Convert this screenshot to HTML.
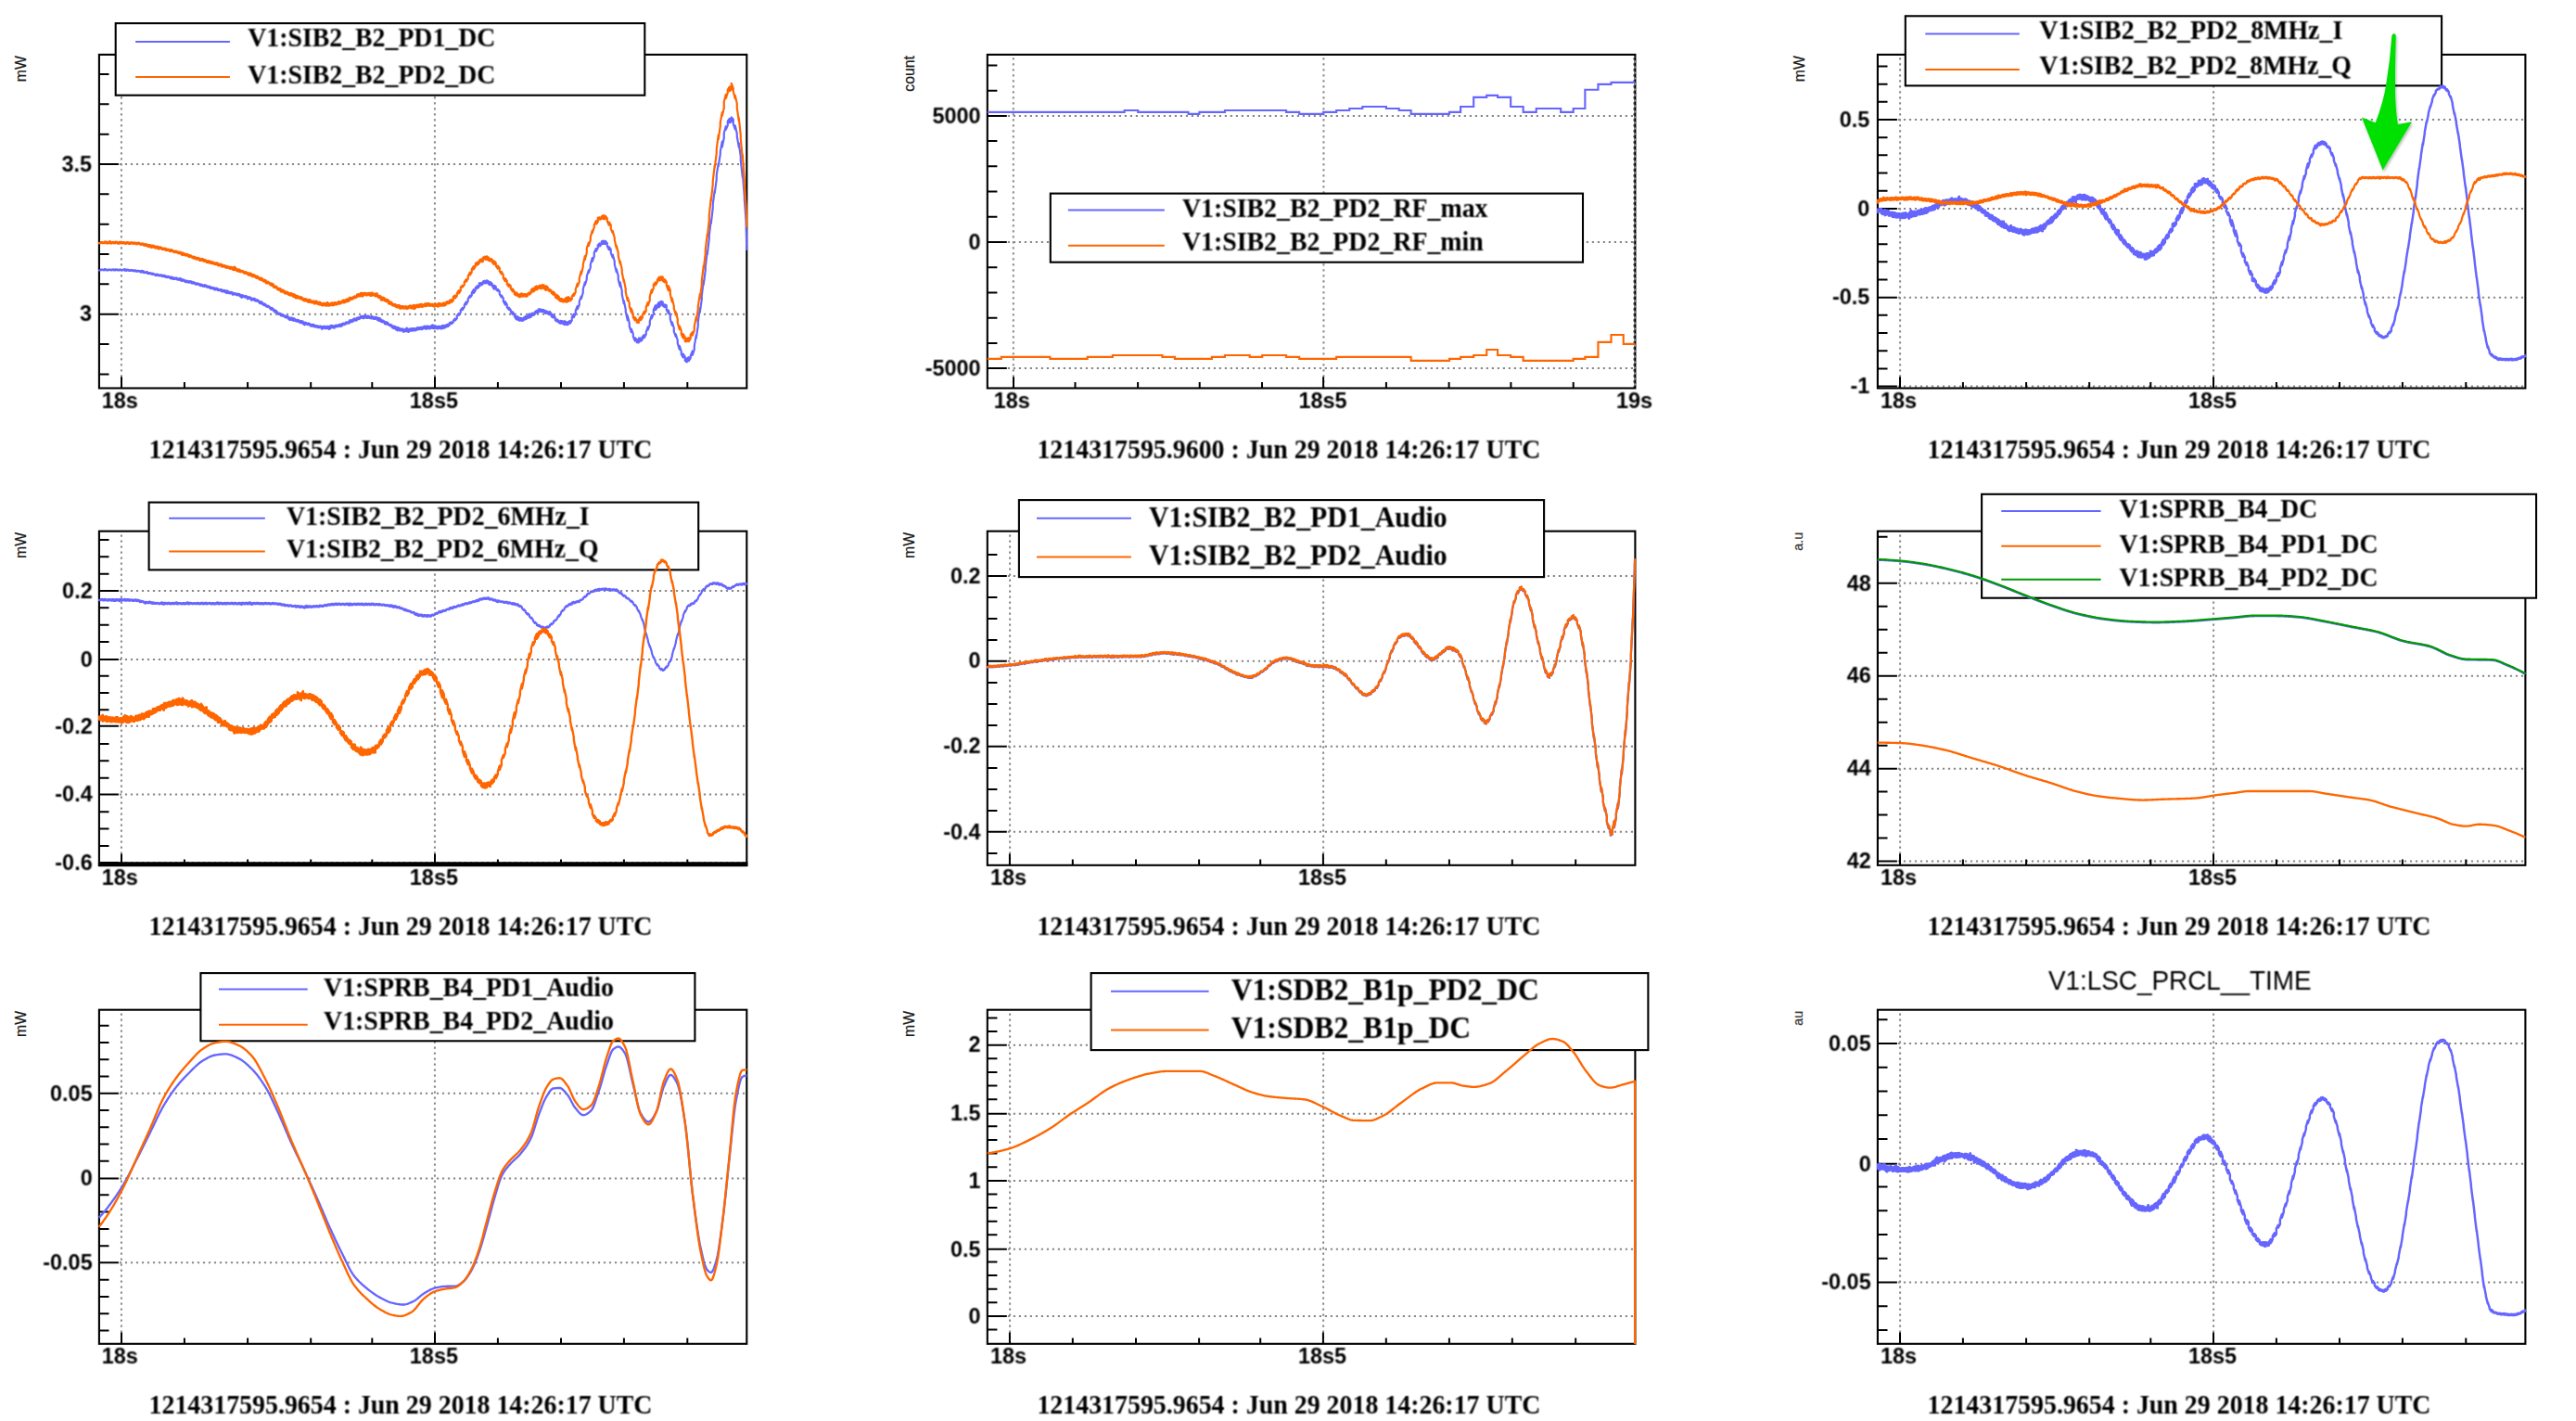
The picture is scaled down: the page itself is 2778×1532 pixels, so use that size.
<!DOCTYPE html>
<html lang="en"><head><meta charset="utf-8"><title>V1 lock acquisition signals</title>
<style>
html,body{margin:0;padding:0;background:#fff;}
body{width:2778px;height:1532px;overflow:hidden;}
svg{display:block;}
</style></head><body>
<svg width="2778" height="1532" viewBox="0 0 2778 1532">
<defs>
<clipPath id="c0"><rect x="105.9" y="57.9" width="700.6" height="361.6"/></clipPath>
<clipPath id="c1"><rect x="1063.8" y="57.9" width="700.8" height="361.6"/></clipPath>
<clipPath id="c2"><rect x="2023.9" y="57.9" width="700.7" height="361.6"/></clipPath>
<clipPath id="c3"><rect x="105.9" y="571.7" width="700.6" height="362.1"/></clipPath>
<clipPath id="c4"><rect x="1063.8" y="571.7" width="700.8" height="362.1"/></clipPath>
<clipPath id="c5"><rect x="2023.9" y="571.7" width="700.7" height="362.1"/></clipPath>
<clipPath id="c6"><rect x="105.9" y="1087.7" width="700.6" height="362.1"/></clipPath>
<clipPath id="c7"><rect x="1063.8" y="1087.7" width="700.8" height="362.1"/></clipPath>
<clipPath id="c8"><rect x="2023.9" y="1087.7" width="700.7" height="362.1"/></clipPath>
<filter id="sh" x="-30%" y="-10%" width="160%" height="130%"><feGaussianBlur in="SourceAlpha" stdDeviation="1.5"/><feOffset dx="1.2" dy="1.6"/><feComponentTransfer><feFuncA type="linear" slope="0.3"/></feComponentTransfer><feMerge><feMergeNode/><feMergeNode in="SourceGraphic"/></feMerge></filter>
<filter id="tb" x="-2%" y="-20%" width="104%" height="140%" color-interpolation-filters="sRGB"><feConvolveMatrix order="3" kernelMatrix="1 2 1 2 4 2 1 2 1" divisor="16" edgeMode="none" preserveAlpha="false"/></filter>
</defs>
<rect width="2778" height="1532" fill="#ffffff"/>
<g>
<path d="M130.9 418.5 V58.9 M468.9 418.5 V58.9 M128.9 177 H805.3 M128.9 338.7 H805.3" stroke="#888888" stroke-width="2" stroke-dasharray="2.2 3.8" fill="none"/>
<path d="M131 418.5 v-12.3 M198.9 418.5 v-6.4 M267.1 418.5 v-6.4 M335.2 418.5 v-6.4 M401.3 418.5 v-6.4 M469 418.5 v-12.3 M536.9 418.5 v-6.4 M605 418.5 v-6.4 M672.9 418.5 v-6.4 M741.3 418.5 v-6.4 M106.9 177 h21 M106.9 338.7 h21 M106.9 79.98 h10.6 M106.9 112.32 h10.6 M106.9 144.66 h10.6 M106.9 209.34 h10.6 M106.9 241.68 h10.6 M106.9 274.02 h10.6 M106.9 306.36 h10.6 M106.9 371.04 h10.6 M106.9 403.38 h10.6" stroke="#000" stroke-width="2" fill="none"/>
<rect x="106.9" y="58.9" width="698.4" height="359.6" fill="none" stroke="#000" stroke-width="2.1"/>
</g>
<g filter="url(#tb)" font-family="'Liberation Sans', Arial, Helvetica, sans-serif" font-weight="bold" font-size="24.8" fill="#000">
<text x="66.52" y="184.7" textLength="32.58" lengthAdjust="spacingAndGlyphs">3.5</text>
<text x="86.07" y="346.4" textLength="13.03" lengthAdjust="spacingAndGlyphs">3</text>
<text x="109.75" y="439.9" textLength="39.1" lengthAdjust="spacingAndGlyphs">18s</text>
<text x="441.83" y="439.9" textLength="52.14" lengthAdjust="spacingAndGlyphs">18s5</text>
</g>
<text transform="translate(28.4 60.1) rotate(-90)" text-anchor="end" font-family="'Liberation Sans', Arial, Helvetica, sans-serif" font-size="15.8" fill="#1a1a1a" stroke="#1a1a1a" stroke-width="0.25">mW</text>
<text filter="url(#tb)" x="160.5" y="493.9" font-family="'Liberation Serif', 'Times New Roman', Times, serif" font-weight="bold" font-size="29.26" textLength="543" lengthAdjust="spacingAndGlyphs" fill="#000">1214317595.9654 : Jun 29 2018 14:26:17 UTC</text>
<rect x="124.7" y="25.1" width="570.6" height="77.6" fill="#fff" stroke="#000" stroke-width="2.1"/>
<path d="M146.1 44.9 H247.9" stroke="#6666ff" stroke-width="2"/>
<text filter="url(#tb)" x="267.2" y="49.9" font-family="'Liberation Serif', 'Times New Roman', Times, serif" font-weight="bold" font-size="29.19" textLength="267.2" lengthAdjust="spacingAndGlyphs" fill="#000">V1:SIB2_B2_PD1_DC</text>
<path d="M146.1 82.9 H247.9" stroke="#ff6600" stroke-width="2"/>
<text filter="url(#tb)" x="267.2" y="89.5" font-family="'Liberation Serif', 'Times New Roman', Times, serif" font-weight="bold" font-size="29.19" textLength="267.2" lengthAdjust="spacingAndGlyphs" fill="#000">V1:SIB2_B2_PD2_DC</text>
<g clip-path="url(#c0)" fill="none" stroke-linejoin="round" stroke-linecap="butt">
<path d="M106.76 290.55 L106.76 291.48 L108.76 291.47 L108.76 290.63 L110.76 290.61 L110.76 291.27 L112.76 291.28 L112.76 290.15 L114.76 290.61 L114.76 291.39 L116.76 291.42 L116.76 290.64 L118.76 290.67 L118.76 291.27 L120.76 291.44 L120.76 290.56 L122.76 290.42 L122.76 291.36 L124.76 291.35 L124.76 290.42 L126.76 290.58 L126.76 291.49 L128.76 291.51 L128.76 290.66 L130.76 290.52 L130.76 291.27 L132.76 291.41 L132.76 290.69 L134.76 290.05 L134.76 291.65 L136.76 291.78 L136.76 290.68 L138.76 290.88 L138.76 291.87 L140.76 291.92 L140.76 291.02 L142.76 291.18 L142.76 292.02 L144.76 292.43 L144.76 291.31 L146.76 291.68 L146.76 292.59 L148.76 292.7 L148.76 291.76 L150.76 292.06 L150.76 293.06 L152.76 293.69 L152.76 291.82 L154.76 292.21 L154.76 293.91 L156.76 294.1 L156.76 293.24 L158.76 293 L158.76 294.59 L160.76 295.21 L160.76 294.12 L162.76 294.29 L162.76 295.35 L164.76 295.95 L164.76 294.7 L166.76 295.42 L166.76 296.44 L168.76 297.17 L168.76 295.69 L170.76 296.17 L170.76 297.27 L172.76 297.35 L172.76 296.28 L174.76 296.5 L174.76 297.92 L176.76 298.24 L176.76 296.89 L178.76 297.63 L178.76 298.88 L180.76 299.11 L180.76 297.85 L182.76 298.28 L182.76 299.53 L184.76 300.52 L184.76 298.56 L186.76 299.26 L186.76 300.93 L188.76 300.91 L188.76 299.68 L190.76 299.66 L190.76 301.31 L192.76 301.77 L192.76 300.36 L194.76 300.15 L194.76 302.4 L196.76 302.83 L196.76 301.2 L198.76 301.72 L198.76 303.33 L200.76 304.25 L200.76 302.49 L202.76 302.96 L202.76 304.3 L204.76 304.65 L204.76 303.19 L206.76 303.57 L206.76 305.52 L208.76 305.6 L208.76 304.2 L210.76 304.95 L210.76 306.53 L212.76 306.64 L212.76 305.34 L214.76 306.05 L214.76 307.16 L216.76 308.21 L216.76 306.4 L218.76 307.22 L218.76 308.73 L220.76 308.91 L220.76 307.2 L222.76 307.91 L222.76 309.43 L224.76 310.03 L224.76 308.67 L226.76 309.11 L226.76 310.91 L228.76 311.11 L228.76 309.8 L230.76 310.29 L230.76 312.12 L232.76 312.42 L232.76 310.71 L234.76 310.97 L234.76 312.94 L236.76 313.14 L236.76 311.98 L238.76 312.06 L238.76 314.1 L240.76 314.49 L240.76 312.87 L242.76 313.18 L242.76 315.07 L244.76 316.08 L244.76 313.46 L246.76 314.4 L246.76 316.17 L248.76 316.33 L248.76 314.75 L250.76 315.2 L250.76 317.67 L252.76 317.51 L252.76 316.02 L254.76 316.46 L254.76 317.9 L256.76 318.47 L256.76 316.69 L258.76 317.36 L258.76 319.42 L260.76 320.77 L260.76 318.11 L262.76 318.79 L262.76 320.03 L264.76 320.71 L264.76 318.94 L266.76 319.77 L266.76 322.26 L268.76 321.82 L268.76 320.2 L270.76 321.06 L270.76 323.55 L272.76 323.45 L272.76 321.79 L274.76 321.74 L274.76 324.25 L276.76 324.71 L276.76 323.06 L278.76 323.94 L278.76 325.5 L280.76 327.31 L280.76 325 L282.76 325.8 L282.76 327.78 L284.76 329.05 L284.76 327.31 L286.76 328.36 L286.76 330.28 L288.76 330.96 L288.76 329.56 L290.76 330.64 L290.76 332.21 L292.76 333.81 L292.76 331.77 L294.76 333.16 L294.76 334.74 L296.76 336.71 L296.76 334.47 L298.76 335.81 L298.76 337.8 L300.76 338.96 L300.76 337.49 L302.76 338.37 L302.76 340.18 L304.76 340.81 L304.76 338.99 L306.76 340.34 L306.76 341.62 L308.76 342.46 L308.76 340.47 L310.76 341.34 L310.76 343.59 L312.76 344.98 L312.76 342.56 L314.76 342.7 L314.76 344.94 L316.76 345.74 L316.76 343.13 L318.76 344.44 L318.76 346.12 L320.76 346.71 L320.76 344.9 L322.76 345.59 L322.76 347.52 L324.76 348.13 L324.76 346.15 L326.76 346.64 L326.76 349.06 L328.76 350.26 L328.76 347.57 L330.76 348.31 L330.76 349.76 L332.76 350.24 L332.76 348.39 L334.76 349.44 L334.76 351.4 L336.76 351.79 L336.76 349.81 L338.76 350.05 L338.76 352.16 L340.76 352.6 L340.76 351.17 L342.76 351.39 L342.76 353.23 L344.76 353.07 L344.76 351.55 L346.76 351.75 L346.76 354.64 L348.76 354.07 L348.76 351.87 L350.76 351.74 L350.76 354.05 L352.76 354.18 L352.76 351.94 L354.76 351.88 L354.76 355.03 L356.76 353.85 L356.76 350.82 L358.76 351.18 L358.76 353.21 L360.76 353.61 L360.76 351.36 L362.76 350.47 L362.76 352.5 L364.76 352 L364.76 350.49 L366.76 349.62 L366.76 352.02 L368.76 351.51 L368.76 349.12 L370.76 348.56 L370.76 350.22 L372.76 349.57 L372.76 347.69 L374.76 347.25 L374.76 348.74 L376.76 348.49 L376.76 345.67 L378.76 345.16 L378.76 347.2 L380.76 346.43 L380.76 344.26 L382.76 343.37 L382.76 345.59 L384.76 345.36 L384.76 342.79 L386.76 342.19 L386.76 344.26 L388.76 343.14 L388.76 341.04 L390.76 340.74 L390.76 343.01 L392.76 343.06 L392.76 340.34 L394.76 340.29 L394.76 342.58 L396.76 343 L396.76 340.56 L398.76 341.19 L398.76 342.82 L400.76 343.35 L400.76 340.96 L402.76 341.77 L402.76 343.85 L404.76 343.85 L404.76 341.75 L406.76 342.24 L406.76 344.68 L408.76 345.86 L408.76 342.77 L410.76 344.15 L410.76 346.65 L412.76 347.39 L412.76 345.39 L414.76 346.7 L414.76 349.02 L416.76 349.65 L416.76 347.13 L418.76 348.47 L418.76 350.17 L420.76 351.44 L420.76 349.82 L422.76 350.73 L422.76 352.95 L424.76 354.15 L424.76 351.5 L426.76 352.18 L426.76 355 L428.76 356.23 L428.76 352.94 L430.76 353.77 L430.76 356.47 L432.76 356.4 L432.76 354.47 L434.76 354.69 L434.76 357.64 L436.76 357.33 L436.76 355.25 L438.76 353.55 L438.76 357.25 L440.76 357.91 L440.76 354.71 L442.76 354.24 L442.76 356.66 L444.76 356.7 L444.76 354.05 L446.76 354 L446.76 356.38 L448.76 356.23 L448.76 354.01 L450.76 352.96 L450.76 355.32 L452.76 354.89 L452.76 353.15 L454.76 352.73 L454.76 355.27 L456.76 354.15 L456.76 352.14 L458.76 351.56 L458.76 354.63 L460.76 354.49 L460.76 351.59 L462.76 351.93 L462.76 354.5 L464.76 353.91 L464.76 351.48 L466.76 350.31 L466.76 353.96 L468.76 354.17 L468.76 351.25 L470.76 351.8 L470.76 354.19 L472.76 354.29 L472.76 351.88 L474.76 351.83 L474.76 354.18 L476.76 354.32 L476.76 351.12 L478.76 350.8 L478.76 353.84 L480.76 352.76 L480.76 350.47 L482.76 349.73 L482.76 352.16 L484.76 350.43 L484.76 347.95 L486.76 347.27 L486.76 349.13 L488.76 347.58 L488.76 345.64 L490.76 343.57 L490.76 345.56 L492.76 343.2 L492.76 340.37 L494.76 337.93 L494.76 339.97 L496.76 336.74 L496.76 334.2 L498.76 331.91 L498.76 334.11 L500.76 330.96 L500.76 328.59 L502.76 325.47 L502.76 328.33 L504.76 324.55 L504.76 322 L506.76 318.71 L506.76 320.85 L508.76 318.43 L508.76 315.46 L510.76 312.26 L510.76 316.03 L512.76 313.18 L512.76 310.28 L514.76 308.22 L514.76 310.86 L516.76 308.96 L516.76 305.35 L518.76 305.18 L518.76 307.59 L520.76 306.15 L520.76 303.57 L522.76 302.86 L522.76 305.28 L524.76 305.12 L524.76 302.32 L526.76 303.28 L526.76 306.33 L528.76 307.27 L528.76 304.15 L530.76 306.08 L530.76 308.07 L532.76 311.64 L532.76 307.77 L534.76 309.02 L534.76 311.68 L536.76 313.75 L536.76 311.74 L538.76 314.3 L538.76 317.24 L540.76 320.36 L540.76 318.3 L542.76 321.57 L542.76 324.82 L544.76 328.59 L544.76 325.18 L546.76 328.39 L546.76 331.38 L548.76 333.82 L548.76 331.59 L550.76 334.19 L550.76 336.14 L552.76 338.93 L552.76 336.02 L554.76 339.02 L554.76 340.85 L556.76 344.28 L556.76 341.01 L558.76 341.56 L558.76 345.03 L560.76 345.79 L560.76 342.7 L562.76 343.16 L562.76 345.85 L564.76 345.13 L564.76 342.6 L566.76 341.01 L566.76 344.36 L568.76 343.17 L568.76 340.99 L570.76 338.31 L570.76 342.56 L572.76 341.43 L572.76 338.19 L574.76 337.53 L574.76 340.15 L576.76 339.1 L576.76 336.46 L578.76 335 L578.76 337.36 L580.76 336.77 L580.76 333.47 L582.76 333.28 L582.76 335.83 L584.76 336.13 L584.76 333.84 L586.76 334.27 L586.76 336.81 L588.76 337.97 L588.76 335.09 L590.76 336.22 L590.76 338.31 L592.76 339.22 L592.76 335.82 L594.76 338.42 L594.76 341.38 L596.76 342.45 L596.76 339.47 L598.76 342.42 L598.76 345.08 L600.76 346.57 L600.76 344.42 L602.76 346.11 L602.76 348.04 L604.76 348.8 L604.76 345.77 L606.76 346.34 L606.76 348.87 L608.76 350 L608.76 346.13 L610.76 347.26 L610.76 350.12 L612.76 349.81 L612.76 347.26 L614.76 345.82 L614.76 348.73 L616.76 345.41 L616.76 342.16 L618.76 338.77 L618.76 342.19 L620.76 337.81 L620.76 334.7 L622.76 330.01 L622.76 333.45 L624.76 328.66 L624.76 324.8 L626.76 319.52 L626.76 322.08 L628.76 315.45 L628.76 311.78 L630.76 304.42 L630.76 307.35 L632.76 301.28 L632.76 298.03 L634.76 291.5 L634.76 294.25 L636.76 288.49 L636.76 285.2 L638.76 278.13 L638.76 281.84 L640.76 276.32 L640.76 272.56 L642.76 268.03 L642.76 270.98 L644.76 267.36 L644.76 264.33 L646.76 262.41 L646.76 265.41 L648.76 263.3 L648.76 260.27 L650.76 259.65 L650.76 262.95 L652.76 262.88 L652.76 259.81 L654.76 262.12 L654.76 265.21 L656.76 269.33 L656.76 266.18 L658.76 268.99 L658.76 272.6 L660.76 277.73 L660.76 274.66 L662.76 281.68 L662.76 285.06 L664.76 293.23 L664.76 289.98 L666.76 297.49 L666.76 301.43 L668.76 308.89 L668.76 304.27 L670.76 313.94 L670.76 317.59 L672.76 327.21 L672.76 324.05 L674.76 333.7 L674.76 336.13 L676.76 345.3 L676.76 340.3 L678.76 348.5 L678.76 351.88 L680.76 358.09 L680.76 354.66 L682.76 359.72 L682.76 362.87 L684.76 367.59 L684.76 364.17 L686.76 366.2 L686.76 369.26 L688.76 369.48 L688.76 364.63 L690.76 364.54 L690.76 368.02 L692.76 366.29 L692.76 363.09 L694.76 361.1 L694.76 364.16 L696.76 360.57 L696.76 357.88 L698.76 352.5 L698.76 355.63 L700.76 350.2 L700.76 346.45 L702.76 340 L702.76 343.28 L704.76 338.04 L704.76 334.16 L706.76 329.34 L706.76 334.23 L708.76 331.88 L708.76 328.61 L710.76 325.81 L710.76 331.19 L712.76 328.49 L712.76 324.91 L714.76 325.53 L714.76 329.64 L716.76 331.16 L716.76 328.28 L718.76 329.23 L718.76 334.06 L720.76 337.76 L720.76 334.36 L722.76 340.51 L722.76 343.84 L724.76 350.61 L724.76 347.32 L726.76 353.5 L726.76 357.29 L728.76 362.79 L728.76 360.29 L730.76 367.02 L730.76 370.14 L732.76 376.62 L732.76 372.75 L734.76 379.07 L734.76 381.88 L736.76 385.34 L736.76 381.6 L738.76 384.84 L738.76 388.84 L740.76 390.4 L740.76 386.42 L742.76 385.21 L742.76 389.11 L744.76 385.9 L744.76 383.32 L746.76 378.45 L746.76 382.99 L748.76 376.88 L748.76 373.38 L750.76 361.35 L750.76 364.69 L752.76 351.24 L752.76 347.66 L754.76 332.05 L754.76 336.96 L756.76 322.85 L756.76 319.21 L758.76 302.64 L758.76 306.79 L760.76 291.25 L760.76 287.85 L762.76 270.69 L762.76 274.35 L764.76 257.55 L764.76 254.11 L766.76 237.32 L766.76 241.06 L768.76 224.33 L768.76 220.15 L770.76 205.09 L770.76 208.1 L772.76 193.15 L772.76 188.42 L774.76 176.32 L774.76 178.96 L776.76 166.3 L776.76 163.64 L778.76 152.6 L778.76 158.42 L780.76 148.8 L780.76 143.55 L782.76 136.22 L782.76 139.75 L784.76 135.33 L784.76 130.6 L786.76 127.95 L786.76 132.36 L788.76 131.15 L788.76 126.46 L790.76 128.72 L790.76 133.72 L792.76 139.42 L792.76 135.31 L794.76 143.97 L794.76 146.78 L796.76 158.61 L796.76 154.16 L798.76 168.51 L798.76 172.61 L800.76 190.87 L800.76 185.98 L802.76 211.59 L802.76 214.27 L804.48 237.22 L805.3 270" stroke="#6666ff" stroke-width="2.2"/>
<path d="M106.76 260.94 L106.76 262.34 L108.76 262.27 L108.76 261.04 L110.76 260.98 L110.76 262.21 L112.76 262.23 L112.76 260.66 L114.76 260.66 L114.76 262.38 L116.76 262.3 L116.76 260.97 L118.76 260.1 L118.76 262.43 L120.76 262.32 L120.76 261.02 L122.76 260.82 L122.76 262.29 L124.76 262.07 L124.76 260.7 L126.76 261.02 L126.76 262.61 L128.76 262.63 L128.76 260.91 L130.76 260.74 L130.76 262.37 L132.76 262.39 L132.76 261.07 L134.76 261.27 L134.76 262.78 L136.76 262.59 L136.76 260.98 L138.76 261.29 L138.76 262.9 L140.76 262.86 L140.76 261.23 L142.76 261.25 L142.76 262.73 L144.76 262.94 L144.76 261.47 L146.76 261.74 L146.76 263.28 L148.76 263.08 L148.76 261.56 L150.76 262.04 L150.76 263.33 L152.76 263.92 L152.76 262.59 L154.76 262.63 L154.76 264.4 L156.76 264.83 L156.76 263.19 L158.76 263.53 L158.76 265.37 L160.76 266.18 L160.76 264.14 L162.76 264.32 L162.76 266.87 L164.76 266.66 L164.76 264.57 L166.76 265.35 L166.76 267.11 L168.76 267.6 L168.76 265.65 L170.76 265.97 L170.76 268.39 L172.76 268.11 L172.76 266.28 L174.76 267.18 L174.76 269.02 L176.76 269.23 L176.76 267.64 L178.76 267.84 L178.76 269.94 L180.76 269.88 L180.76 268.69 L182.76 269.09 L182.76 270.91 L184.76 270.88 L184.76 269.07 L186.76 270.13 L186.76 271.49 L188.76 272.14 L188.76 270.52 L190.76 270.81 L190.76 272.38 L192.76 273.35 L192.76 271.52 L194.76 271.8 L194.76 273.66 L196.76 275.18 L196.76 272.46 L198.76 273.36 L198.76 275.05 L200.76 275.7 L200.76 273.84 L202.76 274.33 L202.76 276.18 L204.76 277.14 L204.76 275.05 L206.76 275.98 L206.76 277.52 L208.76 278.66 L208.76 276.59 L210.76 277.19 L210.76 279.21 L212.76 279.57 L212.76 277.83 L214.76 278.28 L214.76 280.57 L216.76 280.89 L216.76 279.07 L218.76 279.18 L218.76 281.1 L220.76 281.85 L220.76 279.93 L222.76 280.89 L222.76 282.92 L224.76 283.29 L224.76 281.22 L226.76 281.64 L226.76 283.69 L228.76 284.2 L228.76 282.27 L230.76 283.13 L230.76 284.66 L232.76 285.19 L232.76 283.43 L234.76 283.63 L234.76 286.12 L236.76 286.33 L236.76 284.71 L238.76 284.91 L238.76 287.48 L240.76 287.61 L240.76 285.75 L242.76 286.33 L242.76 288.29 L244.76 288.96 L244.76 286.95 L246.76 287.45 L246.76 289.29 L248.76 289.82 L248.76 287.81 L250.76 288.29 L250.76 290.73 L252.76 291.17 L252.76 287.65 L254.76 289.5 L254.76 291.46 L256.76 292.61 L256.76 290.39 L258.76 290.9 L258.76 293.22 L260.76 293.24 L260.76 291.75 L262.76 292.47 L262.76 294.44 L264.76 294.99 L264.76 293.12 L266.76 293.92 L266.76 295.76 L268.76 296.86 L268.76 294.33 L270.76 294.73 L270.76 297.26 L272.76 298.29 L272.76 295.93 L274.76 296.61 L274.76 298.5 L276.76 299.89 L276.76 297.48 L278.76 298.75 L278.76 300.62 L280.76 301.87 L280.76 299.48 L282.76 300.11 L282.76 302.3 L284.76 303.55 L284.76 301.6 L286.76 302.27 L286.76 305.33 L288.76 305.4 L288.76 303.55 L290.76 304.99 L290.76 306.57 L292.76 307.95 L292.76 305.46 L294.76 306.57 L294.76 309.49 L296.76 310.14 L296.76 308.31 L298.76 309.42 L298.76 311.81 L300.76 312.77 L300.76 310.73 L302.76 311.28 L302.76 314.39 L304.76 314.78 L304.76 312.49 L306.76 313.74 L306.76 316.25 L308.76 316.58 L308.76 314.61 L310.76 315.23 L310.76 317.62 L312.76 318.6 L312.76 316.1 L314.76 316.43 L314.76 318.68 L316.76 320.18 L316.76 317.08 L318.76 318.3 L318.76 321.49 L320.76 321.44 L320.76 318.89 L322.76 319.91 L322.76 321.78 L324.76 322.58 L324.76 320.09 L326.76 321.57 L326.76 323.7 L328.76 324.5 L328.76 322.17 L330.76 322.59 L330.76 324.79 L332.76 325.89 L332.76 323 L334.76 323.37 L334.76 326.03 L336.76 326.44 L336.76 324.53 L338.76 324.49 L338.76 327.47 L340.76 327.31 L340.76 324.52 L342.76 325.71 L342.76 327.98 L344.76 328.52 L344.76 325.66 L346.76 326.83 L346.76 329.17 L348.76 329.39 L348.76 326.95 L350.76 327.07 L350.76 329.39 L352.76 329.61 L352.76 325.93 L354.76 327.33 L354.76 329.75 L356.76 329.13 L356.76 326.88 L358.76 326.34 L358.76 329.33 L360.76 328.69 L360.76 326.16 L362.76 326.32 L362.76 328.61 L364.76 327.7 L364.76 325.14 L366.76 325.33 L366.76 327.63 L368.76 326.32 L368.76 324.46 L370.76 323.37 L370.76 326.53 L372.76 325.65 L372.76 323.27 L374.76 322.31 L374.76 325.17 L376.76 324.24 L376.76 320.88 L378.76 320.96 L378.76 322.9 L380.76 322.28 L380.76 320.23 L382.76 319.38 L382.76 321.31 L384.76 320.46 L384.76 317.83 L386.76 317.15 L386.76 319.53 L388.76 319.29 L388.76 316.15 L390.76 315.77 L390.76 319.69 L392.76 317.93 L392.76 315.91 L394.76 316.12 L394.76 318.38 L396.76 318.09 L396.76 316.04 L398.76 315.89 L398.76 318.68 L400.76 318.93 L400.76 315.61 L402.76 316.54 L402.76 318.25 L404.76 319.41 L404.76 316.68 L406.76 316.41 L406.76 319.65 L408.76 321.05 L408.76 318.64 L410.76 319.48 L410.76 323.43 L412.76 323.66 L412.76 320.48 L414.76 321.51 L414.76 324.3 L416.76 325.11 L416.76 322.65 L418.76 323.56 L418.76 327.01 L420.76 327.91 L420.76 325.22 L422.76 326.35 L422.76 328.96 L424.76 329.77 L424.76 327.75 L426.76 328.25 L426.76 330.67 L428.76 331.43 L428.76 329.13 L430.76 329.11 L430.76 332.39 L432.76 332.62 L432.76 330.09 L434.76 330.13 L434.76 332.35 L436.76 332.66 L436.76 330.29 L438.76 330.44 L438.76 333.06 L440.76 332.16 L440.76 330 L442.76 329.31 L442.76 332.01 L444.76 332.58 L444.76 329.49 L446.76 328.89 L446.76 333.18 L448.76 331.36 L448.76 329.15 L450.76 328.63 L450.76 331.27 L452.76 330.86 L452.76 328.13 L454.76 327.89 L454.76 330.94 L456.76 330.37 L456.76 328.39 L458.76 327.27 L458.76 330.16 L460.76 329.76 L460.76 327.22 L462.76 327.2 L462.76 329.75 L464.76 329.79 L464.76 327.95 L466.76 327.86 L466.76 329.89 L468.76 330.59 L468.76 327.54 L470.76 327.85 L470.76 330.05 L472.76 330.57 L472.76 327.16 L474.76 327.1 L474.76 329.76 L476.76 329.63 L476.76 327.53 L478.76 326.47 L478.76 329.74 L480.76 328.79 L480.76 325.92 L482.76 325.05 L482.76 327.46 L484.76 326.97 L484.76 324.06 L486.76 323.08 L486.76 325.84 L488.76 324.12 L488.76 319.84 L490.76 318.54 L490.76 321.56 L492.76 319.29 L492.76 316.41 L494.76 313.05 L494.76 316.47 L496.76 313.47 L496.76 309.66 L498.76 307.79 L498.76 309.72 L500.76 306.77 L500.76 304.14 L502.76 301.17 L502.76 303.68 L504.76 300.55 L504.76 297.55 L506.76 293.73 L506.76 296.61 L508.76 293.44 L508.76 290.34 L510.76 287.05 L510.76 290.4 L512.76 287 L512.76 284.08 L514.76 282.58 L514.76 285.64 L516.76 283.82 L516.76 280.95 L518.76 279.37 L518.76 282.06 L520.76 282.22 L520.76 277.94 L522.76 276.66 L522.76 279.42 L524.76 280.04 L524.76 276.32 L526.76 277.47 L526.76 280.65 L528.76 281.4 L528.76 278.84 L530.76 279.75 L530.76 282.79 L532.76 284.89 L532.76 281.35 L534.76 283.24 L534.76 286.56 L536.76 289.51 L536.76 286.55 L538.76 288.94 L538.76 292.35 L540.76 295.41 L540.76 292.74 L542.76 296.5 L542.76 299.99 L544.76 303.14 L544.76 299.98 L546.76 302.89 L546.76 306.43 L548.76 308.94 L548.76 306.42 L550.76 308.25 L550.76 311.22 L552.76 314.22 L552.76 311.38 L554.76 314.3 L554.76 317.18 L556.76 318.45 L556.76 315.4 L558.76 317.31 L558.76 319.5 L560.76 320.28 L560.76 317.26 L562.76 316.31 L562.76 319.64 L564.76 319.39 L564.76 317.05 L566.76 317.1 L566.76 319.63 L568.76 319.4 L568.76 316.84 L570.76 315.43 L570.76 317.54 L572.76 315.83 L572.76 312.62 L574.76 310.97 L574.76 314.61 L576.76 313.06 L576.76 309.77 L578.76 308.49 L578.76 312.41 L580.76 310.72 L580.76 308.42 L582.76 307.57 L582.76 311.13 L584.76 310.8 L584.76 307.13 L586.76 307.67 L586.76 310.87 L588.76 312.98 L588.76 308.23 L590.76 309.59 L590.76 312.36 L592.76 314.09 L592.76 311.96 L594.76 313.56 L594.76 315.96 L596.76 317.74 L596.76 314.48 L598.76 316.99 L598.76 320.03 L600.76 322.01 L600.76 318.11 L602.76 320.02 L602.76 323.54 L604.76 324.9 L604.76 321.88 L606.76 322.64 L606.76 325.32 L608.76 325.32 L608.76 322.92 L610.76 320.81 L610.76 325.7 L612.76 324.88 L612.76 320.03 L614.76 321.84 L614.76 324.34 L616.76 322.55 L616.76 319.44 L618.76 316.52 L618.76 319.03 L620.76 314.74 L620.76 311.78 L622.76 305.66 L622.76 308.84 L624.76 303.9 L624.76 299.87 L626.76 292.28 L626.76 295.71 L628.76 287.62 L628.76 285.32 L630.76 276.15 L630.76 280.18 L632.76 272.56 L632.76 267.75 L634.76 261.62 L634.76 265.17 L636.76 258.96 L636.76 255.67 L638.76 248.54 L638.76 251.15 L640.76 245.16 L640.76 242.4 L642.76 238.11 L642.76 241.72 L644.76 239.31 L644.76 234.86 L646.76 234.27 L646.76 236.66 L648.76 235.99 L648.76 233.43 L650.76 232.1 L650.76 236.09 L652.76 235.79 L652.76 232.7 L654.76 235.43 L654.76 238.2 L656.76 242.69 L656.76 239.37 L658.76 242.54 L658.76 246.56 L660.76 251.37 L660.76 248.94 L662.76 256.41 L662.76 258.85 L664.76 267.27 L664.76 264.82 L666.76 272.61 L666.76 275.9 L668.76 284.38 L668.76 281.49 L670.76 290.81 L670.76 293.68 L672.76 303.73 L672.76 301.34 L674.76 311.49 L674.76 314.84 L676.76 324.14 L676.76 320.69 L678.76 327.01 L678.76 330.44 L680.76 336.65 L680.76 332.69 L682.76 338.43 L682.76 342.23 L684.76 345.43 L684.76 342.13 L686.76 345.03 L686.76 347.56 L688.76 347.95 L688.76 344.69 L690.76 341.45 L690.76 345.45 L692.76 342.68 L692.76 339.61 L694.76 335.77 L694.76 338.38 L696.76 335.12 L696.76 331.01 L698.76 325.9 L698.76 329.43 L700.76 324.15 L700.76 319.73 L702.76 312.35 L702.76 315.96 L704.76 310.71 L704.76 307 L706.76 304.3 L706.76 307.54 L708.76 304.51 L708.76 301.87 L710.76 298.77 L710.76 302.54 L712.76 301.84 L712.76 298.42 L714.76 298.56 L714.76 302.89 L716.76 304.25 L716.76 301.03 L718.76 303.95 L718.76 307.91 L720.76 313.13 L720.76 308.15 L722.76 312.78 L722.76 317.17 L724.76 325.47 L724.76 321.61 L726.76 329.77 L726.76 332.53 L728.76 339.58 L728.76 336.39 L730.76 343.97 L730.76 347.97 L732.76 355.24 L732.76 351.53 L734.76 356.54 L734.76 360.5 L736.76 364.54 L736.76 360.15 L738.76 363.63 L738.76 368.03 L740.76 368.21 L740.76 364.74 L742.76 364.23 L742.76 368.05 L744.76 364.88 L744.76 360.73 L746.76 358.03 L746.76 361.71 L748.76 356.08 L748.76 352.02 L750.76 341.69 L750.76 345.93 L752.76 334.04 L752.76 330.42 L754.76 317.2 L754.76 322.15 L756.76 307.29 L756.76 303.09 L758.76 286.49 L758.76 290.22 L760.76 273.27 L760.76 269.03 L762.76 252.57 L762.76 255.92 L764.76 237.59 L764.76 232.53 L766.76 213.47 L766.76 216.87 L768.76 198.67 L768.76 195.13 L770.76 178.18 L770.76 180.76 L772.76 165.11 L772.76 160.74 L774.76 145.29 L774.76 149.99 L776.76 136.12 L776.76 132.29 L778.76 121.1 L778.76 124.8 L780.76 116.69 L780.76 110 L782.76 101.8 L782.76 106.08 L784.76 100.11 L784.76 96.92 L786.76 93.47 L786.76 98.15 L788.76 96.51 L788.76 89.97 L790.76 95.16 L790.76 98.41 L792.76 106.22 L792.76 102.88 L794.76 111.57 L794.76 115.94 L796.76 130.24 L796.76 126.99 L798.76 145.64 L798.76 149.41 L800.76 170.6 L800.76 166.7 L802.76 194.05 L802.76 198.81 L804.48 221.17 L805.3 245" stroke="#ff6600" stroke-width="2.2"/>
</g>
<g>
<path d="M1092.8 418.5 V58.9 M1427.45 418.5 V58.9 M1762.1 418.5 V58.9 M1086.8 124.9 H1763.4 M1086.8 261 H1763.4 M1086.8 397 H1763.4" stroke="#888888" stroke-width="2" stroke-dasharray="2.2 3.8" fill="none"/>
<path d="M1093 418.5 v-12.3 M1159.5 418.5 v-6.4 M1227.1 418.5 v-6.4 M1293.7 418.5 v-6.4 M1361 418.5 v-6.4 M1427.1 418.5 v-12.3 M1494.9 418.5 v-6.4 M1562.6 418.5 v-6.4 M1629.4 418.5 v-6.4 M1696.7 418.5 v-6.4 M1064.8 124.9 h21 M1064.8 261 h21 M1064.8 397 h21 M1064.8 70.46 h10.6 M1064.8 97.68 h10.6 M1064.8 152.12 h10.6 M1064.8 179.34 h10.6 M1064.8 206.56 h10.6 M1064.8 233.78 h10.6 M1064.8 288.22 h10.6 M1064.8 315.44 h10.6 M1064.8 342.66 h10.6 M1064.8 369.88 h10.6" stroke="#000" stroke-width="2" fill="none"/>
<rect x="1064.8" y="58.9" width="698.6" height="359.6" fill="none" stroke="#000" stroke-width="2.1"/>
<path d="M1763.4 415.5 V60.9" stroke="#9a9a9a" stroke-width="2.1" stroke-dasharray="2 4" fill="none"/>
</g>
<g filter="url(#tb)" font-family="'Liberation Sans', Arial, Helvetica, sans-serif" font-weight="bold" font-size="24.8" fill="#000">
<text x="1005.46" y="132.6" textLength="52.14" lengthAdjust="spacingAndGlyphs">5000</text>
<text x="1044.57" y="268.7" textLength="13.03" lengthAdjust="spacingAndGlyphs">0</text>
<text x="997.66" y="404.7" textLength="59.94" lengthAdjust="spacingAndGlyphs">-5000</text>
<text x="1071.65" y="439.9" textLength="39.1" lengthAdjust="spacingAndGlyphs">18s</text>
<text x="1400.38" y="439.9" textLength="52.14" lengthAdjust="spacingAndGlyphs">18s5</text>
<text x="1742.95" y="439.9" textLength="39.1" lengthAdjust="spacingAndGlyphs">19s</text>
</g>
<text transform="translate(986.3 60.1) rotate(-90)" text-anchor="end" font-family="'Liberation Sans', Arial, Helvetica, sans-serif" font-size="15.8" fill="#1a1a1a" stroke="#1a1a1a" stroke-width="0.25">count</text>
<text filter="url(#tb)" x="1118.4" y="493.9" font-family="'Liberation Serif', 'Times New Roman', Times, serif" font-weight="bold" font-size="29.26" textLength="543" lengthAdjust="spacingAndGlyphs" fill="#000">1214317595.9600 : Jun 29 2018 14:26:17 UTC</text>
<rect x="1132.8" y="208.6" width="574.2" height="74.1" fill="#fff" stroke="#000" stroke-width="2.1"/>
<path d="M1151.9 226.6 H1255.8" stroke="#6666ff" stroke-width="2"/>
<text filter="url(#tb)" x="1274.9" y="234.1" font-family="'Liberation Serif', 'Times New Roman', Times, serif" font-weight="bold" font-size="29.24" textLength="329.6" lengthAdjust="spacingAndGlyphs" fill="#000">V1:SIB2_B2_PD2_RF_max</text>
<path d="M1151.9 264.8 H1255.8" stroke="#ff6600" stroke-width="2"/>
<text filter="url(#tb)" x="1274.9" y="270" font-family="'Liberation Serif', 'Times New Roman', Times, serif" font-weight="bold" font-size="29.24" textLength="324.9" lengthAdjust="spacingAndGlyphs" fill="#000">V1:SIB2_B2_PD2_RF_min</text>
<g clip-path="url(#c1)" fill="none" stroke-linejoin="round" stroke-linecap="butt">
<path d="M1064.85 120.92 H1212.61 V118.95 H1227.24 V120.92 H1281.56 V122.89 H1293.38 V120.92 H1320.96 V118.95 H1387.1 V120.92 H1401.18 V122.89 H1427.07 V120.92 H1441.14 V118.95 H1455.21 V116.98 H1469.29 V115.01 H1494.9 V116.98 H1508.69 V118.95 H1521.63 V122.89 H1563.01 V120.92 H1575.11 V115.01 H1589.18 V104.88 H1603.25 V102.91 H1615.07 V104.88 H1629.15 V115.01 H1642.66 V120.92 H1656.73 V116.98 H1683.18 V120.92 H1696.69 V116.98 H1709.36 V96.72 H1723.43 V90.81 H1737.5 V88.84 H1763.39" stroke="#6666ff" stroke-width="2.15" stroke-linejoin="miter"/>
<path d="M1064.85 386.89 H1079.77 V384.92 H1132.4 V386.89 H1172.64 V384.92 H1199.94 V382.95 H1253.42 V384.92 H1266.93 V386.89 H1306.89 V384.92 H1320.96 V382.95 H1347.7 V384.92 H1361.21 V382.95 H1387.1 V384.92 H1401.18 V386.89 H1441.14 V384.92 H1521.63 V388.86 H1563.01 V386.89 H1575.11 V384.92 H1589.18 V382.95 H1603.25 V377.04 H1615.07 V382.95 H1629.15 V384.92 H1642.66 V388.86 H1696.69 V386.89 H1709.36 V384.92 H1723.43 V368.88 H1737.5 V361 H1750.73 V370.85 H1763.39" stroke="#ff6600" stroke-width="2.15" stroke-linejoin="miter"/>
</g>
<g>
<path d="M2049.1 418.5 V58.9 M2387.1 418.5 V58.9 M2046.9 129 H2723.4 M2046.9 225 H2723.4 M2046.9 320.7 H2723.4 M2046.9 416.6 H2723.4" stroke="#888888" stroke-width="2" stroke-dasharray="2.2 3.8" fill="none"/>
<path d="M2049 418.5 v-12.3 M2116.9 418.5 v-6.4 M2185.1 418.5 v-6.4 M2253.2 418.5 v-6.4 M2319.3 418.5 v-6.4 M2387 418.5 v-12.3 M2454.9 418.5 v-6.4 M2523 418.5 v-6.4 M2590.9 418.5 v-6.4 M2659.3 418.5 v-6.4 M2024.9 129 h21 M2024.9 225 h21 M2024.9 320.7 h21 M2024.9 416.6 h21 M2024.9 71.49 h10.6 M2024.9 90.66 h10.6 M2024.9 109.83 h10.6 M2024.9 148.17 h10.6 M2024.9 167.34 h10.6 M2024.9 186.51 h10.6 M2024.9 205.68 h10.6 M2024.9 244.02 h10.6 M2024.9 263.19 h10.6 M2024.9 282.36 h10.6 M2024.9 301.53 h10.6 M2024.9 339.87 h10.6 M2024.9 359.04 h10.6 M2024.9 378.21 h10.6 M2024.9 397.38 h10.6" stroke="#000" stroke-width="2" fill="none"/>
<rect x="2024.9" y="58.9" width="698.5" height="359.6" fill="none" stroke="#000" stroke-width="2.1"/>
</g>
<g filter="url(#tb)" font-family="'Liberation Sans', Arial, Helvetica, sans-serif" font-weight="bold" font-size="24.8" fill="#000">
<text x="1983.82" y="136.7" textLength="32.58" lengthAdjust="spacingAndGlyphs">0.5</text>
<text x="2003.37" y="232.7" textLength="13.03" lengthAdjust="spacingAndGlyphs">0</text>
<text x="1976.02" y="328.4" textLength="40.38" lengthAdjust="spacingAndGlyphs">-0.5</text>
<text x="1995.56" y="424.3" textLength="20.84" lengthAdjust="spacingAndGlyphs">-1</text>
<text x="2027.95" y="439.9" textLength="39.1" lengthAdjust="spacingAndGlyphs">18s</text>
<text x="2360.03" y="439.9" textLength="52.14" lengthAdjust="spacingAndGlyphs">18s5</text>
</g>
<text transform="translate(1946.4 60.1) rotate(-90)" text-anchor="end" font-family="'Liberation Sans', Arial, Helvetica, sans-serif" font-size="15.8" fill="#1a1a1a" stroke="#1a1a1a" stroke-width="0.25">mW</text>
<text filter="url(#tb)" x="2078.5" y="493.9" font-family="'Liberation Serif', 'Times New Roman', Times, serif" font-weight="bold" font-size="29.26" textLength="543" lengthAdjust="spacingAndGlyphs" fill="#000">1214317595.9654 : Jun 29 2018 14:26:17 UTC</text>
<rect x="2054.8" y="17.3" width="578.3" height="75.1" fill="#fff" stroke="#000" stroke-width="2.1"/>
<path d="M2076.3 36.6 H2177.8" stroke="#6666ff" stroke-width="2"/>
<text filter="url(#tb)" x="2199.3" y="42.2" font-family="'Liberation Serif', 'Times New Roman', Times, serif" font-weight="bold" font-size="29.29" textLength="327" lengthAdjust="spacingAndGlyphs" fill="#000">V1:SIB2_B2_PD2_8MHz_I</text>
<path d="M2076.3 74.9 H2177.8" stroke="#ff6600" stroke-width="2"/>
<text filter="url(#tb)" x="2199.3" y="80" font-family="'Liberation Serif', 'Times New Roman', Times, serif" font-weight="bold" font-size="29.29" textLength="336.7" lengthAdjust="spacingAndGlyphs" fill="#000">V1:SIB2_B2_PD2_8MHz_Q</text>
<g clip-path="url(#c2)" fill="none" stroke-linejoin="round" stroke-linecap="butt">
<path d="M2024.85 224.5 L2024.85 228.63 L2026.85 228.18 L2026.85 225.35 L2028.85 225.1 L2028.85 230.19 L2030.85 230.99 L2030.85 226.69 L2032.85 226.17 L2032.85 232.25 L2034.85 231.16 L2034.85 226.86 L2036.85 227.16 L2036.85 232.59 L2038.85 232.42 L2038.85 228.93 L2040.85 228.72 L2040.85 233.77 L2042.85 233.9 L2042.85 229.24 L2044.85 230 L2044.85 234.43 L2046.85 234.23 L2046.85 230.24 L2048.85 230.29 L2048.85 234.71 L2050.85 235 L2050.85 230.3 L2052.85 229.83 L2052.85 234.98 L2054.85 234.86 L2054.85 229.35 L2056.85 230.48 L2056.85 233.44 L2058.85 235.8 L2058.85 229.93 L2060.85 226.84 L2060.85 234.03 L2062.85 233.15 L2062.85 228.04 L2064.85 227.99 L2064.85 232.97 L2066.85 232.54 L2066.85 228.12 L2068.85 226.75 L2068.85 231.27 L2070.85 231.29 L2070.85 226.29 L2072.85 226 L2072.85 230.77 L2074.85 230.21 L2074.85 225.08 L2076.85 224.02 L2076.85 229.87 L2078.85 228.83 L2078.85 224.33 L2080.85 223.52 L2080.85 227.19 L2082.85 226.65 L2082.85 222.72 L2084.85 221.52 L2084.85 226.39 L2086.85 225.46 L2086.85 221.04 L2088.85 219.64 L2088.85 223.75 L2090.85 223.4 L2090.85 218.41 L2092.85 217.24 L2092.85 221.25 L2094.85 220.36 L2094.85 216.31 L2096.85 215.99 L2096.85 221.46 L2098.85 220.43 L2098.85 215.52 L2100.85 215.45 L2100.85 219.4 L2102.85 218.54 L2102.85 214.74 L2104.85 213.68 L2104.85 219.25 L2106.85 218.17 L2106.85 214.45 L2108.85 214.43 L2108.85 218.88 L2110.85 217.88 L2110.85 214.59 L2112.85 211.72 L2112.85 217.66 L2114.85 218.51 L2114.85 213.91 L2116.85 214.84 L2116.85 218.77 L2118.85 218.66 L2118.85 214.53 L2120.85 214.92 L2120.85 219.94 L2122.85 220.78 L2122.85 216.43 L2124.85 217.03 L2124.85 221.23 L2126.85 222.92 L2126.85 217.41 L2128.85 219.24 L2128.85 222.79 L2130.85 224.78 L2130.85 219.47 L2132.85 221.19 L2132.85 226.48 L2134.85 226.66 L2134.85 222.14 L2136.85 224.75 L2136.85 228.68 L2138.85 229.63 L2138.85 226.43 L2140.85 226.93 L2140.85 232.52 L2142.85 232.76 L2142.85 228.98 L2144.85 230.76 L2144.85 234.92 L2146.85 236.14 L2146.85 231.65 L2148.85 232.33 L2148.85 237.32 L2150.85 238.48 L2150.85 234.3 L2152.85 235.36 L2152.85 239.26 L2154.85 241.92 L2154.85 236.46 L2156.85 238.37 L2156.85 242.85 L2158.85 244.5 L2158.85 238.77 L2160.85 238.74 L2160.85 245.44 L2162.85 245.8 L2162.85 241.19 L2164.85 243.74 L2164.85 247.24 L2166.85 249.06 L2166.85 244.6 L2168.85 242.97 L2168.85 248.61 L2170.85 249.76 L2170.85 244.93 L2172.85 245.75 L2172.85 249.95 L2174.85 250.82 L2174.85 246.38 L2176.85 247.55 L2176.85 251.76 L2178.85 251.13 L2178.85 246.8 L2180.85 247.83 L2180.85 252.23 L2182.85 253.54 L2182.85 248.15 L2184.85 247.43 L2184.85 252.51 L2186.85 252.84 L2186.85 248.37 L2188.85 248.22 L2188.85 252.19 L2190.85 251.2 L2190.85 247.04 L2192.85 246.47 L2192.85 250.8 L2194.85 250.5 L2194.85 245.79 L2196.85 245.4 L2196.85 250.45 L2198.85 249.27 L2198.85 244.71 L2200.85 243.07 L2200.85 248.55 L2202.85 249.22 L2202.85 242.86 L2204.85 241.24 L2204.85 246.78 L2206.85 242.87 L2206.85 239.55 L2208.85 237.65 L2208.85 241.52 L2210.85 240.81 L2210.85 235.82 L2212.85 233.79 L2212.85 239.88 L2214.85 236.7 L2214.85 232.57 L2216.85 230.57 L2216.85 235.03 L2218.85 233.14 L2218.85 228.3 L2220.85 226.08 L2220.85 230.94 L2222.85 227.5 L2222.85 223.49 L2224.85 221.47 L2224.85 225.38 L2226.85 223.88 L2226.85 220.51 L2228.85 217.74 L2228.85 222.32 L2230.85 221.23 L2230.85 216.29 L2232.85 214.89 L2232.85 220.12 L2234.85 218.56 L2234.85 212.4 L2236.85 212.13 L2236.85 217.21 L2238.85 218.06 L2238.85 212.47 L2240.85 210.21 L2240.85 214.63 L2242.85 214.42 L2242.85 209.63 L2244.85 210.49 L2244.85 215.34 L2246.85 215.34 L2246.85 209.93 L2248.85 210.23 L2248.85 215.48 L2250.85 215.15 L2250.85 211.3 L2252.85 212.64 L2252.85 215.97 L2254.85 217.68 L2254.85 212.94 L2256.85 212.97 L2256.85 217.37 L2258.85 220 L2258.85 214.61 L2260.85 216.81 L2260.85 221.08 L2262.85 224.44 L2262.85 218.5 L2264.85 222.31 L2264.85 226.15 L2266.85 230.49 L2266.85 225.29 L2268.85 226.89 L2268.85 231.64 L2270.85 236.36 L2270.85 229.37 L2272.85 233.72 L2272.85 236.96 L2274.85 240.44 L2274.85 236.28 L2276.85 239.25 L2276.85 243.93 L2278.85 247.26 L2278.85 241.88 L2280.85 245.86 L2280.85 250.02 L2282.85 253.11 L2282.85 247.63 L2284.85 248.39 L2284.85 255.26 L2286.85 258.7 L2286.85 253.2 L2288.85 256.68 L2288.85 260.3 L2290.85 263.22 L2290.85 258.52 L2292.85 261.57 L2292.85 264.81 L2294.85 266.87 L2294.85 263.2 L2296.85 264.3 L2296.85 268.51 L2298.85 271.33 L2298.85 266.68 L2300.85 268.64 L2300.85 273.86 L2302.85 274.68 L2302.85 270.77 L2304.85 270.75 L2304.85 276.37 L2306.85 277.27 L2306.85 271.86 L2308.85 272.3 L2308.85 277.47 L2310.85 277.35 L2310.85 273.76 L2312.85 273.94 L2312.85 279.49 L2314.85 279.44 L2314.85 273.37 L2316.85 273.35 L2316.85 278.3 L2318.85 276.82 L2318.85 270.72 L2320.85 271.31 L2320.85 275.51 L2322.85 275.25 L2322.85 270.77 L2324.85 268.36 L2324.85 272.4 L2326.85 270.98 L2326.85 266.32 L2328.85 264.22 L2328.85 269.58 L2330.85 267.19 L2330.85 262.87 L2332.85 258.32 L2332.85 264.06 L2334.85 261.31 L2334.85 257.09 L2336.85 252.93 L2336.85 257.3 L2338.85 255.44 L2338.85 250.6 L2340.85 246.76 L2340.85 250.6 L2342.85 248.32 L2342.85 241.46 L2344.85 240.36 L2344.85 244.03 L2346.85 241.4 L2346.85 236.12 L2348.85 232.38 L2348.85 237.2 L2350.85 233.54 L2350.85 228.68 L2352.85 224.41 L2352.85 230.07 L2354.85 225.25 L2354.85 220.85 L2356.85 216.35 L2356.85 220.45 L2358.85 217.07 L2358.85 212.54 L2360.85 208.67 L2360.85 212.69 L2362.85 209.44 L2362.85 204.9 L2364.85 202 L2364.85 207.23 L2366.85 204.79 L2366.85 198.14 L2368.85 198.01 L2368.85 201.56 L2370.85 199.72 L2370.85 194.9 L2372.85 194.68 L2372.85 199.61 L2374.85 198.67 L2374.85 192.93 L2376.85 192.26 L2376.85 196.93 L2378.85 197.23 L2378.85 193.46 L2380.85 192.84 L2380.85 197.88 L2382.85 200.11 L2382.85 195.36 L2384.85 197.38 L2384.85 202.04 L2386.85 203.33 L2386.85 199.36 L2388.85 200.8 L2388.85 205.1 L2390.85 207.64 L2390.85 203.69 L2392.85 207.75 L2392.85 211.24 L2394.85 214.52 L2394.85 211.88 L2396.85 214.61 L2396.85 218.74 L2398.85 223.61 L2398.85 219.45 L2400.85 223 L2400.85 227.53 L2402.85 231.91 L2402.85 229.05 L2404.85 233.77 L2404.85 238.07 L2406.85 243.55 L2406.85 237.23 L2408.85 244.41 L2408.85 248.99 L2410.85 254.55 L2410.85 248.45 L2412.85 255.55 L2412.85 259.79 L2414.85 264.91 L2414.85 261.98 L2416.85 265.1 L2416.85 271.16 L2418.85 276.72 L2418.85 273.04 L2420.85 277.43 L2420.85 281.89 L2422.85 285.87 L2422.85 282.75 L2424.85 287.89 L2424.85 291.03 L2426.85 296.07 L2426.85 291.9 L2428.85 296.26 L2428.85 302.61 L2430.85 303.4 L2430.85 300.33 L2432.85 303.12 L2432.85 307.04 L2434.85 310.34 L2434.85 306.8 L2436.85 309.51 L2436.85 313.15 L2438.85 314.15 L2438.85 310.52 L2440.85 311.16 L2440.85 314.49 L2442.85 315.57 L2442.85 311.73 L2444.85 311.16 L2444.85 315.49 L2446.85 314.12 L2446.85 311.17 L2448.85 308.81 L2448.85 312.59 L2450.85 309.79 L2450.85 306.4 L2452.85 302.36 L2452.85 306.21 L2454.85 302.31 L2454.85 298.54 L2456.85 294.24 L2456.85 297.96 L2458.85 293.39 L2458.85 289.29 L2460.85 282.4 L2460.85 285.89 L2462.85 278.87 L2462.85 276.59 L2464.85 269.71 L2464.85 272.56 L2466.85 266.22 L2466.85 262.8 L2468.85 254.81 L2468.85 258.7 L2470.85 249.71 L2470.85 246.93 L2472.85 237.96 L2472.85 241.47 L2474.85 232.7 L2474.85 229.47 L2476.85 222.45 L2476.85 224.5 L2478.85 216.71 L2478.85 213.05 L2480.85 205.85 L2480.85 208.55 L2482.85 200.67 L2482.85 198.24 L2484.85 189.75 L2484.85 192.94 L2486.85 186.92 L2486.85 184.05 L2488.85 176.3 L2488.85 180.71 L2490.85 174.44 L2490.85 171.66 L2492.85 166.66 L2492.85 169.2 L2494.85 164.39 L2494.85 161.63 L2496.85 156.84 L2496.85 160.36 L2498.85 158.27 L2498.85 155.61 L2500.85 153.78 L2500.85 156.6 L2502.85 155.71 L2502.85 152.95 L2504.85 152.57 L2504.85 155.06 L2506.85 155.9 L2506.85 153.06 L2508.85 155.07 L2508.85 157.31 L2510.85 159.51 L2510.85 157.68 L2512.85 159.9 L2512.85 162.33 L2514.85 167.46 L2514.85 165.02 L2516.85 170.55 L2516.85 172.9 L2518.85 178.9 L2518.85 176.7 L2520.85 184.39 L2520.85 186.16 L2522.85 193.49 L2522.85 191.9 L2524.85 200.24 L2524.85 202.38 L2526.85 211.9 L2526.85 209.66 L2528.85 220.07 L2528.85 222.25 L2530.85 232.55 L2530.85 230.25 L2532.85 240.29 L2532.85 243.11 L2534.85 252.6 L2534.85 250.33 L2536.85 260.49 L2536.85 262.72 L2538.85 272.81 L2538.85 271.08 L2540.85 281.2 L2540.85 282.86 L2542.85 293.89 L2542.85 291.21 L2544.85 298.83 L2544.85 301.83 L2546.85 311.05 L2546.85 308.95 L2548.85 317.61 L2548.85 320.04 L2550.85 328.48 L2550.85 326.08 L2552.85 333.89 L2552.85 335.85 L2554.85 342.09 L2554.85 340.35 L2556.85 345.86 L2556.85 347.84 L2558.85 352.57 L2558.85 350.29 L2560.85 354.5 L2560.85 356.54 L2562.85 359.68 L2562.85 357.65 L2564.85 359.48 L2564.85 361.43 L2566.85 362.77 L2566.85 361.24 L2568.85 362.37 L2568.85 364.05 L2570.85 364.35 L2570.85 363.1 L2572.85 362.4 L2572.85 363.58 L2574.85 362.18 L2574.85 360.52 L2576.85 357.65 L2576.85 359.17 L2578.85 356.67 L2578.85 354.13 L2580.85 349.13 L2580.85 350.67 L2582.85 343.56 L2582.85 342.02 L2584.85 333.84 L2584.85 335.52 L2586.85 327.76 L2586.85 325.81 L2588.85 315.83 L2588.85 317.01 L2590.85 305.55 L2590.85 304.19 L2592.85 292.07 L2592.85 294.13 L2594.85 281.03 L2594.85 279.69 L2596.85 267.21 L2596.85 268.28 L2598.85 255.27 L2598.85 254 L2600.85 240.2 L2600.85 241.5 L2602.85 227.89 L2602.85 226.13 L2604.85 212.04 L2604.85 213.89 L2606.85 198.09 L2606.85 196.35 L2608.85 181.17 L2608.85 182.67 L2610.85 168.25 L2610.85 166.95 L2612.85 154.3 L2612.85 156.67 L2614.85 143.6 L2614.85 142.21 L2616.85 131.06 L2616.85 132.83 L2618.85 123.29 L2618.85 121.8 L2620.85 114.48 L2620.85 115.56 L2622.85 109.18 L2622.85 107.59 L2624.85 102.21 L2624.85 103.39 L2626.85 99.48 L2626.85 97.81 L2628.85 95.78 L2628.85 96.69 L2630.85 95.68 L2630.85 93.92 L2632.85 92.79 L2632.85 94.29 L2634.85 94.54 L2634.85 92.8 L2636.85 93.79 L2636.85 95.64 L2638.85 97.89 L2638.85 96.1 L2640.85 99.22 L2640.85 100.93 L2642.85 105.45 L2642.85 103.95 L2644.85 111.46 L2644.85 112.89 L2646.85 123.19 L2646.85 121.39 L2648.85 131.04 L2648.85 132.74 L2650.85 144.44 L2650.85 143.21 L2652.85 156.47 L2652.85 157.62 L2654.85 172.22 L2654.85 171.11 L2656.85 185.74 L2656.85 186.93 L2658.85 202.19 L2658.85 200.77 L2660.85 216.47 L2660.85 218.21 L2662.85 234.7 L2662.85 233.49 L2664.85 249.87 L2664.85 250.82 L2666.85 267.36 L2666.85 266.2 L2668.85 282.62 L2668.85 283.72 L2670.85 299.94 L2670.85 298.72 L2672.85 314.22 L2672.85 315.55 L2674.85 329.95 L2674.85 328.07 L2676.85 342.98 L2676.85 344.47 L2678.85 357.21 L2678.85 355.92 L2680.85 365.47 L2680.85 366.71 L2682.85 374.98 L2682.85 373.15 L2684.85 379.39 L2684.85 380.58 L2686.85 383.34 L2686.85 381.65 L2688.85 383.86 L2688.85 384.63 L2690.85 385.93 L2690.85 384.4 L2692.85 385.84 L2692.85 387.19 L2694.85 388.04 L2694.85 386.5 L2696.85 386.61 L2696.85 387.87 L2698.85 388.04 L2698.85 387 L2700.85 386.96 L2700.85 387.96 L2702.85 388.16 L2702.85 387.06 L2704.85 387.06 L2704.85 388.18 L2706.85 388.08 L2706.85 387.11 L2708.85 386.81 L2708.85 388.16 L2710.85 388.27 L2710.85 387.31 L2712.85 386.87 L2712.85 387.95 L2714.85 387.69 L2714.85 386.34 L2716.85 385.79 L2716.85 386.8 L2718.85 386.24 L2718.85 384.63 L2720.85 384.2 L2720.85 385.16 L2722.85 384.36 L2722.85 383.24 L2723.39 383.51" stroke="#6666ff" stroke-width="2.5"/>
<path d="M2024.85 214.73 L2024.85 218.76 L2026.85 216.85 L2026.85 214.46 L2028.85 214.02 L2028.85 216.74 L2030.85 216.2 L2030.85 212.86 L2032.85 213.5 L2032.85 216.25 L2034.85 215.78 L2034.85 213.09 L2036.85 213.55 L2036.85 215.45 L2038.85 215.82 L2038.85 213.09 L2040.85 213.17 L2040.85 215.67 L2042.85 215.3 L2042.85 213 L2044.85 212.46 L2044.85 215.67 L2046.85 215.71 L2046.85 213.19 L2048.85 213.28 L2048.85 215.22 L2050.85 214.97 L2050.85 212.55 L2052.85 212.93 L2052.85 215.34 L2054.85 215.63 L2054.85 212.88 L2056.85 212.54 L2056.85 215.55 L2058.85 214.9 L2058.85 212.46 L2060.85 212.44 L2060.85 214.88 L2062.85 215.16 L2062.85 213.05 L2064.85 212.64 L2064.85 215.61 L2066.85 215.09 L2066.85 212.67 L2068.85 212.72 L2068.85 215.11 L2070.85 215.82 L2070.85 213.62 L2072.85 213.47 L2072.85 216.13 L2074.85 216.52 L2074.85 214.17 L2076.85 214.02 L2076.85 216.76 L2078.85 216.75 L2078.85 214.35 L2080.85 214.3 L2080.85 217.11 L2082.85 217.46 L2082.85 214.49 L2084.85 215.24 L2084.85 217.3 L2086.85 218.14 L2086.85 215.3 L2088.85 216.05 L2088.85 218.35 L2090.85 218.74 L2090.85 216.22 L2092.85 217.21 L2092.85 220.09 L2094.85 219.87 L2094.85 217.71 L2096.85 217.71 L2096.85 219.49 L2098.85 219.64 L2098.85 217.61 L2100.85 218.1 L2100.85 219.62 L2102.85 220.16 L2102.85 217.51 L2104.85 217.83 L2104.85 219.6 L2106.85 219.76 L2106.85 217.67 L2108.85 217.9 L2108.85 219.93 L2110.85 220.28 L2110.85 218.08 L2112.85 218.01 L2112.85 220.14 L2114.85 220.18 L2114.85 217.28 L2116.85 217.66 L2116.85 220.36 L2118.85 219.71 L2118.85 217.66 L2120.85 217.28 L2120.85 219.8 L2122.85 220.31 L2122.85 218.05 L2124.85 217.66 L2124.85 220.09 L2126.85 220.12 L2126.85 217.57 L2128.85 217.35 L2128.85 219.65 L2130.85 219.41 L2130.85 217.53 L2132.85 217.11 L2132.85 219.08 L2134.85 219.13 L2134.85 216.26 L2136.85 216.05 L2136.85 218.41 L2138.85 217.89 L2138.85 215.43 L2140.85 214.97 L2140.85 217.01 L2142.85 216.75 L2142.85 214.73 L2144.85 214.15 L2144.85 216.56 L2146.85 215.89 L2146.85 213.2 L2148.85 212.6 L2148.85 215.14 L2150.85 214.62 L2150.85 212.66 L2152.85 211.51 L2152.85 214.51 L2154.85 213.79 L2154.85 210.63 L2156.85 210.8 L2156.85 213.27 L2158.85 212.44 L2158.85 210.39 L2160.85 209.58 L2160.85 212.23 L2162.85 211.66 L2162.85 209.43 L2164.85 209.15 L2164.85 211.29 L2166.85 211.06 L2166.85 208.91 L2168.85 207.91 L2168.85 211.18 L2170.85 210.55 L2170.85 208.11 L2172.85 207.64 L2172.85 209.89 L2174.85 210.23 L2174.85 207.28 L2176.85 207.21 L2176.85 209.67 L2178.85 209.61 L2178.85 207.09 L2180.85 207.04 L2180.85 209.58 L2182.85 209.64 L2182.85 206.95 L2184.85 206.66 L2184.85 210.47 L2186.85 209.31 L2186.85 207.1 L2188.85 207.49 L2188.85 209.93 L2190.85 210.15 L2190.85 207.61 L2192.85 207.51 L2192.85 210.18 L2194.85 210.33 L2194.85 207.82 L2196.85 208.26 L2196.85 210.62 L2198.85 211.46 L2198.85 208.58 L2200.85 209.03 L2200.85 211.8 L2202.85 212.05 L2202.85 210.13 L2204.85 210.62 L2204.85 212.15 L2206.85 212.84 L2206.85 211.43 L2208.85 211.75 L2208.85 214.02 L2210.85 214.71 L2210.85 212.75 L2212.85 213.35 L2212.85 215.44 L2214.85 215.85 L2214.85 213.64 L2216.85 214.47 L2216.85 216.8 L2218.85 217.76 L2218.85 215.05 L2220.85 216.42 L2220.85 218.02 L2222.85 218.76 L2222.85 216.45 L2224.85 217.41 L2224.85 220.01 L2226.85 220.31 L2226.85 217.97 L2228.85 219.23 L2228.85 221.43 L2230.85 222.11 L2230.85 219.17 L2232.85 219.62 L2232.85 222.36 L2234.85 221.88 L2234.85 219.83 L2236.85 219.67 L2236.85 222.11 L2238.85 222.85 L2238.85 220.12 L2240.85 220.1 L2240.85 222.58 L2242.85 222.83 L2242.85 220.87 L2244.85 220.53 L2244.85 222.76 L2246.85 223.1 L2246.85 220.99 L2248.85 220.94 L2248.85 223.12 L2250.85 222.35 L2250.85 220.44 L2252.85 219.89 L2252.85 222.62 L2254.85 222.79 L2254.85 219.63 L2256.85 219.33 L2256.85 221.49 L2258.85 221.27 L2258.85 218.78 L2260.85 217.84 L2260.85 220.8 L2262.85 219.59 L2262.85 216.76 L2264.85 216.09 L2264.85 219.44 L2266.85 218.53 L2266.85 215.75 L2268.85 215.77 L2268.85 217.71 L2270.85 216.54 L2270.85 214.52 L2272.85 213.9 L2272.85 216.12 L2274.85 215.26 L2274.85 212.71 L2276.85 212.05 L2276.85 214.31 L2278.85 213.15 L2278.85 211.18 L2280.85 210.04 L2280.85 212.26 L2282.85 211.28 L2282.85 209.24 L2284.85 208.44 L2284.85 209.8 L2286.85 208.71 L2286.85 207.1 L2288.85 205.54 L2288.85 207.53 L2290.85 206.72 L2290.85 203.97 L2292.85 203.95 L2292.85 206.24 L2294.85 205.26 L2294.85 202.85 L2296.85 202.46 L2296.85 204.35 L2298.85 203.49 L2298.85 201.5 L2300.85 200.69 L2300.85 202.98 L2302.85 202.65 L2302.85 200.56 L2304.85 199.8 L2304.85 201.86 L2306.85 201.01 L2306.85 198.53 L2308.85 198.35 L2308.85 201.29 L2310.85 200.97 L2310.85 199.13 L2312.85 198.84 L2312.85 200.92 L2314.85 201.22 L2314.85 198.86 L2316.85 198.81 L2316.85 201.35 L2318.85 201.43 L2318.85 199.37 L2320.85 199.1 L2320.85 201.42 L2322.85 201.46 L2322.85 199.55 L2324.85 199.33 L2324.85 202.39 L2326.85 202.02 L2326.85 199.2 L2328.85 200.91 L2328.85 202.77 L2330.85 203.32 L2330.85 202 L2332.85 202.14 L2332.85 204.63 L2334.85 205.87 L2334.85 204.01 L2336.85 205.8 L2336.85 207.33 L2338.85 208.42 L2338.85 206.31 L2340.85 207.86 L2340.85 210.22 L2342.85 211.44 L2342.85 209.96 L2344.85 211.37 L2344.85 213.18 L2346.85 215.28 L2346.85 213.5 L2348.85 214.68 L2348.85 216.68 L2350.85 218.54 L2350.85 216.66 L2352.85 217.89 L2352.85 219.9 L2354.85 221.46 L2354.85 219.75 L2356.85 220.76 L2356.85 222.49 L2358.85 223.99 L2358.85 222.12 L2360.85 223.49 L2360.85 225.22 L2362.85 227.59 L2362.85 224.86 L2364.85 225.53 L2364.85 227.46 L2366.85 228.33 L2366.85 226.71 L2368.85 226.64 L2368.85 228.58 L2370.85 228.8 L2370.85 227.56 L2372.85 227.68 L2372.85 229.29 L2374.85 229.58 L2374.85 227.77 L2376.85 227.95 L2376.85 229.95 L2378.85 229.72 L2378.85 228.33 L2380.85 227.55 L2380.85 229.34 L2382.85 228.94 L2382.85 227.24 L2384.85 226.95 L2384.85 228.29 L2386.85 227.79 L2386.85 226.16 L2388.85 225.21 L2388.85 226.72 L2390.85 225.88 L2390.85 224.35 L2392.85 223.07 L2392.85 224.87 L2394.85 223.3 L2394.85 221.63 L2396.85 220.11 L2396.85 221.69 L2398.85 219.68 L2398.85 217.85 L2400.85 216 L2400.85 217.84 L2402.85 215.69 L2402.85 214.12 L2404.85 212.7 L2404.85 214.51 L2406.85 212.2 L2406.85 210.69 L2408.85 208.41 L2408.85 209.81 L2410.85 207.68 L2410.85 206.25 L2412.85 203.79 L2412.85 205.64 L2414.85 203.73 L2414.85 201.74 L2416.85 200.45 L2416.85 201.94 L2418.85 200.46 L2418.85 198.55 L2420.85 197.43 L2420.85 198.49 L2422.85 197.36 L2422.85 195.55 L2424.85 194.37 L2424.85 196.06 L2426.85 194.88 L2426.85 193.72 L2428.85 192.94 L2428.85 194.36 L2430.85 193.92 L2430.85 192.38 L2432.85 191.9 L2432.85 193.43 L2434.85 192.83 L2434.85 191.41 L2436.85 191.54 L2436.85 193.35 L2438.85 192.38 L2438.85 190.95 L2440.85 190.93 L2440.85 192.53 L2442.85 192.1 L2442.85 190.9 L2444.85 190.83 L2444.85 192.51 L2446.85 192.74 L2446.85 191.18 L2448.85 191.51 L2448.85 192.78 L2450.85 193.09 L2450.85 191.79 L2452.85 192.69 L2452.85 194.59 L2454.85 194.44 L2454.85 192.64 L2456.85 194.1 L2456.85 195.52 L2458.85 198.05 L2458.85 195.74 L2460.85 198.14 L2460.85 199.15 L2462.85 201.46 L2462.85 200.15 L2464.85 201.86 L2464.85 203.46 L2466.85 205.96 L2466.85 204.28 L2468.85 207.05 L2468.85 208.12 L2470.85 210.79 L2470.85 209.65 L2472.85 212.25 L2472.85 213.85 L2474.85 216.75 L2474.85 215.03 L2476.85 218.02 L2476.85 218.99 L2478.85 221.5 L2478.85 220.5 L2480.85 222.63 L2480.85 223.93 L2482.85 226.69 L2482.85 225.28 L2484.85 227.83 L2484.85 229.1 L2486.85 231.42 L2486.85 230.08 L2488.85 232.31 L2488.85 233.95 L2490.85 235.76 L2490.85 234.72 L2492.85 235.38 L2492.85 237.52 L2494.85 238.76 L2494.85 237.54 L2496.85 238.73 L2496.85 240.02 L2498.85 241.02 L2498.85 239.78 L2500.85 240.65 L2500.85 241.83 L2502.85 243.41 L2502.85 241.46 L2504.85 241.39 L2504.85 242.77 L2506.85 242.68 L2506.85 241.34 L2508.85 241.14 L2508.85 242.23 L2510.85 241.46 L2510.85 240.39 L2512.85 239.29 L2512.85 240.66 L2514.85 239.88 L2514.85 238.52 L2516.85 237.54 L2516.85 238.68 L2518.85 237.66 L2518.85 235.45 L2520.85 233.54 L2520.85 234.6 L2522.85 231.65 L2522.85 230.5 L2524.85 227.07 L2524.85 229 L2526.85 225.48 L2526.85 224.65 L2528.85 221.3 L2528.85 222.51 L2530.85 218.41 L2530.85 217 L2532.85 212.58 L2532.85 213.71 L2534.85 209.19 L2534.85 208.23 L2536.85 203.92 L2536.85 205.37 L2538.85 201.86 L2538.85 200.56 L2540.85 197.56 L2540.85 198.97 L2542.85 195.78 L2542.85 194.4 L2544.85 191.83 L2544.85 193.29 L2546.85 192.18 L2546.85 191 L2548.85 190.74 L2548.85 192.09 L2550.85 192.26 L2550.85 191.14 L2552.85 191.17 L2552.85 192.11 L2554.85 192.34 L2554.85 190.98 L2556.85 191.04 L2556.85 192.35 L2558.85 192.23 L2558.85 190.82 L2560.85 190.99 L2560.85 192.35 L2562.85 192.08 L2562.85 191.08 L2564.85 190.73 L2564.85 192.28 L2566.85 192.71 L2566.85 190.93 L2568.85 190.9 L2568.85 192.02 L2570.85 191.99 L2570.85 190.89 L2572.85 190.79 L2572.85 192.15 L2574.85 192.12 L2574.85 190.62 L2576.85 191.07 L2576.85 192.13 L2578.85 191.97 L2578.85 191.07 L2580.85 191.05 L2580.85 192.22 L2582.85 192.03 L2582.85 191.16 L2584.85 191.14 L2584.85 192.02 L2586.85 192.71 L2586.85 191.07 L2588.85 191.42 L2588.85 192.81 L2590.85 194.47 L2590.85 192.64 L2592.85 193.86 L2592.85 195.08 L2594.85 197.1 L2594.85 195.84 L2596.85 199.02 L2596.85 200.21 L2598.85 204.84 L2598.85 203.47 L2600.85 209.06 L2600.85 210.53 L2602.85 215.95 L2602.85 213.93 L2604.85 219.6 L2604.85 220.67 L2606.85 226.31 L2606.85 224.86 L2608.85 230.35 L2608.85 231.69 L2610.85 236.67 L2610.85 235.73 L2612.85 240.26 L2612.85 241.74 L2614.85 245.47 L2614.85 243.54 L2616.85 247.82 L2616.85 249.27 L2618.85 252.66 L2618.85 251.11 L2620.85 254.52 L2620.85 255.93 L2622.85 258.24 L2622.85 257.06 L2624.85 258.46 L2624.85 260.01 L2626.85 260.91 L2626.85 259.3 L2628.85 260.32 L2628.85 261.35 L2630.85 261.9 L2630.85 260.84 L2632.85 260.75 L2632.85 262 L2634.85 262.03 L2634.85 261.13 L2636.85 259.92 L2636.85 261.95 L2638.85 261.1 L2638.85 259.84 L2640.85 258.75 L2640.85 260.08 L2642.85 258.99 L2642.85 257.57 L2644.85 255.68 L2644.85 256.79 L2646.85 253.77 L2646.85 252.72 L2648.85 248.92 L2648.85 249.96 L2650.85 246.08 L2650.85 244.69 L2652.85 240.4 L2652.85 241.36 L2654.85 236.89 L2654.85 235.56 L2656.85 229.65 L2656.85 231.14 L2658.85 224.5 L2658.85 223.31 L2660.85 216.73 L2660.85 217.99 L2662.85 212.59 L2662.85 210.85 L2664.85 205.48 L2664.85 206.92 L2666.85 201.59 L2666.85 200.45 L2668.85 195.92 L2668.85 197.78 L2670.85 195.47 L2670.85 194.22 L2672.85 192.02 L2672.85 194.08 L2674.85 193.43 L2674.85 191.52 L2676.85 190.96 L2676.85 191.92 L2678.85 191.43 L2678.85 190.33 L2680.85 190.02 L2680.85 191.38 L2682.85 190.83 L2682.85 189.58 L2684.85 189.39 L2684.85 190.54 L2686.85 190.47 L2686.85 189.16 L2688.85 188.83 L2688.85 190.26 L2690.85 189.92 L2690.85 188.52 L2692.85 188.12 L2692.85 189.61 L2694.85 189.03 L2694.85 187.77 L2696.85 187.75 L2696.85 188.7 L2698.85 188.6 L2698.85 187.29 L2700.85 186.53 L2700.85 188.14 L2702.85 187.94 L2702.85 186.61 L2704.85 186.97 L2704.85 187.95 L2706.85 187.93 L2706.85 186.67 L2708.85 186.77 L2708.85 188.09 L2710.85 188.44 L2710.85 187.25 L2712.85 186.8 L2712.85 188.49 L2714.85 189.13 L2714.85 187.78 L2716.85 187.94 L2716.85 189.16 L2718.85 189.85 L2718.85 188.64 L2720.85 189.29 L2720.85 190.42 L2722.85 190.88 L2722.85 190.08 L2723.39 190.72" stroke="#ff6600" stroke-width="2.2"/>
</g>
<g>
<path d="M130.9 932.8 V572.7 M468.9 932.8 V572.7 M128.9 637 H805.3 M128.9 711 H805.3 M128.9 782.8 H805.3 M128.9 856.5 H805.3 M128.9 930 H805.3" stroke="#888888" stroke-width="2" stroke-dasharray="2.2 3.8" fill="none"/>
<path d="M131 932.8 v-12.3 M198.9 932.8 v-6.4 M267.1 932.8 v-6.4 M335.2 932.8 v-6.4 M401.3 932.8 v-6.4 M469 932.8 v-12.3 M536.9 932.8 v-6.4 M605 932.8 v-6.4 M672.9 932.8 v-6.4 M741.3 932.8 v-6.4 M106.9 637 h21 M106.9 711 h21 M106.9 782.8 h21 M106.9 856.5 h21 M106.9 930 h21 M106.9 582.01 h10.6 M106.9 600.34 h10.6 M106.9 618.67 h10.6 M106.9 655.33 h10.6 M106.9 673.66 h10.6 M106.9 691.99 h10.6 M106.9 728.65 h10.6 M106.9 746.98 h10.6 M106.9 765.31 h10.6 M106.9 801.97 h10.6 M106.9 820.3 h10.6 M106.9 838.63 h10.6 M106.9 875.29 h10.6 M106.9 893.62 h10.6 M106.9 911.95 h10.6" stroke="#000" stroke-width="2" fill="none"/>
<rect x="106.9" y="572.7" width="698.4" height="360.1" fill="none" stroke="#000" stroke-width="2.1"/>
<path d="M105.9 931.8 H806.3" stroke="#000" stroke-width="5" fill="none"/>
</g>
<g filter="url(#tb)" font-family="'Liberation Sans', Arial, Helvetica, sans-serif" font-weight="bold" font-size="24.8" fill="#000">
<text x="67.12" y="644.7" textLength="32.58" lengthAdjust="spacingAndGlyphs">0.2</text>
<text x="86.67" y="718.7" textLength="13.03" lengthAdjust="spacingAndGlyphs">0</text>
<text x="59.32" y="790.5" textLength="40.38" lengthAdjust="spacingAndGlyphs">-0.2</text>
<text x="59.32" y="864.2" textLength="40.38" lengthAdjust="spacingAndGlyphs">-0.4</text>
<text x="59.32" y="937.7" textLength="40.38" lengthAdjust="spacingAndGlyphs">-0.6</text>
<text x="109.75" y="954.2" textLength="39.1" lengthAdjust="spacingAndGlyphs">18s</text>
<text x="441.83" y="954.2" textLength="52.14" lengthAdjust="spacingAndGlyphs">18s5</text>
</g>
<text transform="translate(28.4 573.9) rotate(-90)" text-anchor="end" font-family="'Liberation Sans', Arial, Helvetica, sans-serif" font-size="15.8" fill="#1a1a1a" stroke="#1a1a1a" stroke-width="0.25">mW</text>
<text filter="url(#tb)" x="160.5" y="1008.2" font-family="'Liberation Serif', 'Times New Roman', Times, serif" font-weight="bold" font-size="29.26" textLength="543" lengthAdjust="spacingAndGlyphs" fill="#000">1214317595.9654 : Jun 29 2018 14:26:17 UTC</text>
<rect x="160.6" y="541.6" width="592.6" height="72.8" fill="#fff" stroke="#000" stroke-width="2.1"/>
<path d="M182.2 558.8 H285.8" stroke="#6666ff" stroke-width="2"/>
<text filter="url(#tb)" x="308.9" y="565.5" font-family="'Liberation Serif', 'Times New Roman', Times, serif" font-weight="bold" font-size="29.27" textLength="326.8" lengthAdjust="spacingAndGlyphs" fill="#000">V1:SIB2_B2_PD2_6MHz_I</text>
<path d="M182.2 594.5 H285.8" stroke="#ff6600" stroke-width="2"/>
<text filter="url(#tb)" x="308.9" y="601" font-family="'Liberation Serif', 'Times New Roman', Times, serif" font-weight="bold" font-size="29.27" textLength="336.7" lengthAdjust="spacingAndGlyphs" fill="#000">V1:SIB2_B2_PD2_6MHz_Q</text>
<g clip-path="url(#c3)" fill="none" stroke-linejoin="round" stroke-linecap="butt">
<path d="M106.85 645.81 L106.85 647.19 L108.85 647.21 L108.85 646.07 L110.85 645.87 L110.85 647.34 L112.85 647.52 L112.85 645.87 L114.85 646.27 L114.85 647.43 L116.85 647.6 L116.85 646.01 L118.85 646.15 L118.85 647.35 L120.85 647.7 L120.85 646.02 L122.85 646.04 L122.85 648 L124.85 647.96 L124.85 646.02 L126.85 646.03 L126.85 647.25 L128.85 648.18 L128.85 646.02 L130.85 645.97 L130.85 647.55 L132.85 647.5 L132.85 646.26 L134.85 645.83 L134.85 647.56 L136.85 647.75 L136.85 646.19 L138.85 646.14 L138.85 647.68 L140.85 647.74 L140.85 646.36 L142.85 646.64 L142.85 647.81 L144.85 647.82 L144.85 646.71 L146.85 646.46 L146.85 647.97 L148.85 648.05 L148.85 646.69 L150.85 647.32 L150.85 649.17 L152.85 649 L152.85 647.74 L154.85 648.55 L154.85 649.65 L156.85 650.7 L156.85 648.88 L158.85 649.08 L158.85 650.14 L160.85 650.18 L160.85 648.58 L162.85 649.07 L162.85 650.54 L164.85 650.98 L164.85 649.42 L166.85 649.74 L166.85 650.99 L168.85 650.87 L168.85 649.9 L170.85 650.02 L170.85 651.06 L172.85 651.24 L172.85 650.11 L174.85 649.33 L174.85 651.24 L176.85 651.81 L176.85 649.96 L178.85 649.85 L178.85 651.24 L180.85 651.13 L180.85 649.89 L182.85 649.88 L182.85 651.25 L184.85 651.48 L184.85 650.17 L186.85 649.87 L186.85 651.27 L188.85 651.26 L188.85 649.88 L190.85 649.31 L190.85 651.36 L192.85 651.06 L192.85 650.14 L194.85 650.1 L194.85 651.24 L196.85 651.46 L196.85 650.07 L198.85 650.15 L198.85 651.48 L200.85 651.07 L200.85 649.85 L202.85 649.38 L202.85 651.3 L204.85 651.13 L204.85 649.79 L206.85 650.14 L206.85 651.09 L208.85 651.26 L208.85 650.13 L210.85 650.15 L210.85 651.22 L212.85 651.2 L212.85 649.87 L214.85 650.03 L214.85 651.34 L216.85 651.27 L216.85 649.96 L218.85 649.96 L218.85 651.35 L220.85 651.25 L220.85 649.94 L222.85 649.91 L222.85 651.49 L224.85 651.04 L224.85 650 L226.85 649.9 L226.85 651.08 L228.85 651.5 L228.85 650.07 L230.85 650.15 L230.85 651.49 L232.85 651.49 L232.85 650.04 L234.85 649.41 L234.85 651.2 L236.85 651.35 L236.85 649.95 L238.85 649.94 L238.85 651.08 L240.85 651.47 L240.85 650.02 L242.85 649.94 L242.85 651.32 L244.85 651.31 L244.85 649.87 L246.85 650.15 L246.85 651.23 L248.85 651.14 L248.85 649.86 L250.85 649.92 L250.85 651.25 L252.85 651.31 L252.85 649.9 L254.85 650.18 L254.85 651.34 L256.85 651.39 L256.85 649.98 L258.85 649.97 L258.85 651.37 L260.85 651.96 L260.85 649.76 L262.85 649.87 L262.85 651.14 L264.85 651.31 L264.85 649.82 L266.85 649.76 L266.85 651.43 L268.85 651.08 L268.85 649.28 L270.85 649.87 L270.85 652 L272.85 651.49 L272.85 650.15 L274.85 649.88 L274.85 651.13 L276.85 651.25 L276.85 649.87 L278.85 649.93 L278.85 651.22 L280.85 651.41 L280.85 650.11 L282.85 650.08 L282.85 651.45 L284.85 651.41 L284.85 650.07 L286.85 649.78 L286.85 651.09 L288.85 651.19 L288.85 650.04 L290.85 650.12 L290.85 651.39 L292.85 651.44 L292.85 650.22 L294.85 649.96 L294.85 651.18 L296.85 651.3 L296.85 650.34 L298.85 650.38 L298.85 651.6 L300.85 651.81 L300.85 650.6 L302.85 650.89 L302.85 652.22 L304.85 652.6 L304.85 651.36 L306.85 651.56 L306.85 653.18 L308.85 653.16 L308.85 652.06 L310.85 652.4 L310.85 653.66 L312.85 653.48 L312.85 652.33 L314.85 652.87 L314.85 653.92 L316.85 654.02 L316.85 653.08 L318.85 652.85 L318.85 654.58 L320.85 654.35 L320.85 653.14 L322.85 653.42 L322.85 654.96 L324.85 654.85 L324.85 653.37 L326.85 653.83 L326.85 655.09 L328.85 655.52 L328.85 653.51 L330.85 652.86 L330.85 654.93 L332.85 654.82 L332.85 653.39 L334.85 653.35 L334.85 654.71 L336.85 654.81 L336.85 653.47 L338.85 653.08 L338.85 654.28 L340.85 654.31 L340.85 653.22 L342.85 653.05 L342.85 654.38 L344.85 654.08 L344.85 652.71 L346.85 652.75 L346.85 653.88 L348.85 653.78 L348.85 652.53 L350.85 651.97 L350.85 653.17 L352.85 653.17 L352.85 651.83 L354.85 651.35 L354.85 652.53 L356.85 652.42 L356.85 651.06 L358.85 650.93 L358.85 652.28 L360.85 652.2 L360.85 650.94 L362.85 650.59 L362.85 652.09 L364.85 651.95 L364.85 650.63 L366.85 650.8 L366.85 652.11 L368.85 651.9 L368.85 650.77 L370.85 650.8 L370.85 652.11 L372.85 652.11 L372.85 650.86 L374.85 650.66 L374.85 651.87 L376.85 652.68 L376.85 650.64 L378.85 650.8 L378.85 652.38 L380.85 652.24 L380.85 651.01 L382.85 650.66 L382.85 651.92 L384.85 652.26 L384.85 650.82 L386.85 650.63 L386.85 651.98 L388.85 652.11 L388.85 650.9 L390.85 650.63 L390.85 652.1 L392.85 652.29 L392.85 651.02 L394.85 650.67 L394.85 652.05 L396.85 652.22 L396.85 650.82 L398.85 650.89 L398.85 652.28 L400.85 652.08 L400.85 650.71 L402.85 650.95 L402.85 652.24 L404.85 652.4 L404.85 651.02 L406.85 651.15 L406.85 652.1 L408.85 652.45 L408.85 650.96 L410.85 651.46 L410.85 652.51 L412.85 652.69 L412.85 651.65 L414.85 651.82 L414.85 652.97 L416.85 653.2 L416.85 652.1 L418.85 652.41 L418.85 653.42 L420.85 653.88 L420.85 652.44 L422.85 652.49 L422.85 654.2 L424.85 654.83 L424.85 653.08 L426.85 653.34 L426.85 654.77 L428.85 655.41 L428.85 654.08 L430.85 654.42 L430.85 655.81 L432.85 656.39 L432.85 655.43 L434.85 655.97 L434.85 657.36 L436.85 658.28 L436.85 656.69 L438.85 657.53 L438.85 658.67 L440.85 659.19 L440.85 658.16 L442.85 658.99 L442.85 660.11 L444.85 660.7 L444.85 659.87 L446.85 660.42 L446.85 661.97 L448.85 663.18 L448.85 661.42 L450.85 661.95 L450.85 663.97 L452.85 664.02 L452.85 662.59 L454.85 662.66 L454.85 664.37 L456.85 664.64 L456.85 663 L458.85 663.13 L458.85 664.47 L460.85 664.84 L460.85 663.06 L462.85 663.36 L462.85 664.53 L464.85 664.6 L464.85 663.17 L466.85 662.58 L466.85 663.75 L468.85 663 L468.85 661.85 L470.85 660.6 L470.85 661.96 L472.85 660.85 L472.85 659.65 L474.85 658.9 L474.85 660.44 L476.85 659.76 L476.85 658.37 L478.85 657.82 L478.85 658.97 L480.85 658.39 L480.85 657.18 L482.85 656.49 L482.85 657.31 L484.85 656.99 L484.85 655.4 L486.85 654.93 L486.85 656.21 L488.85 655.6 L488.85 654.16 L490.85 653.76 L490.85 654.91 L492.85 654.14 L492.85 653.31 L494.85 652.36 L494.85 653.61 L496.85 653.27 L496.85 652.14 L498.85 651.24 L498.85 652.76 L500.85 651.84 L500.85 650.83 L502.85 650.14 L502.85 651.36 L504.85 650.96 L504.85 649.91 L506.85 649.13 L506.85 650.6 L508.85 649.7 L508.85 648.8 L510.85 648.09 L510.85 649.07 L512.85 648.67 L512.85 647.48 L514.85 646.69 L514.85 648.35 L516.85 647.42 L516.85 645.91 L518.85 645.37 L518.85 646.56 L520.85 646.19 L520.85 644.84 L522.85 644.65 L522.85 645.86 L524.85 645.98 L524.85 644.68 L526.85 644.2 L526.85 645.86 L528.85 646.66 L528.85 645.44 L530.85 645.63 L530.85 646.78 L532.85 647.64 L532.85 646.27 L534.85 646.9 L534.85 648.15 L536.85 649.19 L536.85 647.34 L538.85 647.81 L538.85 648.79 L540.85 649.16 L540.85 648.23 L542.85 648.56 L542.85 649.74 L544.85 649.94 L544.85 648.84 L546.85 648.77 L546.85 650.23 L548.85 650.71 L548.85 649.29 L550.85 649.85 L550.85 650.75 L552.85 651.7 L552.85 650.09 L554.85 650.36 L554.85 651.66 L556.85 652.45 L556.85 651.15 L558.85 651.6 L558.85 653.17 L560.85 654.11 L560.85 652.9 L562.85 654.45 L562.85 655.86 L564.85 658.08 L564.85 656.79 L566.85 659.05 L566.85 660.25 L568.85 662.48 L568.85 661.01 L570.85 663.08 L570.85 664.55 L572.85 666.87 L572.85 665.52 L574.85 668.16 L574.85 669.33 L576.85 671.96 L576.85 670.48 L578.85 672.53 L578.85 674 L580.85 675.16 L580.85 673.75 L582.85 674.97 L582.85 676.05 L584.85 677.05 L584.85 675.55 L586.85 676.31 L586.85 677.2 L588.85 677.35 L588.85 676.04 L590.85 675.32 L590.85 676.69 L592.85 675.27 L592.85 673.82 L594.85 672.11 L594.85 673.44 L596.85 671.52 L596.85 670.17 L598.85 668.35 L598.85 669.39 L600.85 667.14 L600.85 666.19 L602.85 663.22 L602.85 664.7 L604.85 661.58 L604.85 660.35 L606.85 657.6 L606.85 658.91 L608.85 656.52 L608.85 655.35 L610.85 653.06 L610.85 654.31 L612.85 653.08 L612.85 651.84 L614.85 650.68 L614.85 652.09 L616.85 651.4 L616.85 649.44 L618.85 648.76 L618.85 650.44 L620.85 649.95 L620.85 648.75 L622.85 647.97 L622.85 649.08 L624.85 648.98 L624.85 647.5 L626.85 646.42 L626.85 647.21 L628.85 645.74 L628.85 644.73 L630.85 642.73 L630.85 643.96 L632.85 642.27 L632.85 640.87 L634.85 639.29 L634.85 640.53 L636.85 638.86 L636.85 637.92 L638.85 637.27 L638.85 638.25 L640.85 637.62 L640.85 636.37 L642.85 635.59 L642.85 637.1 L644.85 636.44 L644.85 635.1 L646.85 634.93 L646.85 636.21 L648.85 635.87 L648.85 634.87 L650.85 634.69 L650.85 635.82 L652.85 636.1 L652.85 634.39 L654.85 634.98 L654.85 635.96 L656.85 636.42 L656.85 634.9 L658.85 635.34 L658.85 636.12 L660.85 636.56 L660.85 635.27 L662.85 635.31 L662.85 636.51 L664.85 637.16 L664.85 635.36 L666.85 637.03 L666.85 638.32 L668.85 639.74 L668.85 638.48 L670.85 639.92 L670.85 641.07 L672.85 642.82 L672.85 641.58 L674.85 642.97 L674.85 644.33 L676.85 645.52 L676.85 644.67 L678.85 646.07 L678.85 647.02 L680.85 648.88 L680.85 647.59 L682.85 649.68 L682.85 650.82 L684.85 653.18 L684.85 652.02 L686.85 654.59 L686.85 655.77 L688.85 659.39 L688.85 658.36 L690.85 663.02 L690.85 663.96 L692.85 669.13 L692.85 667.93 L694.85 674.86 L694.85 676.34 L696.85 684.25 L696.85 683.06 L698.85 690.48 L698.85 691.33 L700.85 697.69 L700.85 696.33 L702.85 702.56 L702.85 703.96 L704.85 709.43 L704.85 708.13 L706.85 712.76 L706.85 714.05 L708.85 717.32 L708.85 716.02 L710.85 718.61 L710.85 719.87 L712.85 722.21 L712.85 720.8 L714.85 721.69 L714.85 723.11 L716.85 721.89 L716.85 720.91 L718.85 718.49 L718.85 719.96 L720.85 716.98 L720.85 715.87 L722.85 712.03 L722.85 713.26 L724.85 707.33 L724.85 706.15 L726.85 698.69 L726.85 700.04 L728.85 692.72 L728.85 691.5 L730.85 683.82 L730.85 685.31 L732.85 677.88 L732.85 676.44 L734.85 669.35 L734.85 670.74 L736.85 664.7 L736.85 663.28 L738.85 658.44 L738.85 659.81 L740.85 655.73 L740.85 654.42 L742.85 652.35 L742.85 653.44 L744.85 652.46 L744.85 651.07 L746.85 650.13 L746.85 651.29 L748.85 650.17 L748.85 648.86 L750.85 647.17 L750.85 648.19 L752.85 645.04 L752.85 644.27 L754.85 640.69 L754.85 641.69 L756.85 638.19 L756.85 637.06 L758.85 634.9 L758.85 636.42 L760.85 634.3 L760.85 633.13 L762.85 631.2 L762.85 632.46 L764.85 631.06 L764.85 629.96 L766.85 629.03 L766.85 630 L768.85 629.8 L768.85 628.36 L770.85 628.27 L770.85 629.46 L772.85 629.85 L772.85 628.42 L774.85 628.64 L774.85 630.37 L776.85 630.54 L776.85 629.41 L778.85 629.81 L778.85 631.36 L780.85 632.38 L780.85 631.12 L782.85 632.33 L782.85 633.58 L784.85 634.83 L784.85 633.5 L786.85 633.83 L786.85 634.98 L788.85 634.25 L788.85 633.48 L790.85 631.99 L790.85 633.03 L792.85 631.62 L792.85 630.83 L794.85 629.59 L794.85 630.97 L796.85 630.57 L796.85 629.73 L798.85 629.25 L798.85 630.54 L800.85 630.44 L800.85 629.21 L802.85 628.93 L802.85 630.29 L804.85 630.04 L804.85 629.05 L805.39 629.52" stroke="#6666ff" stroke-width="2.2"/>
<path d="M106.85 771.57 L106.85 775.39 L108.85 776.42 L108.85 772.4 L110.85 770.85 L110.85 777.67 L112.85 776.7 L112.85 772.64 L114.85 772.3 L114.85 778 L116.85 777.58 L116.85 773.18 L118.85 773.4 L118.85 777.97 L120.85 778.24 L120.85 773.37 L122.85 774.1 L122.85 777.82 L124.85 778.33 L124.85 773.15 L126.85 773.17 L126.85 778.2 L128.85 778.52 L128.85 774.54 L130.85 774.3 L130.85 779.36 L132.85 778.56 L132.85 773.16 L134.85 771.05 L134.85 777.71 L136.85 779.04 L136.85 772.03 L138.85 773.27 L138.85 779.03 L140.85 777.69 L140.85 771.85 L142.85 773.06 L142.85 777.6 L144.85 778.05 L144.85 773.83 L146.85 771.59 L146.85 776.74 L148.85 776.7 L148.85 771.47 L150.85 770.64 L150.85 776.33 L152.85 775.05 L152.85 769.56 L154.85 769.61 L154.85 775.37 L156.85 773.49 L156.85 768.67 L158.85 767.29 L158.85 772.87 L160.85 772.78 L160.85 766.39 L162.85 766.59 L162.85 770.36 L164.85 769.47 L164.85 764.26 L166.85 763.88 L166.85 768.5 L168.85 767.07 L168.85 762.84 L170.85 761.99 L170.85 765.83 L172.85 765.75 L172.85 761.16 L174.85 760.12 L174.85 763.92 L176.85 765.8 L176.85 757.97 L178.85 757.99 L178.85 763.38 L180.85 761.69 L180.85 757.57 L182.85 756.55 L182.85 761.63 L184.85 761.02 L184.85 756.71 L186.85 754.74 L186.85 760.72 L188.85 758.93 L188.85 755.03 L190.85 753.79 L190.85 760.09 L192.85 759.51 L192.85 752.93 L194.85 753.97 L194.85 759.52 L196.85 760.17 L196.85 752.45 L198.85 755.42 L198.85 759.05 L200.85 759.82 L200.85 754.9 L202.85 756.27 L202.85 761.58 L204.85 760.56 L204.85 756.41 L206.85 754.94 L206.85 762.36 L208.85 761.85 L208.85 756.44 L210.85 756.86 L210.85 762.29 L212.85 763.28 L212.85 758.41 L214.85 759.85 L214.85 764.53 L216.85 765.89 L216.85 758.82 L218.85 761.44 L218.85 766.6 L220.85 769.1 L220.85 763 L222.85 762.54 L222.85 769.01 L224.85 771.62 L224.85 766.08 L226.85 768.36 L226.85 773.07 L228.85 773.69 L228.85 768.5 L230.85 769.56 L230.85 775.05 L232.85 776.4 L232.85 770.8 L234.85 772.62 L234.85 778.77 L236.85 778.72 L236.85 773.81 L238.85 776.4 L238.85 781.31 L240.85 782.48 L240.85 777.8 L242.85 777 L242.85 782.47 L244.85 783.42 L244.85 779.32 L246.85 780.9 L246.85 786.24 L248.85 787.32 L248.85 782.18 L250.85 783.12 L250.85 787.04 L252.85 790.8 L252.85 783.64 L254.85 784.08 L254.85 789.82 L256.85 789.96 L256.85 784.54 L258.85 784.51 L258.85 789.81 L260.85 789.93 L260.85 785.12 L262.85 784.98 L262.85 789.77 L264.85 789.97 L264.85 785.85 L266.85 785.94 L266.85 790.21 L268.85 791.17 L268.85 786.26 L270.85 785.27 L270.85 791.69 L272.85 791.36 L272.85 784.65 L274.85 784.72 L274.85 790.59 L276.85 788.76 L276.85 784.89 L278.85 783.03 L278.85 789.07 L280.85 786.48 L280.85 781.58 L282.85 782.13 L282.85 785.47 L284.85 785.43 L284.85 780.53 L286.85 777.68 L286.85 784.01 L288.85 780.7 L288.85 775.45 L290.85 772.62 L290.85 778.99 L292.85 777.15 L292.85 770.41 L294.85 769.21 L294.85 773.73 L296.85 772.92 L296.85 767.01 L298.85 764.49 L298.85 770.82 L300.85 768.5 L300.85 763.01 L302.85 760.3 L302.85 766.22 L304.85 763.57 L304.85 758.61 L306.85 756.2 L306.85 761.7 L308.85 761.13 L308.85 755.21 L310.85 753.4 L310.85 758.89 L312.85 757.02 L312.85 752.4 L314.85 750.23 L314.85 755.74 L316.85 754.04 L316.85 749.31 L318.85 749.38 L318.85 753.79 L320.85 753.5 L320.85 746.14 L322.85 747.63 L322.85 753.19 L324.85 755.27 L324.85 747.85 L326.85 745.1 L326.85 752.47 L328.85 753.19 L328.85 747.88 L330.85 748.84 L330.85 752.27 L332.85 753.08 L332.85 748.5 L334.85 748.15 L334.85 753.2 L336.85 754.96 L336.85 749.1 L338.85 750 L338.85 754.95 L340.85 756.93 L340.85 751.17 L342.85 753.09 L342.85 757.65 L344.85 760.27 L344.85 753.97 L346.85 756.29 L346.85 761.04 L348.85 764.35 L348.85 759.42 L350.85 761.73 L350.85 765.61 L352.85 769.21 L352.85 763.99 L354.85 767.04 L354.85 771.24 L356.85 775.12 L356.85 768.67 L358.85 772.04 L358.85 778.42 L360.85 781.1 L360.85 775.96 L362.85 779.57 L362.85 784.24 L364.85 786.64 L364.85 781.61 L366.85 784.46 L366.85 790.03 L368.85 793.01 L368.85 788.1 L370.85 789.77 L370.85 794.78 L372.85 798.48 L372.85 792.92 L374.85 796.26 L374.85 799.82 L376.85 802.16 L376.85 797.69 L378.85 799.69 L378.85 805.51 L380.85 807.91 L380.85 802.38 L382.85 802.74 L382.85 808.68 L384.85 810.21 L384.85 805.58 L386.85 807.29 L386.85 811.3 L388.85 813.65 L388.85 805.51 L390.85 807.46 L390.85 814.37 L392.85 813.38 L392.85 808.23 L394.85 808.42 L394.85 813.48 L396.85 813.46 L396.85 807.75 L398.85 807.85 L398.85 813.2 L400.85 811.31 L400.85 806.51 L402.85 805.79 L402.85 811.51 L404.85 811.4 L404.85 803.87 L406.85 803.47 L406.85 806.8 L408.85 804.6 L408.85 800.42 L410.85 797.31 L410.85 802.63 L412.85 799.06 L412.85 794.06 L414.85 791.46 L414.85 795.52 L416.85 793.07 L416.85 787.47 L418.85 784.23 L418.85 790.09 L420.85 787.03 L420.85 780.73 L422.85 777.61 L422.85 781.82 L424.85 777.99 L424.85 773.96 L426.85 769.97 L426.85 775.9 L428.85 771.24 L428.85 766.38 L430.85 761.77 L430.85 769.11 L432.85 763.63 L432.85 758.29 L434.85 754.31 L434.85 758.6 L436.85 754.35 L436.85 750.33 L438.85 744.88 L438.85 750.33 L440.85 747.2 L440.85 741.98 L442.85 737.12 L442.85 743 L444.85 740.64 L444.85 735.74 L446.85 732.09 L446.85 736.83 L448.85 733.74 L448.85 729.2 L450.85 727.33 L450.85 732.21 L452.85 729.41 L452.85 723.7 L454.85 723.6 L454.85 727.6 L456.85 727.38 L456.85 723.05 L458.85 721.7 L458.85 727.1 L460.85 725.64 L460.85 720.95 L462.85 722.14 L462.85 727.52 L464.85 727.82 L464.85 723.73 L466.85 725.93 L466.85 730.22 L468.85 733.73 L468.85 728.02 L470.85 730.65 L470.85 735.47 L472.85 740.72 L472.85 735.35 L474.85 739.63 L474.85 745.34 L476.85 752.24 L476.85 744.11 L478.85 748.79 L478.85 754.38 L480.85 758.86 L480.85 753.7 L482.85 759.79 L482.85 764.95 L484.85 769.95 L484.85 764.5 L486.85 770.99 L486.85 776.11 L488.85 781.42 L488.85 776.75 L490.85 782.97 L490.85 786.83 L492.85 792.11 L492.85 788.38 L494.85 794.26 L494.85 798.1 L496.85 803.3 L496.85 799.43 L498.85 804.9 L498.85 809.7 L500.85 815.76 L500.85 809.99 L502.85 815.28 L502.85 820.12 L504.85 824.45 L504.85 819.3 L506.85 825.1 L506.85 828.41 L508.85 833.61 L508.85 828.52 L510.85 832.62 L510.85 836.1 L512.85 839.74 L512.85 835.44 L514.85 837.99 L514.85 842.21 L516.85 844.31 L516.85 840.48 L518.85 842.11 L518.85 847.35 L520.85 849.02 L520.85 844.55 L522.85 844.54 L522.85 849.52 L524.85 849.13 L524.85 844.14 L526.85 843.41 L526.85 847.46 L528.85 848.04 L528.85 843.18 L530.85 840.47 L530.85 844.77 L532.85 842.33 L532.85 838.18 L534.85 835.16 L534.85 839.14 L536.85 834.86 L536.85 831.84 L538.85 825.48 L538.85 829.96 L540.85 824.72 L540.85 819.51 L542.85 813.87 L542.85 817.11 L544.85 811.7 L544.85 807.13 L546.85 801.39 L546.85 805.28 L548.85 797.6 L548.85 793.78 L550.85 785.36 L550.85 789.86 L552.85 781.39 L552.85 777.13 L554.85 768.07 L554.85 774.18 L556.85 766.3 L556.85 762.39 L558.85 754.28 L558.85 757.92 L560.85 748.94 L560.85 745.82 L562.85 737.27 L562.85 742.41 L564.85 733.08 L564.85 730.25 L566.85 721.95 L566.85 726.07 L568.85 717.38 L568.85 714.89 L570.85 704.78 L570.85 709.81 L572.85 702.42 L572.85 699.03 L574.85 692.27 L574.85 695.8 L576.85 691.7 L576.85 688.03 L578.85 683.2 L578.85 688.76 L580.85 685.84 L580.85 681.48 L582.85 680.27 L582.85 683.22 L584.85 681.25 L584.85 678.29 L586.85 677.85 L586.85 681.22 L588.85 682.59 L588.85 678.56 L590.85 680.8 L590.85 683.95 L592.85 687.47 L592.85 683.46 L594.85 686.81 L594.85 690.93 L596.85 695.24 L596.85 691.92 L598.85 698.3 L598.85 701.56 L600.85 710.55 L600.85 706.93 L602.85 716.1 L602.85 718.29 L604.85 727.68 L604.85 724.25 L606.85 733.2 L606.85 736.15 L608.85 746.45 L608.85 743.65 L610.85 753.7 L610.85 758.44 L612.85 767.26 L612.85 763.99 L614.85 773.64 L614.85 776.52 L616.85 787.2 L616.85 784.8 L618.85 794.94 L618.85 797.76 L620.85 808.83 L620.85 805.34 L622.85 815.68 L622.85 817.97 L624.85 827.12 L624.85 824.54 L626.85 833.6 L626.85 836.26 L628.85 843.78 L628.85 841.24 L630.85 848.84 L630.85 852.77 L632.85 858.67 L632.85 856.47 L634.85 862.27 L634.85 865.2 L636.85 870.99 L636.85 867.26 L638.85 874.09 L638.85 877.66 L640.85 882.1 L640.85 879.07 L642.85 882.32 L642.85 885.18 L644.85 886.79 L644.85 883.91 L646.85 885.23 L646.85 888.41 L648.85 889.41 L648.85 887.09 L650.85 887.18 L650.85 890.13 L652.85 889.48 L652.85 886.13 L654.85 886.4 L654.85 889.02 L656.85 887.89 L656.85 885.62 L658.85 883.56 L658.85 885.64 L660.85 883.78 L660.85 880.98 L662.85 876.82 L662.85 879.72 L664.85 873.76 L664.85 871.46 L666.85 865.45 L666.85 867.61 L668.85 860.04 L668.85 858.37 L670.85 850.1 L670.85 852.89 L672.85 843.81 L672.85 841.06 L674.85 830.88 L674.85 833.3 L676.85 822.28 L676.85 820.01 L678.85 808.26 L678.85 810.73 L680.85 797.77 L680.85 795.15 L682.85 781.84 L682.85 783.85 L684.85 769.12 L684.85 766.81 L686.85 751.44 L686.85 753.83 L688.85 736.77 L688.85 734.75 L690.85 716.79 L690.85 719.46 L692.85 702.4 L692.85 699.76 L694.85 684.59 L694.85 687.98 L696.85 671.07 L696.85 669.52 L698.85 654.35 L698.85 657.56 L700.85 644.02 L700.85 641.68 L702.85 631.47 L702.85 633.26 L704.85 623.56 L704.85 620.77 L706.85 613.96 L706.85 615.92 L708.85 610.33 L708.85 608.86 L710.85 606.27 L710.85 607.71 L712.85 605.98 L712.85 603.68 L714.85 603.6 L714.85 605.05 L716.85 606.22 L716.85 604.63 L718.85 607.25 L718.85 608.98 L720.85 612.26 L720.85 610.77 L722.85 617.04 L722.85 618.97 L724.85 628.51 L724.85 626.79 L726.85 636.51 L726.85 638.91 L728.85 651.08 L728.85 649.48 L730.85 663.93 L730.85 665.74 L732.85 682.21 L732.85 680.09 L734.85 697.24 L734.85 698.8 L736.85 715.12 L736.85 713.89 L738.85 730.74 L738.85 732.86 L740.85 750.69 L740.85 748.76 L742.85 766.69 L742.85 767.97 L744.85 784.54 L744.85 783.22 L746.85 799.36 L746.85 800.83 L748.85 816.84 L748.85 814.79 L750.85 830.33 L750.85 831.46 L752.85 845.53 L752.85 843.78 L754.85 857.79 L754.85 859.59 L756.85 872.52 L756.85 870.78 L758.85 882.13 L758.85 883.14 L760.85 890.86 L760.85 889.61 L762.85 895.9 L762.85 897.45 L764.85 900.91 L764.85 899.18 L766.85 899.71 L766.85 900.86 L768.85 899.83 L768.85 898.12 L770.85 896.59 L770.85 898.01 L772.85 896.9 L772.85 895.46 L774.85 894.47 L774.85 895.83 L776.85 894.5 L776.85 893.24 L778.85 891.92 L778.85 893.82 L780.85 892.67 L780.85 891.15 L782.85 891.01 L782.85 892.03 L784.85 892.29 L784.85 890.83 L786.85 890.53 L786.85 892.4 L788.85 892.47 L788.85 891.34 L790.85 891.48 L790.85 892.81 L792.85 893.1 L792.85 891.56 L794.85 891.91 L794.85 893.15 L796.85 894.18 L796.85 892.43 L798.85 894.13 L798.85 895.12 L800.85 897.41 L800.85 895.97 L802.85 898.18 L802.85 899.38 L804.85 902.08 L804.85 900.34 L805.39 901.95" stroke="#ff6600" stroke-width="2.4"/>
</g>
<g>
<path d="M1089.1 932.8 V572.7 M1427.1 932.8 V572.7 M1086.8 620.9 H1763.4 M1086.8 712.7 H1763.4 M1086.8 804.7 H1763.4 M1086.8 896.8 H1763.4" stroke="#888888" stroke-width="2" stroke-dasharray="2.2 3.8" fill="none"/>
<path d="M1088.9 932.8 v-12.3 M1156.8 932.8 v-6.4 M1225 932.8 v-6.4 M1293.1 932.8 v-6.4 M1359.2 932.8 v-6.4 M1426.9 932.8 v-12.3 M1494.8 932.8 v-6.4 M1562.9 932.8 v-6.4 M1630.8 932.8 v-6.4 M1699.2 932.8 v-6.4 M1064.8 620.9 h21 M1064.8 712.7 h21 M1064.8 804.7 h21 M1064.8 896.8 h21 M1064.8 597.9 h10.6 M1064.8 643.9 h10.6 M1064.8 666.9 h10.6 M1064.8 689.9 h10.6 M1064.8 735.9 h10.6 M1064.8 758.9 h10.6 M1064.8 781.9 h10.6 M1064.8 827.9 h10.6 M1064.8 850.9 h10.6 M1064.8 873.9 h10.6 M1064.8 919.9 h10.6" stroke="#000" stroke-width="2" fill="none"/>
<rect x="1064.8" y="572.7" width="698.6" height="360.1" fill="none" stroke="#000" stroke-width="2.1"/>
</g>
<g filter="url(#tb)" font-family="'Liberation Sans', Arial, Helvetica, sans-serif" font-weight="bold" font-size="24.8" fill="#000">
<text x="1025.02" y="628.6" textLength="32.58" lengthAdjust="spacingAndGlyphs">0.2</text>
<text x="1044.57" y="720.4" textLength="13.03" lengthAdjust="spacingAndGlyphs">0</text>
<text x="1017.22" y="812.4" textLength="40.38" lengthAdjust="spacingAndGlyphs">-0.2</text>
<text x="1017.22" y="904.5" textLength="40.38" lengthAdjust="spacingAndGlyphs">-0.4</text>
<text x="1067.95" y="954.2" textLength="39.1" lengthAdjust="spacingAndGlyphs">18s</text>
<text x="1400.03" y="954.2" textLength="52.14" lengthAdjust="spacingAndGlyphs">18s5</text>
</g>
<text transform="translate(986.3 573.9) rotate(-90)" text-anchor="end" font-family="'Liberation Sans', Arial, Helvetica, sans-serif" font-size="15.8" fill="#1a1a1a" stroke="#1a1a1a" stroke-width="0.25">mW</text>
<text filter="url(#tb)" x="1118.4" y="1008.2" font-family="'Liberation Serif', 'Times New Roman', Times, serif" font-weight="bold" font-size="29.26" textLength="543" lengthAdjust="spacingAndGlyphs" fill="#000">1214317595.9654 : Jun 29 2018 14:26:17 UTC</text>
<rect x="1098.9" y="539.1" width="566.2" height="83" fill="#fff" stroke="#000" stroke-width="2.1"/>
<path d="M1118 558.8 H1219.9" stroke="#6666ff" stroke-width="2"/>
<text filter="url(#tb)" x="1239" y="567.5" font-family="'Liberation Serif', 'Times New Roman', Times, serif" font-weight="bold" font-size="31.33" textLength="321.7" lengthAdjust="spacingAndGlyphs" fill="#000">V1:SIB2_B2_PD1_Audio</text>
<path d="M1118 600.5 H1219.9" stroke="#ff6600" stroke-width="2"/>
<text filter="url(#tb)" x="1239" y="609.2" font-family="'Liberation Serif', 'Times New Roman', Times, serif" font-weight="bold" font-size="31.33" textLength="321.7" lengthAdjust="spacingAndGlyphs" fill="#000">V1:SIB2_B2_PD2_Audio</text>
<g clip-path="url(#c4)" fill="none" stroke-linejoin="round" stroke-linecap="butt">
<path d="M1064.85 718.56 L1064.85 719.64 L1066.85 719.46 L1066.85 718.09 L1068.85 718.4 L1068.85 719.23 L1070.85 719.39 L1070.85 718.3 L1072.85 718.19 L1072.85 719.14 L1074.85 718.95 L1074.85 717.99 L1076.85 717.74 L1076.85 718.78 L1078.85 718.59 L1078.85 717.66 L1080.85 717.35 L1080.85 718.57 L1082.85 718.29 L1082.85 717.15 L1084.85 717.15 L1084.85 718.11 L1086.85 717.95 L1086.85 717.12 L1088.85 716.8 L1088.85 717.59 L1090.85 717.59 L1090.85 716.72 L1092.85 716.46 L1092.85 717.19 L1094.85 717.46 L1094.85 716.13 L1096.85 715.74 L1096.85 716.79 L1098.85 716.56 L1098.85 715.37 L1100.85 714.89 L1100.85 716.16 L1102.85 715.58 L1102.85 714.9 L1104.85 714.43 L1104.85 716.01 L1106.85 714.93 L1106.85 713.9 L1108.85 713.61 L1108.85 714.9 L1110.85 714.35 L1110.85 713.57 L1112.85 713.04 L1112.85 714.35 L1114.85 713.77 L1114.85 712.7 L1116.85 712 L1116.85 713.56 L1118.85 713.78 L1118.85 712.26 L1120.85 712.17 L1120.85 712.96 L1122.85 712.95 L1122.85 711.87 L1124.85 711.54 L1124.85 712.33 L1126.85 712.15 L1126.85 710.57 L1128.85 710.82 L1128.85 712.53 L1130.85 712.26 L1130.85 710.57 L1132.85 710.36 L1132.85 711.58 L1134.85 711.3 L1134.85 710.25 L1136.85 709.93 L1136.85 710.95 L1138.85 710.9 L1138.85 709.56 L1140.85 709.6 L1140.85 710.46 L1142.85 710.31 L1142.85 709.55 L1144.85 709.25 L1144.85 710.22 L1146.85 710.17 L1146.85 708.94 L1148.85 708.88 L1148.85 709.98 L1150.85 709.76 L1150.85 708.81 L1152.85 708.42 L1152.85 709.68 L1154.85 709.41 L1154.85 708.36 L1156.85 708.38 L1156.85 709.1 L1158.85 709.14 L1158.85 707.58 L1160.85 708.05 L1160.85 709.14 L1162.85 708.94 L1162.85 707.34 L1164.85 707.16 L1164.85 708.69 L1166.85 708.73 L1166.85 707.74 L1168.85 707.83 L1168.85 708.89 L1170.85 708.84 L1170.85 707.84 L1172.85 707.56 L1172.85 708.81 L1174.85 708.64 L1174.85 707.06 L1176.85 707.72 L1176.85 708.78 L1178.85 708.56 L1178.85 707.65 L1180.85 707.41 L1180.85 708.48 L1182.85 708.49 L1182.85 707.65 L1184.85 707.47 L1184.85 708.69 L1186.85 708.42 L1186.85 707.19 L1188.85 707.47 L1188.85 708.69 L1190.85 708.48 L1190.85 707.12 L1192.85 707.27 L1192.85 708.51 L1194.85 708.61 L1194.85 706.84 L1196.85 707.6 L1196.85 708.4 L1198.85 709.05 L1198.85 707.39 L1200.85 707.01 L1200.85 708.77 L1202.85 708.36 L1202.85 707.57 L1204.85 707.39 L1204.85 708.75 L1206.85 708.63 L1206.85 707.51 L1208.85 707.36 L1208.85 708.37 L1210.85 708.62 L1210.85 707.18 L1212.85 707.12 L1212.85 708.29 L1214.85 708.46 L1214.85 707.16 L1216.85 707.46 L1216.85 708.31 L1218.85 708.61 L1218.85 707.1 L1220.85 707.15 L1220.85 708.28 L1222.85 708.4 L1222.85 707.36 L1224.85 707.03 L1224.85 708.44 L1226.85 708.39 L1226.85 707.1 L1228.85 707.19 L1228.85 708.42 L1230.85 708.42 L1230.85 706.62 L1232.85 707.03 L1232.85 708.07 L1234.85 707.93 L1234.85 706.44 L1236.85 706.31 L1236.85 707.47 L1238.85 706.84 L1238.85 705.87 L1240.85 705.02 L1240.85 706.55 L1242.85 706.08 L1242.85 704.7 L1244.85 704.38 L1244.85 705.55 L1246.85 705.5 L1246.85 703.73 L1248.85 704.08 L1248.85 705.33 L1250.85 705.2 L1250.85 703.84 L1252.85 703.5 L1252.85 704.63 L1254.85 704.48 L1254.85 703.43 L1256.85 703.55 L1256.85 704.69 L1258.85 704.84 L1258.85 703.63 L1260.85 703.72 L1260.85 704.72 L1262.85 705.46 L1262.85 703.91 L1264.85 703.94 L1264.85 705.78 L1266.85 705.57 L1266.85 704.09 L1268.85 704.73 L1268.85 705.86 L1270.85 706.14 L1270.85 704.69 L1272.85 704.95 L1272.85 706.46 L1274.85 706.45 L1274.85 705.27 L1276.85 705.71 L1276.85 706.73 L1278.85 707.27 L1278.85 705.96 L1280.85 706.48 L1280.85 707.62 L1282.85 707.95 L1282.85 706.51 L1284.85 707.28 L1284.85 708.13 L1286.85 708.5 L1286.85 707.32 L1288.85 707.87 L1288.85 708.99 L1290.85 709.47 L1290.85 708.45 L1292.85 708.89 L1292.85 710.09 L1294.85 710.91 L1294.85 709.32 L1296.85 709.8 L1296.85 711.04 L1298.85 711.32 L1298.85 710.08 L1300.85 710.66 L1300.85 711.95 L1302.85 712.82 L1302.85 711.55 L1304.85 712.2 L1304.85 713.53 L1306.85 714.08 L1306.85 712.9 L1308.85 713.64 L1308.85 714.97 L1310.85 715.72 L1310.85 714.19 L1312.85 715.31 L1312.85 716.13 L1314.85 717.33 L1314.85 715.74 L1316.85 716.92 L1316.85 718.33 L1318.85 719.19 L1318.85 718.18 L1320.85 718.99 L1320.85 720.58 L1322.85 721.69 L1322.85 720.52 L1324.85 721.59 L1324.85 722.99 L1326.85 724 L1326.85 722.61 L1328.85 723.49 L1328.85 725.09 L1330.85 725.63 L1330.85 724.4 L1332.85 725.39 L1332.85 727.11 L1334.85 727.57 L1334.85 725.97 L1336.85 726.96 L1336.85 728.04 L1338.85 728.97 L1338.85 727.87 L1340.85 728.33 L1340.85 729.52 L1342.85 730.17 L1342.85 729.04 L1344.85 729.26 L1344.85 730.39 L1346.85 730.96 L1346.85 729.57 L1348.85 729.47 L1348.85 730.99 L1350.85 730.69 L1350.85 728.93 L1352.85 728.42 L1352.85 729.44 L1354.85 728.8 L1354.85 727.45 L1356.85 726.25 L1356.85 727.55 L1358.85 725.99 L1358.85 724.71 L1360.85 723.88 L1360.85 724.77 L1362.85 723.57 L1362.85 722.5 L1364.85 720.7 L1364.85 722.05 L1366.85 720.13 L1366.85 718.85 L1368.85 717.05 L1368.85 718.28 L1370.85 716.4 L1370.85 715.33 L1372.85 713.32 L1372.85 715.02 L1374.85 713.68 L1374.85 712.26 L1376.85 711.6 L1376.85 713.29 L1378.85 712.06 L1378.85 710.84 L1380.85 710.16 L1380.85 711.45 L1382.85 710.94 L1382.85 709.61 L1384.85 709.22 L1384.85 710.51 L1386.85 710.45 L1386.85 709 L1388.85 709.29 L1388.85 710.45 L1390.85 710.84 L1390.85 709.73 L1392.85 710.12 L1392.85 711.33 L1394.85 712.4 L1394.85 710.71 L1396.85 711.47 L1396.85 713.14 L1398.85 713.97 L1398.85 712.2 L1400.85 713.01 L1400.85 714.53 L1402.85 714.98 L1402.85 713.67 L1404.85 714.37 L1404.85 715.65 L1406.85 716.33 L1406.85 714.64 L1408.85 716.11 L1408.85 717.81 L1410.85 718.12 L1410.85 716.36 L1412.85 717.24 L1412.85 718.22 L1414.85 718.69 L1414.85 717.43 L1416.85 717.48 L1416.85 719.06 L1418.85 719.02 L1418.85 717.5 L1420.85 717.69 L1420.85 719.07 L1422.85 719.25 L1422.85 717.58 L1424.85 717.78 L1424.85 719.19 L1426.85 719.24 L1426.85 718.07 L1428.85 717.32 L1428.85 719.09 L1430.85 719.46 L1430.85 717.37 L1432.85 718.19 L1432.85 719.8 L1434.85 719.73 L1434.85 718.43 L1436.85 718.49 L1436.85 720.01 L1438.85 720.89 L1438.85 719.47 L1440.85 720.05 L1440.85 721.84 L1442.85 722.65 L1442.85 721.55 L1444.85 722.59 L1444.85 724.5 L1446.85 725.89 L1446.85 724.06 L1448.85 725.93 L1448.85 727.38 L1450.85 728.9 L1450.85 726.7 L1452.85 729.2 L1452.85 730.78 L1454.85 733.3 L1454.85 731.57 L1456.85 734.13 L1456.85 735.51 L1458.85 738.38 L1458.85 736.82 L1460.85 739.11 L1460.85 740.33 L1462.85 742.64 L1462.85 741.08 L1464.85 742.67 L1464.85 744.3 L1466.85 746.71 L1466.85 745.06 L1468.85 746.87 L1468.85 748.64 L1470.85 749.65 L1470.85 748.11 L1472.85 748.81 L1472.85 750.44 L1474.85 749.96 L1474.85 748.54 L1476.85 747.62 L1476.85 749.1 L1478.85 748.01 L1478.85 746.05 L1480.85 744.28 L1480.85 745.88 L1482.85 744.31 L1482.85 742.53 L1484.85 740.12 L1484.85 742.03 L1486.85 738.19 L1486.85 735.94 L1488.85 732.99 L1488.85 734.61 L1490.85 729.91 L1490.85 728.06 L1492.85 724.02 L1492.85 725.77 L1494.85 720.22 L1494.85 719.01 L1496.85 712.76 L1496.85 714.64 L1498.85 708.69 L1498.85 706.57 L1500.85 701.5 L1500.85 703.2 L1502.85 698.7 L1502.85 696.85 L1504.85 692.98 L1504.85 694.5 L1506.85 691.31 L1506.85 689.5 L1508.85 686.19 L1508.85 687.92 L1510.85 686.71 L1510.85 684.94 L1512.85 683.98 L1512.85 685.85 L1514.85 685.56 L1514.85 683.85 L1516.85 683.44 L1516.85 685.14 L1518.85 685.65 L1518.85 683.43 L1520.85 684.99 L1520.85 686.89 L1522.85 688.89 L1522.85 686.93 L1524.85 689.67 L1524.85 691.79 L1526.85 694.24 L1526.85 691.75 L1528.85 694.38 L1528.85 696.49 L1530.85 699.11 L1530.85 696.98 L1532.85 700.4 L1532.85 702.16 L1534.85 704.96 L1534.85 702.63 L1536.85 705.27 L1536.85 707.19 L1538.85 708.74 L1538.85 706.58 L1540.85 708.83 L1540.85 710.03 L1542.85 711.8 L1542.85 709.64 L1544.85 709.83 L1544.85 711.81 L1546.85 711.3 L1546.85 709.68 L1548.85 707.82 L1548.85 709.98 L1550.85 708.83 L1550.85 706.44 L1552.85 704.72 L1552.85 706.18 L1554.85 704.69 L1554.85 702.89 L1556.85 701.24 L1556.85 703.3 L1558.85 701.31 L1558.85 699.33 L1560.85 697.97 L1560.85 699.68 L1562.85 699.73 L1562.85 697.48 L1564.85 698.06 L1564.85 699.82 L1566.85 701.5 L1566.85 698.38 L1568.85 699.63 L1568.85 701.89 L1570.85 702.84 L1570.85 700.94 L1572.85 702.86 L1572.85 704.99 L1574.85 708.47 L1574.85 705.93 L1576.85 711.38 L1576.85 713.74 L1578.85 719.55 L1578.85 718.15 L1580.85 724.5 L1580.85 725.92 L1582.85 732.8 L1582.85 729.87 L1584.85 737.16 L1584.85 739.28 L1586.85 746.19 L1586.85 744.74 L1588.85 750.95 L1588.85 752.76 L1590.85 759.24 L1590.85 757.05 L1592.85 762.74 L1592.85 765.11 L1594.85 770.42 L1594.85 768.25 L1596.85 773.13 L1596.85 775.05 L1598.85 777.23 L1598.85 774.8 L1600.85 776.99 L1600.85 779.67 L1602.85 780.57 L1602.85 777.64 L1604.85 776.11 L1604.85 778.4 L1606.85 774.73 L1606.85 772.85 L1608.85 769.07 L1608.85 770.8 L1610.85 766.25 L1610.85 763.85 L1612.85 756.39 L1612.85 759.33 L1614.85 750.89 L1614.85 748.21 L1616.85 738.96 L1616.85 741.3 L1618.85 730.88 L1618.85 728.89 L1620.85 717.46 L1620.85 719.13 L1622.85 706.48 L1622.85 704.74 L1624.85 691.83 L1624.85 694.44 L1626.85 682.41 L1626.85 680.11 L1628.85 668.02 L1628.85 670.72 L1630.85 659.06 L1630.85 657.44 L1632.85 648.35 L1632.85 650.49 L1634.85 644.68 L1634.85 641.67 L1636.85 637.52 L1636.85 639.89 L1638.85 635.95 L1638.85 633.83 L1640.85 633 L1640.85 635.64 L1642.85 637.23 L1642.85 635.25 L1644.85 638.33 L1644.85 640.79 L1646.85 644.44 L1646.85 642.2 L1648.85 648.18 L1648.85 650.5 L1650.85 658.3 L1650.85 655.41 L1652.85 664.51 L1652.85 667.46 L1654.85 676.83 L1654.85 673.86 L1656.85 682.16 L1656.85 684.71 L1658.85 694.13 L1658.85 692.06 L1660.85 700.35 L1660.85 702.66 L1662.85 710.89 L1662.85 707.92 L1664.85 715.98 L1664.85 718.14 L1666.85 725.47 L1666.85 722.49 L1668.85 727.05 L1668.85 729.54 L1670.85 730.78 L1670.85 727.43 L1672.85 725.71 L1672.85 728.45 L1674.85 725.03 L1674.85 722.81 L1676.85 716.73 L1676.85 719.02 L1678.85 711.51 L1678.85 709.59 L1680.85 700.67 L1680.85 703.11 L1682.85 696.4 L1682.85 693.44 L1684.85 686.23 L1684.85 689.12 L1686.85 682.39 L1686.85 679.03 L1688.85 673.4 L1688.85 676.31 L1690.85 671.96 L1690.85 669.02 L1692.85 667.01 L1692.85 668.97 L1694.85 667.32 L1694.85 664.87 L1696.85 663.59 L1696.85 666.38 L1698.85 668.21 L1698.85 665.75 L1700.85 669.63 L1700.85 672.42 L1702.85 677.68 L1702.85 674.71 L1704.85 681.78 L1704.85 684.82 L1706.85 696.6 L1706.85 693.15 L1708.85 706.36 L1708.85 710.23 L1710.85 726 L1710.85 722.95 L1712.85 739.44 L1712.85 743.07 L1714.85 761.16 L1714.85 758.34 L1716.85 776.17 L1716.85 779.89 L1718.85 795.83 L1718.85 792.73 L1720.85 807.75 L1720.85 811.42 L1722.85 827.01 L1722.85 822.35 L1724.85 837.2 L1724.85 840.24 L1726.85 853.64 L1726.85 848.79 L1728.85 860.36 L1728.85 865.16 L1730.85 874.53 L1730.85 870.76 L1732.85 880.6 L1732.85 886.51 L1734.85 893.38 L1734.85 889.83 L1736.85 896.12 L1736.85 900.78 L1738.85 899.39 L1738.85 894.72 L1740.85 884.85 L1740.85 892.19 L1742.85 881.69 L1742.85 877.17 L1744.85 866.25 L1744.85 871.71 L1746.85 854.46 L1746.85 849.17 L1748.85 829.82 L1748.85 834.86 L1750.85 814.26 L1750.85 810.44 L1752.85 787.15 L1752.85 792.39 L1754.85 766.69 L1754.85 761.98 L1756.85 735.4 L1756.85 739.52 L1758.85 712.2 L1758.85 705.82 L1760.85 666.8 L1760.85 669.82 L1762.85 612.47 L1762.85 608.92 L1763.11 602.72" stroke="#6666ff" stroke-width="2.3"/>
<path d="M1064.85 718.06 L1064.85 719.14 L1066.85 718.96 L1066.85 717.59 L1068.85 717.9 L1068.85 718.73 L1070.85 718.89 L1070.85 717.8 L1072.85 717.69 L1072.85 718.64 L1074.85 718.45 L1074.85 717.49 L1076.85 717.24 L1076.85 718.28 L1078.85 718.09 L1078.85 717.16 L1080.85 716.85 L1080.85 718.07 L1082.85 717.79 L1082.85 716.65 L1084.85 716.65 L1084.85 717.61 L1086.85 717.45 L1086.85 716.62 L1088.85 716.3 L1088.85 717.09 L1090.85 717.09 L1090.85 716.22 L1092.85 715.96 L1092.85 716.69 L1094.85 716.96 L1094.85 715.63 L1096.85 715.24 L1096.85 716.29 L1098.85 716.06 L1098.85 714.87 L1100.85 714.39 L1100.85 715.66 L1102.85 715.08 L1102.85 714.4 L1104.85 713.93 L1104.85 715.51 L1106.85 714.43 L1106.85 713.4 L1108.85 713.11 L1108.85 714.4 L1110.85 713.85 L1110.85 713.07 L1112.85 712.54 L1112.85 713.85 L1114.85 713.27 L1114.85 712.2 L1116.85 711.5 L1116.85 713.06 L1118.85 713.28 L1118.85 711.76 L1120.85 711.67 L1120.85 712.46 L1122.85 712.45 L1122.85 711.37 L1124.85 711.04 L1124.85 711.83 L1126.85 711.65 L1126.85 710.07 L1128.85 710.32 L1128.85 712.03 L1130.85 711.76 L1130.85 710.07 L1132.85 709.86 L1132.85 711.08 L1134.85 710.8 L1134.85 709.75 L1136.85 709.43 L1136.85 710.45 L1138.85 710.4 L1138.85 709.06 L1140.85 709.1 L1140.85 709.96 L1142.85 709.81 L1142.85 709.05 L1144.85 708.75 L1144.85 709.72 L1146.85 709.67 L1146.85 708.44 L1148.85 708.38 L1148.85 709.48 L1150.85 709.26 L1150.85 708.31 L1152.85 707.92 L1152.85 709.18 L1154.85 708.91 L1154.85 707.86 L1156.85 707.88 L1156.85 708.6 L1158.85 708.64 L1158.85 707.08 L1160.85 707.55 L1160.85 708.64 L1162.85 708.44 L1162.85 706.84 L1164.85 706.66 L1164.85 708.19 L1166.85 708.23 L1166.85 707.24 L1168.85 707.33 L1168.85 708.39 L1170.85 708.34 L1170.85 707.34 L1172.85 707.06 L1172.85 708.31 L1174.85 708.14 L1174.85 706.56 L1176.85 707.22 L1176.85 708.28 L1178.85 708.06 L1178.85 707.15 L1180.85 706.91 L1180.85 707.98 L1182.85 707.99 L1182.85 707.15 L1184.85 706.97 L1184.85 708.19 L1186.85 707.92 L1186.85 706.69 L1188.85 706.97 L1188.85 708.19 L1190.85 707.98 L1190.85 706.62 L1192.85 706.77 L1192.85 708.01 L1194.85 708.11 L1194.85 706.34 L1196.85 707.1 L1196.85 707.9 L1198.85 708.55 L1198.85 706.89 L1200.85 706.51 L1200.85 708.27 L1202.85 707.86 L1202.85 707.07 L1204.85 706.89 L1204.85 708.25 L1206.85 708.13 L1206.85 707.01 L1208.85 706.86 L1208.85 707.87 L1210.85 708.12 L1210.85 706.68 L1212.85 706.62 L1212.85 707.79 L1214.85 707.96 L1214.85 706.66 L1216.85 706.96 L1216.85 707.81 L1218.85 708.11 L1218.85 706.6 L1220.85 706.65 L1220.85 707.78 L1222.85 707.9 L1222.85 706.86 L1224.85 706.53 L1224.85 707.94 L1226.85 707.89 L1226.85 706.6 L1228.85 706.69 L1228.85 707.92 L1230.85 707.92 L1230.85 706.12 L1232.85 706.53 L1232.85 707.57 L1234.85 707.43 L1234.85 705.94 L1236.85 705.81 L1236.85 706.97 L1238.85 706.34 L1238.85 705.37 L1240.85 704.52 L1240.85 706.05 L1242.85 705.58 L1242.85 704.2 L1244.85 703.88 L1244.85 705.05 L1246.85 705 L1246.85 703.23 L1248.85 703.58 L1248.85 704.83 L1250.85 704.7 L1250.85 703.34 L1252.85 703 L1252.85 704.13 L1254.85 703.98 L1254.85 702.93 L1256.85 703.05 L1256.85 704.19 L1258.85 704.34 L1258.85 703.13 L1260.85 703.22 L1260.85 704.22 L1262.85 704.96 L1262.85 703.41 L1264.85 703.44 L1264.85 705.28 L1266.85 705.07 L1266.85 703.59 L1268.85 704.23 L1268.85 705.36 L1270.85 705.64 L1270.85 704.19 L1272.85 704.45 L1272.85 705.96 L1274.85 705.95 L1274.85 704.77 L1276.85 705.21 L1276.85 706.23 L1278.85 706.77 L1278.85 705.46 L1280.85 705.98 L1280.85 707.12 L1282.85 707.45 L1282.85 706.01 L1284.85 706.78 L1284.85 707.63 L1286.85 708 L1286.85 706.82 L1288.85 707.37 L1288.85 708.49 L1290.85 708.97 L1290.85 707.95 L1292.85 708.39 L1292.85 709.59 L1294.85 710.41 L1294.85 708.82 L1296.85 709.3 L1296.85 710.54 L1298.85 710.82 L1298.85 709.58 L1300.85 710.16 L1300.85 711.45 L1302.85 712.32 L1302.85 711.05 L1304.85 711.7 L1304.85 713.03 L1306.85 713.58 L1306.85 712.4 L1308.85 713.14 L1308.85 714.47 L1310.85 715.22 L1310.85 713.69 L1312.85 714.81 L1312.85 715.63 L1314.85 716.83 L1314.85 715.24 L1316.85 716.42 L1316.85 717.83 L1318.85 718.69 L1318.85 717.68 L1320.85 718.49 L1320.85 720.08 L1322.85 721.19 L1322.85 720.02 L1324.85 721.09 L1324.85 722.49 L1326.85 723.5 L1326.85 722.11 L1328.85 722.99 L1328.85 724.59 L1330.85 725.13 L1330.85 723.9 L1332.85 724.89 L1332.85 726.61 L1334.85 727.07 L1334.85 725.47 L1336.85 726.46 L1336.85 727.54 L1338.85 728.47 L1338.85 727.37 L1340.85 727.83 L1340.85 729.02 L1342.85 729.67 L1342.85 728.54 L1344.85 728.76 L1344.85 729.89 L1346.85 730.46 L1346.85 729.07 L1348.85 728.97 L1348.85 730.49 L1350.85 730.19 L1350.85 728.43 L1352.85 727.92 L1352.85 728.94 L1354.85 728.3 L1354.85 726.95 L1356.85 725.75 L1356.85 727.05 L1358.85 725.49 L1358.85 724.21 L1360.85 723.38 L1360.85 724.27 L1362.85 723.07 L1362.85 722 L1364.85 720.2 L1364.85 721.55 L1366.85 719.63 L1366.85 718.35 L1368.85 716.55 L1368.85 717.78 L1370.85 715.9 L1370.85 714.83 L1372.85 712.82 L1372.85 714.52 L1374.85 713.18 L1374.85 711.76 L1376.85 711.1 L1376.85 712.79 L1378.85 711.56 L1378.85 710.34 L1380.85 709.66 L1380.85 710.95 L1382.85 710.44 L1382.85 709.11 L1384.85 708.72 L1384.85 710.01 L1386.85 709.95 L1386.85 708.5 L1388.85 708.79 L1388.85 709.95 L1390.85 710.34 L1390.85 709.23 L1392.85 709.62 L1392.85 710.83 L1394.85 711.9 L1394.85 710.21 L1396.85 710.97 L1396.85 712.64 L1398.85 713.47 L1398.85 711.7 L1400.85 712.51 L1400.85 714.03 L1402.85 714.48 L1402.85 713.17 L1404.85 713.87 L1404.85 715.15 L1406.85 715.83 L1406.85 714.14 L1408.85 715.61 L1408.85 717.31 L1410.85 717.62 L1410.85 715.86 L1412.85 716.74 L1412.85 717.72 L1414.85 718.19 L1414.85 716.93 L1416.85 716.98 L1416.85 718.56 L1418.85 718.52 L1418.85 717 L1420.85 717.19 L1420.85 718.57 L1422.85 718.75 L1422.85 717.08 L1424.85 717.28 L1424.85 718.69 L1426.85 718.74 L1426.85 717.57 L1428.85 716.82 L1428.85 718.59 L1430.85 718.96 L1430.85 716.87 L1432.85 717.69 L1432.85 719.3 L1434.85 719.23 L1434.85 717.93 L1436.85 717.99 L1436.85 719.51 L1438.85 720.39 L1438.85 718.97 L1440.85 719.55 L1440.85 721.34 L1442.85 722.15 L1442.85 721.05 L1444.85 722.09 L1444.85 724 L1446.85 725.39 L1446.85 723.56 L1448.85 725.43 L1448.85 726.88 L1450.85 728.4 L1450.85 726.2 L1452.85 728.7 L1452.85 730.28 L1454.85 732.8 L1454.85 731.07 L1456.85 733.63 L1456.85 735.01 L1458.85 737.88 L1458.85 736.32 L1460.85 738.61 L1460.85 739.83 L1462.85 742.14 L1462.85 740.58 L1464.85 742.17 L1464.85 743.8 L1466.85 746.21 L1466.85 744.56 L1468.85 746.37 L1468.85 748.14 L1470.85 749.15 L1470.85 747.61 L1472.85 748.31 L1472.85 749.94 L1474.85 749.46 L1474.85 748.04 L1476.85 747.12 L1476.85 748.6 L1478.85 747.51 L1478.85 745.55 L1480.85 743.78 L1480.85 745.38 L1482.85 743.81 L1482.85 742.03 L1484.85 739.62 L1484.85 741.53 L1486.85 737.69 L1486.85 735.44 L1488.85 732.49 L1488.85 734.11 L1490.85 729.41 L1490.85 727.56 L1492.85 723.52 L1492.85 725.27 L1494.85 719.72 L1494.85 718.51 L1496.85 712.26 L1496.85 714.14 L1498.85 708.19 L1498.85 706.07 L1500.85 701 L1500.85 702.7 L1502.85 698.2 L1502.85 696.35 L1504.85 692.48 L1504.85 694 L1506.85 690.81 L1506.85 689 L1508.85 685.69 L1508.85 687.42 L1510.85 686.21 L1510.85 684.44 L1512.85 683.48 L1512.85 685.35 L1514.85 685.06 L1514.85 683.35 L1516.85 682.94 L1516.85 684.64 L1518.85 685.15 L1518.85 682.93 L1520.85 684.49 L1520.85 686.39 L1522.85 688.39 L1522.85 686.43 L1524.85 689.17 L1524.85 691.29 L1526.85 693.74 L1526.85 691.25 L1528.85 693.88 L1528.85 695.99 L1530.85 698.61 L1530.85 696.48 L1532.85 699.9 L1532.85 701.66 L1534.85 704.46 L1534.85 702.13 L1536.85 704.77 L1536.85 706.69 L1538.85 708.24 L1538.85 706.08 L1540.85 708.33 L1540.85 709.53 L1542.85 711.3 L1542.85 709.14 L1544.85 709.33 L1544.85 711.31 L1546.85 710.8 L1546.85 709.18 L1548.85 707.32 L1548.85 709.48 L1550.85 708.33 L1550.85 705.94 L1552.85 704.22 L1552.85 705.68 L1554.85 704.19 L1554.85 702.39 L1556.85 700.74 L1556.85 702.8 L1558.85 700.81 L1558.85 698.83 L1560.85 697.47 L1560.85 699.18 L1562.85 699.23 L1562.85 696.98 L1564.85 697.56 L1564.85 699.32 L1566.85 701 L1566.85 697.88 L1568.85 699.13 L1568.85 701.39 L1570.85 702.34 L1570.85 700.44 L1572.85 702.36 L1572.85 704.49 L1574.85 707.97 L1574.85 705.43 L1576.85 710.88 L1576.85 713.24 L1578.85 719.05 L1578.85 717.65 L1580.85 724 L1580.85 725.42 L1582.85 732.3 L1582.85 729.37 L1584.85 736.66 L1584.85 738.78 L1586.85 745.69 L1586.85 744.24 L1588.85 750.45 L1588.85 752.26 L1590.85 758.74 L1590.85 756.55 L1592.85 762.24 L1592.85 764.61 L1594.85 769.92 L1594.85 767.75 L1596.85 772.63 L1596.85 774.55 L1598.85 776.73 L1598.85 774.3 L1600.85 776.49 L1600.85 779.17 L1602.85 780.07 L1602.85 777.14 L1604.85 775.61 L1604.85 777.9 L1606.85 774.23 L1606.85 772.35 L1608.85 768.57 L1608.85 770.3 L1610.85 765.75 L1610.85 763.35 L1612.85 755.89 L1612.85 758.83 L1614.85 750.39 L1614.85 747.71 L1616.85 738.46 L1616.85 740.8 L1618.85 730.38 L1618.85 728.39 L1620.85 716.96 L1620.85 718.63 L1622.85 705.98 L1622.85 704.24 L1624.85 691.33 L1624.85 693.94 L1626.85 681.91 L1626.85 679.61 L1628.85 667.52 L1628.85 670.22 L1630.85 658.56 L1630.85 656.94 L1632.85 647.85 L1632.85 649.99 L1634.85 644.18 L1634.85 641.17 L1636.85 637.02 L1636.85 639.39 L1638.85 635.45 L1638.85 633.33 L1640.85 632.5 L1640.85 635.14 L1642.85 636.73 L1642.85 634.75 L1644.85 637.83 L1644.85 640.29 L1646.85 643.94 L1646.85 641.7 L1648.85 647.68 L1648.85 650 L1650.85 657.8 L1650.85 654.91 L1652.85 664.01 L1652.85 666.96 L1654.85 676.33 L1654.85 673.36 L1656.85 681.66 L1656.85 684.21 L1658.85 693.63 L1658.85 691.56 L1660.85 699.85 L1660.85 702.16 L1662.85 710.39 L1662.85 707.42 L1664.85 715.48 L1664.85 717.64 L1666.85 724.97 L1666.85 721.99 L1668.85 726.55 L1668.85 729.04 L1670.85 730.28 L1670.85 726.93 L1672.85 725.21 L1672.85 727.95 L1674.85 724.53 L1674.85 722.31 L1676.85 716.23 L1676.85 718.52 L1678.85 711.01 L1678.85 709.09 L1680.85 700.17 L1680.85 702.61 L1682.85 695.9 L1682.85 692.94 L1684.85 685.73 L1684.85 688.62 L1686.85 681.89 L1686.85 678.53 L1688.85 672.9 L1688.85 675.81 L1690.85 671.46 L1690.85 668.52 L1692.85 666.51 L1692.85 668.47 L1694.85 666.82 L1694.85 664.37 L1696.85 663.09 L1696.85 665.88 L1698.85 667.71 L1698.85 665.25 L1700.85 669.13 L1700.85 671.91 L1702.85 677.16 L1702.85 674.23 L1704.85 681.3 L1704.85 684.29 L1706.85 696.04 L1706.85 692.69 L1708.85 705.95 L1708.85 709.69 L1710.85 725.44 L1710.85 722.5 L1712.85 739.01 L1712.85 742.47 L1714.85 760.57 L1714.85 757.89 L1716.85 775.76 L1716.85 779.26 L1718.85 795.22 L1718.85 792.31 L1720.85 807.39 L1720.85 810.81 L1722.85 826.35 L1722.85 822.02 L1724.85 836.81 L1724.85 839.62 L1726.85 852.94 L1726.85 848.48 L1728.85 860.06 L1728.85 864.44 L1730.85 873.9 L1730.85 870.48 L1732.85 880.27 L1732.85 885.62 L1734.85 892.67 L1734.85 889.48 L1736.85 895.84 L1736.85 900.02 L1738.85 898.64 L1738.85 894.48 L1740.85 884.9 L1740.85 891.42 L1742.85 880.99 L1742.85 876.99 L1744.85 865.95 L1744.85 870.76 L1746.85 853.64 L1746.85 848.93 L1748.85 829.58 L1748.85 834.13 L1750.85 813.6 L1750.85 810.11 L1752.85 786.85 L1752.85 791.69 L1754.85 766.05 L1754.85 761.64 L1756.85 735.01 L1756.85 738.92 L1758.85 711.56 L1758.85 705.41 L1760.85 666.33 L1760.85 669.3 L1762.85 611.97 L1762.85 608.42 L1763.11 602.22" stroke="#ff6600" stroke-width="2.2"/>
</g>
<g>
<path d="M2049.1 932.8 V572.7 M2387.1 932.8 V572.7 M2046.9 628.8 H2723.4 M2046.9 728.7 H2723.4 M2046.9 828.7 H2723.4 M2046.9 928.6 H2723.4" stroke="#888888" stroke-width="2" stroke-dasharray="2.2 3.8" fill="none"/>
<path d="M2049 932.8 v-12.3 M2116.9 932.8 v-6.4 M2185.1 932.8 v-6.4 M2253.2 932.8 v-6.4 M2319.3 932.8 v-6.4 M2387 932.8 v-12.3 M2454.9 932.8 v-6.4 M2523 932.8 v-6.4 M2590.9 932.8 v-6.4 M2659.3 932.8 v-6.4 M2024.9 628.8 h21 M2024.9 728.7 h21 M2024.9 828.7 h21 M2024.9 928.6 h21 M2024.9 578.84 h10.6 M2024.9 603.82 h10.6 M2024.9 653.78 h10.6 M2024.9 678.76 h10.6 M2024.9 703.74 h10.6 M2024.9 753.7 h10.6 M2024.9 778.68 h10.6 M2024.9 803.66 h10.6 M2024.9 853.62 h10.6 M2024.9 878.6 h10.6 M2024.9 903.58 h10.6" stroke="#000" stroke-width="2" fill="none"/>
<rect x="2024.9" y="572.7" width="698.5" height="360.1" fill="none" stroke="#000" stroke-width="2.1"/>
</g>
<g filter="url(#tb)" font-family="'Liberation Sans', Arial, Helvetica, sans-serif" font-weight="bold" font-size="24.8" fill="#000">
<text x="1991.63" y="636.5" textLength="26.07" lengthAdjust="spacingAndGlyphs">48</text>
<text x="1991.63" y="736.4" textLength="26.07" lengthAdjust="spacingAndGlyphs">46</text>
<text x="1991.63" y="836.4" textLength="26.07" lengthAdjust="spacingAndGlyphs">44</text>
<text x="1991.63" y="936.3" textLength="26.07" lengthAdjust="spacingAndGlyphs">42</text>
<text x="2027.95" y="954.2" textLength="39.1" lengthAdjust="spacingAndGlyphs">18s</text>
<text x="2360.03" y="954.2" textLength="52.14" lengthAdjust="spacingAndGlyphs">18s5</text>
</g>
<text transform="translate(1943.8 573.9) rotate(-90)" text-anchor="end" font-family="'Liberation Sans', Arial, Helvetica, sans-serif" font-size="14.2" fill="#3a3a3a" stroke="#3a3a3a" stroke-width="0.25">a.u</text>
<text filter="url(#tb)" x="2078.5" y="1008.2" font-family="'Liberation Serif', 'Times New Roman', Times, serif" font-weight="bold" font-size="29.26" textLength="543" lengthAdjust="spacingAndGlyphs" fill="#000">1214317595.9654 : Jun 29 2018 14:26:17 UTC</text>
<rect x="2137.1" y="532.8" width="598" height="111.9" fill="#fff" stroke="#000" stroke-width="2.1"/>
<path d="M2158.3 550.9 H2265.6" stroke="#6666ff" stroke-width="2"/>
<text filter="url(#tb)" x="2285.5" y="558.1" font-family="'Liberation Serif', 'Times New Roman', Times, serif" font-weight="bold" font-size="29.14" textLength="213.8" lengthAdjust="spacingAndGlyphs" fill="#000">V1:SPRB_B4_DC</text>
<path d="M2158.3 588.7 H2265.6" stroke="#ff6600" stroke-width="2"/>
<text filter="url(#tb)" x="2285.5" y="595.7" font-family="'Liberation Serif', 'Times New Roman', Times, serif" font-weight="bold" font-size="29.14" textLength="279" lengthAdjust="spacingAndGlyphs" fill="#000">V1:SPRB_B4_PD1_DC</text>
<path d="M2158.3 624.7 H2265.6" stroke="#009a00" stroke-width="2"/>
<text filter="url(#tb)" x="2285.5" y="631.9" font-family="'Liberation Serif', 'Times New Roman', Times, serif" font-weight="bold" font-size="29.14" textLength="279" lengthAdjust="spacingAndGlyphs" fill="#000">V1:SPRB_B4_PD2_DC</text>
<g clip-path="url(#c5)" fill="none" stroke-linejoin="round" stroke-linecap="butt">
<path d="M2024.85 603.66 L2025.85 603.69 L2026.85 603.72 L2027.85 603.75 L2028.85 603.79 L2029.85 603.83 L2030.85 603.87 L2031.85 603.92 L2032.85 603.97 L2033.85 604.03 L2034.85 604.08 L2035.85 604.14 L2036.85 604.2 L2037.85 604.26 L2038.85 604.33 L2039.85 604.4 L2040.85 604.47 L2041.85 604.54 L2042.85 604.61 L2043.85 604.68 L2044.85 604.76 L2045.85 604.84 L2046.85 604.92 L2047.85 604.99 L2048.85 605.07 L2049.85 605.16 L2050.85 605.25 L2051.85 605.34 L2052.85 605.44 L2053.85 605.54 L2054.85 605.65 L2055.85 605.76 L2056.85 605.88 L2057.85 606 L2058.85 606.12 L2059.85 606.25 L2060.85 606.38 L2061.85 606.51 L2062.85 606.65 L2063.85 606.79 L2064.85 606.93 L2065.85 607.07 L2066.85 607.22 L2067.85 607.36 L2068.85 607.51 L2069.85 607.66 L2070.85 607.82 L2071.85 607.97 L2072.85 608.13 L2073.85 608.29 L2074.85 608.45 L2075.85 608.62 L2076.85 608.8 L2077.85 608.98 L2078.85 609.16 L2079.85 609.34 L2080.85 609.53 L2081.85 609.73 L2082.85 609.92 L2083.85 610.12 L2084.85 610.32 L2085.85 610.53 L2086.85 610.73 L2087.85 610.94 L2088.85 611.15 L2089.85 611.37 L2090.85 611.59 L2091.85 611.8 L2092.85 612.02 L2093.85 612.25 L2094.85 612.47 L2095.85 612.69 L2096.85 612.92 L2097.85 613.15 L2098.85 613.38 L2099.85 613.61 L2100.85 613.84 L2101.85 614.08 L2102.85 614.32 L2103.85 614.56 L2104.85 614.8 L2105.85 615.05 L2106.85 615.3 L2107.85 615.56 L2108.85 615.81 L2109.85 616.07 L2110.85 616.34 L2111.85 616.6 L2112.85 616.87 L2113.85 617.14 L2114.85 617.41 L2115.85 617.69 L2116.85 617.97 L2117.85 618.25 L2118.85 618.53 L2119.85 618.82 L2120.85 619.11 L2121.85 619.4 L2122.85 619.69 L2123.85 619.99 L2124.85 620.29 L2125.85 620.59 L2126.85 620.89 L2127.85 621.19 L2128.85 621.5 L2129.85 621.82 L2130.85 622.13 L2131.85 622.45 L2132.85 622.78 L2133.85 623.11 L2134.85 623.44 L2135.85 623.78 L2136.85 624.12 L2137.85 624.46 L2138.85 624.81 L2139.85 625.16 L2140.85 625.51 L2141.85 625.87 L2142.85 626.22 L2143.85 626.58 L2144.85 626.94 L2145.85 627.31 L2146.85 627.67 L2147.85 628.04 L2148.85 628.41 L2149.85 628.78 L2150.85 629.15 L2151.85 629.52 L2152.85 629.89 L2153.85 630.26 L2154.85 630.64 L2155.85 631.01 L2156.85 631.39 L2157.85 631.77 L2158.85 632.15 L2159.85 632.54 L2160.85 632.93 L2161.85 633.32 L2162.85 633.72 L2163.85 634.12 L2164.85 634.52 L2165.85 634.93 L2166.85 635.33 L2167.85 635.74 L2168.85 636.15 L2169.85 636.56 L2170.85 636.96 L2171.85 637.37 L2172.85 637.78 L2173.85 638.19 L2174.85 638.6 L2175.85 639.01 L2176.85 639.42 L2177.85 639.82 L2178.85 640.23 L2179.85 640.63 L2180.85 641.03 L2181.85 641.43 L2182.85 641.82 L2183.85 642.21 L2184.85 642.6 L2185.85 642.99 L2186.85 643.39 L2187.85 643.78 L2188.85 644.17 L2189.85 644.56 L2190.85 644.95 L2191.85 645.35 L2192.85 645.74 L2193.85 646.13 L2194.85 646.52 L2195.85 646.91 L2196.85 647.29 L2197.85 647.68 L2198.85 648.07 L2199.85 648.45 L2200.85 648.83 L2201.85 649.21 L2202.85 649.59 L2203.85 649.96 L2204.85 650.34 L2205.85 650.71 L2206.85 651.07 L2207.85 651.44 L2208.85 651.8 L2209.85 652.15 L2210.85 652.51 L2211.85 652.86 L2212.85 653.21 L2213.85 653.55 L2214.85 653.9 L2215.85 654.25 L2216.85 654.6 L2217.85 654.95 L2218.85 655.3 L2219.85 655.65 L2220.85 656 L2221.85 656.34 L2222.85 656.68 L2223.85 657.02 L2224.85 657.36 L2225.85 657.7 L2226.85 658.03 L2227.85 658.35 L2228.85 658.68 L2229.85 658.99 L2230.85 659.31 L2231.85 659.61 L2232.85 659.92 L2233.85 660.21 L2234.85 660.5 L2235.85 660.79 L2236.85 661.06 L2237.85 661.33 L2238.85 661.59 L2239.85 661.84 L2240.85 662.09 L2241.85 662.33 L2242.85 662.58 L2243.85 662.82 L2244.85 663.05 L2245.85 663.29 L2246.85 663.52 L2247.85 663.75 L2248.85 663.97 L2249.85 664.2 L2250.85 664.42 L2251.85 664.63 L2252.85 664.85 L2253.85 665.05 L2254.85 665.26 L2255.85 665.46 L2256.85 665.66 L2257.85 665.85 L2258.85 666.03 L2259.85 666.22 L2260.85 666.39 L2261.85 666.57 L2262.85 666.73 L2263.85 666.9 L2264.85 667.05 L2265.85 667.2 L2266.85 667.35 L2267.85 667.49 L2268.85 667.62 L2269.85 667.75 L2270.85 667.89 L2271.85 668.02 L2272.85 668.14 L2273.85 668.27 L2274.85 668.4 L2275.85 668.52 L2276.85 668.64 L2277.85 668.76 L2278.85 668.87 L2279.85 668.99 L2280.85 669.1 L2281.85 669.21 L2282.85 669.31 L2283.85 669.41 L2284.85 669.51 L2285.85 669.61 L2286.85 669.7 L2287.85 669.79 L2288.85 669.87 L2289.85 669.95 L2290.85 670.03 L2291.85 670.1 L2292.85 670.16 L2293.85 670.23 L2294.85 670.28 L2295.85 670.33 L2296.85 670.38 L2297.85 670.43 L2298.85 670.47 L2299.85 670.52 L2300.85 670.56 L2301.85 670.61 L2302.85 670.65 L2303.85 670.69 L2304.85 670.74 L2305.85 670.78 L2306.85 670.81 L2307.85 670.85 L2308.85 670.89 L2309.85 670.93 L2310.85 670.96 L2311.85 670.99 L2312.85 671.02 L2313.85 671.05 L2314.85 671.08 L2315.85 671.1 L2316.85 671.12 L2317.85 671.14 L2318.85 671.16 L2319.85 671.17 L2320.85 671.19 L2321.85 671.2 L2322.85 671.2 L2323.85 671.21 L2324.85 671.21 L2325.85 671.2 L2326.85 671.2 L2327.85 671.19 L2328.85 671.18 L2329.85 671.16 L2330.85 671.15 L2331.85 671.13 L2332.85 671.1 L2333.85 671.08 L2334.85 671.05 L2335.85 671.02 L2336.85 670.99 L2337.85 670.96 L2338.85 670.93 L2339.85 670.89 L2340.85 670.85 L2341.85 670.82 L2342.85 670.78 L2343.85 670.74 L2344.85 670.7 L2345.85 670.65 L2346.85 670.61 L2347.85 670.57 L2348.85 670.53 L2349.85 670.49 L2350.85 670.44 L2351.85 670.4 L2352.85 670.36 L2353.85 670.31 L2354.85 670.27 L2355.85 670.22 L2356.85 670.16 L2357.85 670.1 L2358.85 670.04 L2359.85 669.98 L2360.85 669.92 L2361.85 669.85 L2362.85 669.78 L2363.85 669.71 L2364.85 669.64 L2365.85 669.56 L2366.85 669.49 L2367.85 669.41 L2368.85 669.34 L2369.85 669.26 L2370.85 669.18 L2371.85 669.1 L2372.85 669.02 L2373.85 668.94 L2374.85 668.86 L2375.85 668.78 L2376.85 668.7 L2377.85 668.62 L2378.85 668.55 L2379.85 668.47 L2380.85 668.4 L2381.85 668.32 L2382.85 668.24 L2383.85 668.17 L2384.85 668.09 L2385.85 668.02 L2386.85 667.94 L2387.85 667.86 L2388.85 667.78 L2389.85 667.7 L2390.85 667.63 L2391.85 667.55 L2392.85 667.47 L2393.85 667.39 L2394.85 667.31 L2395.85 667.23 L2396.85 667.15 L2397.85 667.06 L2398.85 666.98 L2399.85 666.9 L2400.85 666.82 L2401.85 666.74 L2402.85 666.65 L2403.85 666.57 L2404.85 666.49 L2405.85 666.41 L2406.85 666.32 L2407.85 666.24 L2408.85 666.16 L2409.85 666.07 L2410.85 665.98 L2411.85 665.87 L2412.85 665.77 L2413.85 665.66 L2414.85 665.55 L2415.85 665.43 L2416.85 665.31 L2417.85 665.2 L2418.85 665.08 L2419.85 664.97 L2420.85 664.86 L2421.85 664.75 L2422.85 664.65 L2423.85 664.56 L2424.85 664.47 L2425.85 664.4 L2426.85 664.33 L2427.85 664.27 L2428.85 664.23 L2429.85 664.19 L2430.85 664.18 L2431.85 664.17 L2432.85 664.17 L2433.85 664.17 L2434.85 664.17 L2435.85 664.17 L2436.85 664.17 L2437.85 664.17 L2438.85 664.17 L2439.85 664.17 L2440.85 664.17 L2441.85 664.17 L2442.85 664.17 L2443.85 664.17 L2444.85 664.17 L2445.85 664.17 L2446.85 664.17 L2447.85 664.17 L2448.85 664.17 L2449.85 664.17 L2450.85 664.17 L2451.85 664.17 L2452.85 664.17 L2453.85 664.17 L2454.85 664.17 L2455.85 664.18 L2456.85 664.2 L2457.85 664.22 L2458.85 664.24 L2459.85 664.27 L2460.85 664.31 L2461.85 664.35 L2462.85 664.4 L2463.85 664.45 L2464.85 664.5 L2465.85 664.56 L2466.85 664.62 L2467.85 664.69 L2468.85 664.75 L2469.85 664.82 L2470.85 664.9 L2471.85 664.97 L2472.85 665.05 L2473.85 665.13 L2474.85 665.21 L2475.85 665.29 L2476.85 665.37 L2477.85 665.45 L2478.85 665.53 L2479.85 665.62 L2480.85 665.71 L2481.85 665.82 L2482.85 665.93 L2483.85 666.05 L2484.85 666.19 L2485.85 666.33 L2486.85 666.48 L2487.85 666.63 L2488.85 666.8 L2489.85 666.97 L2490.85 667.14 L2491.85 667.32 L2492.85 667.5 L2493.85 667.69 L2494.85 667.88 L2495.85 668.08 L2496.85 668.27 L2497.85 668.47 L2498.85 668.67 L2499.85 668.87 L2500.85 669.07 L2501.85 669.27 L2502.85 669.47 L2503.85 669.66 L2504.85 669.86 L2505.85 670.05 L2506.85 670.24 L2507.85 670.42 L2508.85 670.61 L2509.85 670.8 L2510.85 670.99 L2511.85 671.18 L2512.85 671.37 L2513.85 671.57 L2514.85 671.76 L2515.85 671.96 L2516.85 672.16 L2517.85 672.36 L2518.85 672.56 L2519.85 672.76 L2520.85 672.97 L2521.85 673.17 L2522.85 673.38 L2523.85 673.58 L2524.85 673.79 L2525.85 673.99 L2526.85 674.2 L2527.85 674.4 L2528.85 674.61 L2529.85 674.81 L2530.85 675.02 L2531.85 675.22 L2532.85 675.42 L2533.85 675.63 L2534.85 675.83 L2535.85 676.03 L2536.85 676.23 L2537.85 676.42 L2538.85 676.61 L2539.85 676.8 L2540.85 676.99 L2541.85 677.17 L2542.85 677.35 L2543.85 677.54 L2544.85 677.72 L2545.85 677.9 L2546.85 678.08 L2547.85 678.26 L2548.85 678.45 L2549.85 678.63 L2550.85 678.82 L2551.85 679.01 L2552.85 679.21 L2553.85 679.4 L2554.85 679.6 L2555.85 679.8 L2556.85 680.01 L2557.85 680.23 L2558.85 680.44 L2559.85 680.67 L2560.85 680.9 L2561.85 681.14 L2562.85 681.38 L2563.85 681.63 L2564.85 681.89 L2565.85 682.18 L2566.85 682.48 L2567.85 682.8 L2568.85 683.13 L2569.85 683.47 L2570.85 683.83 L2571.85 684.2 L2572.85 684.57 L2573.85 684.96 L2574.85 685.34 L2575.85 685.74 L2576.85 686.13 L2577.85 686.53 L2578.85 686.93 L2579.85 687.32 L2580.85 687.72 L2581.85 688.11 L2582.85 688.49 L2583.85 688.87 L2584.85 689.23 L2585.85 689.59 L2586.85 689.94 L2587.85 690.27 L2588.85 690.59 L2589.85 690.89 L2590.85 691.18 L2591.85 691.44 L2592.85 691.69 L2593.85 691.93 L2594.85 692.16 L2595.85 692.37 L2596.85 692.58 L2597.85 692.77 L2598.85 692.96 L2599.85 693.15 L2600.85 693.33 L2601.85 693.5 L2602.85 693.67 L2603.85 693.84 L2604.85 694.01 L2605.85 694.17 L2606.85 694.34 L2607.85 694.51 L2608.85 694.68 L2609.85 694.85 L2610.85 695.03 L2611.85 695.22 L2612.85 695.41 L2613.85 695.61 L2614.85 695.82 L2615.85 696.04 L2616.85 696.27 L2617.85 696.51 L2618.85 696.76 L2619.85 697.03 L2620.85 697.32 L2621.85 697.64 L2622.85 698 L2623.85 698.39 L2624.85 698.8 L2625.85 699.24 L2626.85 699.7 L2627.85 700.17 L2628.85 700.66 L2629.85 701.16 L2630.85 701.67 L2631.85 702.17 L2632.85 702.68 L2633.85 703.19 L2634.85 703.68 L2635.85 704.17 L2636.85 704.65 L2637.85 705.1 L2638.85 705.54 L2639.85 705.95 L2640.85 706.34 L2641.85 706.7 L2642.85 707.02 L2643.85 707.34 L2644.85 707.67 L2645.85 708 L2646.85 708.33 L2647.85 708.65 L2648.85 708.97 L2649.85 709.28 L2650.85 709.58 L2651.85 709.86 L2652.85 710.12 L2653.85 710.36 L2654.85 710.58 L2655.85 710.77 L2656.85 710.93 L2657.85 711.05 L2658.85 711.14 L2659.85 711.19 L2660.85 711.22 L2661.85 711.25 L2662.85 711.28 L2663.85 711.31 L2664.85 711.33 L2665.85 711.35 L2666.85 711.37 L2667.85 711.39 L2668.85 711.4 L2669.85 711.41 L2670.85 711.42 L2671.85 711.43 L2672.85 711.44 L2673.85 711.45 L2674.85 711.46 L2675.85 711.47 L2676.85 711.48 L2677.85 711.5 L2678.85 711.51 L2679.85 711.53 L2680.85 711.54 L2681.85 711.56 L2682.85 711.58 L2683.85 711.61 L2684.85 711.64 L2685.85 711.67 L2686.85 711.7 L2687.85 711.74 L2688.85 711.83 L2689.85 711.98 L2690.85 712.18 L2691.85 712.43 L2692.85 712.73 L2693.85 713.06 L2694.85 713.43 L2695.85 713.83 L2696.85 714.25 L2697.85 714.68 L2698.85 715.13 L2699.85 715.59 L2700.85 716.04 L2701.85 716.49 L2702.85 716.94 L2703.85 717.36 L2704.85 717.77 L2705.85 718.18 L2706.85 718.6 L2707.85 719.03 L2708.85 719.46 L2709.85 719.91 L2710.85 720.36 L2711.85 720.82 L2712.85 721.28 L2713.85 721.76 L2714.85 722.24 L2715.85 722.73 L2716.85 723.23 L2717.85 723.73 L2718.85 724.24 L2719.85 724.76 L2720.85 725.29 L2721.85 725.82 L2722.85 726.36 L2723.39 726.65" stroke="#6666ff" stroke-width="2.4"/>
<path d="M2024.85 800.63 L2025.85 800.64 L2026.85 800.64 L2027.85 800.64 L2028.85 800.65 L2029.85 800.66 L2030.85 800.67 L2031.85 800.68 L2032.85 800.69 L2033.85 800.71 L2034.85 800.73 L2035.85 800.74 L2036.85 800.76 L2037.85 800.78 L2038.85 800.81 L2039.85 800.83 L2040.85 800.86 L2041.85 800.88 L2042.85 800.91 L2043.85 800.94 L2044.85 800.97 L2045.85 801 L2046.85 801.03 L2047.85 801.07 L2048.85 801.1 L2049.85 801.13 L2050.85 801.17 L2051.85 801.21 L2052.85 801.25 L2053.85 801.31 L2054.85 801.38 L2055.85 801.46 L2056.85 801.55 L2057.85 801.65 L2058.85 801.75 L2059.85 801.87 L2060.85 801.99 L2061.85 802.11 L2062.85 802.25 L2063.85 802.38 L2064.85 802.52 L2065.85 802.66 L2066.85 802.81 L2067.85 802.95 L2068.85 803.1 L2069.85 803.24 L2070.85 803.39 L2071.85 803.53 L2072.85 803.68 L2073.85 803.83 L2074.85 803.99 L2075.85 804.15 L2076.85 804.32 L2077.85 804.5 L2078.85 804.67 L2079.85 804.85 L2080.85 805.04 L2081.85 805.23 L2082.85 805.42 L2083.85 805.62 L2084.85 805.82 L2085.85 806.02 L2086.85 806.23 L2087.85 806.44 L2088.85 806.66 L2089.85 806.87 L2090.85 807.09 L2091.85 807.31 L2092.85 807.54 L2093.85 807.77 L2094.85 808 L2095.85 808.23 L2096.85 808.46 L2097.85 808.7 L2098.85 808.94 L2099.85 809.18 L2100.85 809.43 L2101.85 809.68 L2102.85 809.94 L2103.85 810.21 L2104.85 810.49 L2105.85 810.77 L2106.85 811.06 L2107.85 811.36 L2108.85 811.65 L2109.85 811.96 L2110.85 812.26 L2111.85 812.57 L2112.85 812.88 L2113.85 813.2 L2114.85 813.51 L2115.85 813.83 L2116.85 814.15 L2117.85 814.47 L2118.85 814.79 L2119.85 815.11 L2120.85 815.43 L2121.85 815.75 L2122.85 816.06 L2123.85 816.38 L2124.85 816.69 L2125.85 817 L2126.85 817.3 L2127.85 817.6 L2128.85 817.9 L2129.85 818.2 L2130.85 818.5 L2131.85 818.79 L2132.85 819.08 L2133.85 819.38 L2134.85 819.67 L2135.85 819.96 L2136.85 820.26 L2137.85 820.55 L2138.85 820.84 L2139.85 821.13 L2140.85 821.43 L2141.85 821.72 L2142.85 822.02 L2143.85 822.31 L2144.85 822.61 L2145.85 822.91 L2146.85 823.21 L2147.85 823.51 L2148.85 823.81 L2149.85 824.12 L2150.85 824.43 L2151.85 824.74 L2152.85 825.05 L2153.85 825.37 L2154.85 825.68 L2155.85 826.01 L2156.85 826.33 L2157.85 826.66 L2158.85 827 L2159.85 827.34 L2160.85 827.69 L2161.85 828.04 L2162.85 828.39 L2163.85 828.74 L2164.85 829.1 L2165.85 829.46 L2166.85 829.82 L2167.85 830.18 L2168.85 830.55 L2169.85 830.91 L2170.85 831.27 L2171.85 831.64 L2172.85 832 L2173.85 832.36 L2174.85 832.72 L2175.85 833.08 L2176.85 833.43 L2177.85 833.78 L2178.85 834.13 L2179.85 834.48 L2180.85 834.82 L2181.85 835.15 L2182.85 835.48 L2183.85 835.81 L2184.85 836.13 L2185.85 836.45 L2186.85 836.76 L2187.85 837.07 L2188.85 837.38 L2189.85 837.68 L2190.85 837.98 L2191.85 838.28 L2192.85 838.58 L2193.85 838.87 L2194.85 839.17 L2195.85 839.46 L2196.85 839.75 L2197.85 840.04 L2198.85 840.33 L2199.85 840.62 L2200.85 840.91 L2201.85 841.21 L2202.85 841.5 L2203.85 841.79 L2204.85 842.08 L2205.85 842.38 L2206.85 842.68 L2207.85 842.98 L2208.85 843.28 L2209.85 843.59 L2210.85 843.9 L2211.85 844.21 L2212.85 844.53 L2213.85 844.85 L2214.85 845.18 L2215.85 845.51 L2216.85 845.85 L2217.85 846.2 L2218.85 846.55 L2219.85 846.9 L2220.85 847.25 L2221.85 847.6 L2222.85 847.96 L2223.85 848.32 L2224.85 848.67 L2225.85 849.02 L2226.85 849.38 L2227.85 849.72 L2228.85 850.07 L2229.85 850.41 L2230.85 850.75 L2231.85 851.08 L2232.85 851.41 L2233.85 851.73 L2234.85 852.04 L2235.85 852.34 L2236.85 852.64 L2237.85 852.93 L2238.85 853.2 L2239.85 853.47 L2240.85 853.72 L2241.85 853.98 L2242.85 854.23 L2243.85 854.48 L2244.85 854.72 L2245.85 854.97 L2246.85 855.2 L2247.85 855.44 L2248.85 855.67 L2249.85 855.9 L2250.85 856.12 L2251.85 856.34 L2252.85 856.55 L2253.85 856.76 L2254.85 856.96 L2255.85 857.16 L2256.85 857.35 L2257.85 857.54 L2258.85 857.71 L2259.85 857.88 L2260.85 858.05 L2261.85 858.21 L2262.85 858.36 L2263.85 858.5 L2264.85 858.64 L2265.85 858.78 L2266.85 858.91 L2267.85 859.04 L2268.85 859.17 L2269.85 859.29 L2270.85 859.41 L2271.85 859.53 L2272.85 859.64 L2273.85 859.75 L2274.85 859.86 L2275.85 859.96 L2276.85 860.06 L2277.85 860.16 L2278.85 860.26 L2279.85 860.35 L2280.85 860.45 L2281.85 860.54 L2282.85 860.62 L2283.85 860.71 L2284.85 860.81 L2285.85 860.9 L2286.85 860.99 L2287.85 861.09 L2288.85 861.19 L2289.85 861.28 L2290.85 861.38 L2291.85 861.47 L2292.85 861.56 L2293.85 861.65 L2294.85 861.74 L2295.85 861.83 L2296.85 861.91 L2297.85 861.99 L2298.85 862.07 L2299.85 862.14 L2300.85 862.21 L2301.85 862.27 L2302.85 862.33 L2303.85 862.38 L2304.85 862.43 L2305.85 862.46 L2306.85 862.5 L2307.85 862.52 L2308.85 862.54 L2309.85 862.55 L2310.85 862.55 L2311.85 862.55 L2312.85 862.53 L2313.85 862.52 L2314.85 862.49 L2315.85 862.47 L2316.85 862.43 L2317.85 862.4 L2318.85 862.36 L2319.85 862.32 L2320.85 862.27 L2321.85 862.23 L2322.85 862.18 L2323.85 862.13 L2324.85 862.08 L2325.85 862.03 L2326.85 861.98 L2327.85 861.93 L2328.85 861.88 L2329.85 861.84 L2330.85 861.79 L2331.85 861.75 L2332.85 861.71 L2333.85 861.68 L2334.85 861.65 L2335.85 861.61 L2336.85 861.58 L2337.85 861.55 L2338.85 861.52 L2339.85 861.5 L2340.85 861.47 L2341.85 861.44 L2342.85 861.42 L2343.85 861.39 L2344.85 861.36 L2345.85 861.34 L2346.85 861.31 L2347.85 861.29 L2348.85 861.26 L2349.85 861.23 L2350.85 861.21 L2351.85 861.18 L2352.85 861.15 L2353.85 861.12 L2354.85 861.09 L2355.85 861.05 L2356.85 861.02 L2357.85 860.99 L2358.85 860.95 L2359.85 860.91 L2360.85 860.87 L2361.85 860.83 L2362.85 860.78 L2363.85 860.74 L2364.85 860.69 L2365.85 860.63 L2366.85 860.58 L2367.85 860.52 L2368.85 860.44 L2369.85 860.35 L2370.85 860.24 L2371.85 860.13 L2372.85 860 L2373.85 859.87 L2374.85 859.72 L2375.85 859.57 L2376.85 859.42 L2377.85 859.25 L2378.85 859.09 L2379.85 858.92 L2380.85 858.74 L2381.85 858.57 L2382.85 858.4 L2383.85 858.22 L2384.85 858.05 L2385.85 857.88 L2386.85 857.71 L2387.85 857.55 L2388.85 857.39 L2389.85 857.24 L2390.85 857.1 L2391.85 856.96 L2392.85 856.83 L2393.85 856.71 L2394.85 856.58 L2395.85 856.46 L2396.85 856.35 L2397.85 856.23 L2398.85 856.11 L2399.85 856 L2400.85 855.88 L2401.85 855.77 L2402.85 855.66 L2403.85 855.54 L2404.85 855.43 L2405.85 855.32 L2406.85 855.2 L2407.85 855.09 L2408.85 854.97 L2409.85 854.85 L2410.85 854.72 L2411.85 854.58 L2412.85 854.43 L2413.85 854.28 L2414.85 854.12 L2415.85 853.96 L2416.85 853.81 L2417.85 853.67 L2418.85 853.53 L2419.85 853.4 L2420.85 853.28 L2421.85 853.18 L2422.85 853.1 L2423.85 853.04 L2424.85 853 L2425.85 852.98 L2426.85 852.98 L2427.85 852.98 L2428.85 852.98 L2429.85 852.98 L2430.85 852.98 L2431.85 852.98 L2432.85 852.98 L2433.85 852.98 L2434.85 852.98 L2435.85 852.98 L2436.85 852.98 L2437.85 852.98 L2438.85 852.98 L2439.85 852.98 L2440.85 852.98 L2441.85 852.98 L2442.85 852.98 L2443.85 852.98 L2444.85 852.98 L2445.85 852.98 L2446.85 852.98 L2447.85 852.98 L2448.85 852.98 L2449.85 852.98 L2450.85 852.98 L2451.85 852.98 L2452.85 852.98 L2453.85 852.98 L2454.85 852.98 L2455.85 852.98 L2456.85 852.98 L2457.85 852.98 L2458.85 852.98 L2459.85 852.98 L2460.85 852.98 L2461.85 852.98 L2462.85 852.98 L2463.85 852.98 L2464.85 852.98 L2465.85 852.98 L2466.85 852.98 L2467.85 852.98 L2468.85 852.98 L2469.85 852.98 L2470.85 852.98 L2471.85 852.98 L2472.85 852.98 L2473.85 852.98 L2474.85 852.98 L2475.85 852.98 L2476.85 852.98 L2477.85 852.98 L2478.85 852.98 L2479.85 852.98 L2480.85 852.98 L2481.85 852.98 L2482.85 852.98 L2483.85 852.98 L2484.85 852.98 L2485.85 852.98 L2486.85 852.98 L2487.85 852.98 L2488.85 852.98 L2489.85 852.98 L2490.85 852.98 L2491.85 853.01 L2492.85 853.06 L2493.85 853.15 L2494.85 853.26 L2495.85 853.39 L2496.85 853.54 L2497.85 853.71 L2498.85 853.89 L2499.85 854.08 L2500.85 854.28 L2501.85 854.47 L2502.85 854.67 L2503.85 854.87 L2504.85 855.06 L2505.85 855.24 L2506.85 855.41 L2507.85 855.56 L2508.85 855.72 L2509.85 855.87 L2510.85 856.02 L2511.85 856.17 L2512.85 856.32 L2513.85 856.47 L2514.85 856.62 L2515.85 856.77 L2516.85 856.92 L2517.85 857.07 L2518.85 857.23 L2519.85 857.38 L2520.85 857.53 L2521.85 857.68 L2522.85 857.83 L2523.85 857.98 L2524.85 858.13 L2525.85 858.28 L2526.85 858.43 L2527.85 858.58 L2528.85 858.73 L2529.85 858.88 L2530.85 859.03 L2531.85 859.18 L2532.85 859.32 L2533.85 859.47 L2534.85 859.62 L2535.85 859.76 L2536.85 859.91 L2537.85 860.04 L2538.85 860.18 L2539.85 860.31 L2540.85 860.44 L2541.85 860.56 L2542.85 860.69 L2543.85 860.81 L2544.85 860.94 L2545.85 861.07 L2546.85 861.2 L2547.85 861.34 L2548.85 861.47 L2549.85 861.62 L2550.85 861.77 L2551.85 861.93 L2552.85 862.09 L2553.85 862.27 L2554.85 862.45 L2555.85 862.65 L2556.85 862.86 L2557.85 863.1 L2558.85 863.36 L2559.85 863.64 L2560.85 863.93 L2561.85 864.23 L2562.85 864.55 L2563.85 864.88 L2564.85 865.22 L2565.85 865.56 L2566.85 865.91 L2567.85 866.26 L2568.85 866.62 L2569.85 866.97 L2570.85 867.32 L2571.85 867.67 L2572.85 868.01 L2573.85 868.35 L2574.85 868.67 L2575.85 868.99 L2576.85 869.29 L2577.85 869.58 L2578.85 869.86 L2579.85 870.13 L2580.85 870.4 L2581.85 870.66 L2582.85 870.93 L2583.85 871.19 L2584.85 871.44 L2585.85 871.7 L2586.85 871.95 L2587.85 872.2 L2588.85 872.45 L2589.85 872.69 L2590.85 872.94 L2591.85 873.18 L2592.85 873.42 L2593.85 873.67 L2594.85 873.91 L2595.85 874.15 L2596.85 874.39 L2597.85 874.63 L2598.85 874.87 L2599.85 875.11 L2600.85 875.35 L2601.85 875.59 L2602.85 875.84 L2603.85 876.08 L2604.85 876.33 L2605.85 876.58 L2606.85 876.83 L2607.85 877.07 L2608.85 877.31 L2609.85 877.55 L2610.85 877.78 L2611.85 878.02 L2612.85 878.25 L2613.85 878.48 L2614.85 878.71 L2615.85 878.94 L2616.85 879.18 L2617.85 879.41 L2618.85 879.65 L2619.85 879.9 L2620.85 880.14 L2621.85 880.39 L2622.85 880.65 L2623.85 880.92 L2624.85 881.19 L2625.85 881.46 L2626.85 881.75 L2627.85 882.04 L2628.85 882.35 L2629.85 882.68 L2630.85 883.05 L2631.85 883.45 L2632.85 883.87 L2633.85 884.3 L2634.85 884.74 L2635.85 885.19 L2636.85 885.65 L2637.85 886.09 L2638.85 886.52 L2639.85 886.94 L2640.85 887.34 L2641.85 887.71 L2642.85 888.05 L2643.85 888.34 L2644.85 888.6 L2645.85 888.81 L2646.85 889.01 L2647.85 889.22 L2648.85 889.41 L2649.85 889.61 L2650.85 889.79 L2651.85 889.97 L2652.85 890.13 L2653.85 890.27 L2654.85 890.4 L2655.85 890.51 L2656.85 890.59 L2657.85 890.66 L2658.85 890.69 L2659.85 890.69 L2660.85 890.65 L2661.85 890.55 L2662.85 890.42 L2663.85 890.25 L2664.85 890.06 L2665.85 889.86 L2666.85 889.65 L2667.85 889.44 L2668.85 889.24 L2669.85 889.07 L2670.85 888.92 L2671.85 888.81 L2672.85 888.74 L2673.85 888.73 L2674.85 888.74 L2675.85 888.76 L2676.85 888.8 L2677.85 888.84 L2678.85 888.9 L2679.85 888.97 L2680.85 889.04 L2681.85 889.13 L2682.85 889.22 L2683.85 889.32 L2684.85 889.43 L2685.85 889.54 L2686.85 889.66 L2687.85 889.79 L2688.85 889.92 L2689.85 890.05 L2690.85 890.19 L2691.85 890.37 L2692.85 890.6 L2693.85 890.87 L2694.85 891.17 L2695.85 891.5 L2696.85 891.86 L2697.85 892.24 L2698.85 892.64 L2699.85 893.04 L2700.85 893.45 L2701.85 893.86 L2702.85 894.27 L2703.85 894.66 L2704.85 895.04 L2705.85 895.41 L2706.85 895.79 L2707.85 896.18 L2708.85 896.57 L2709.85 896.97 L2710.85 897.37 L2711.85 897.77 L2712.85 898.18 L2713.85 898.6 L2714.85 899.02 L2715.85 899.44 L2716.85 899.87 L2717.85 900.31 L2718.85 900.75 L2719.85 901.19 L2720.85 901.64 L2721.85 902.09 L2722.85 902.55 L2723.39 902.8" stroke="#ff6600" stroke-width="2.35"/>
<path d="M2024.85 603.06 L2025.85 603.09 L2026.85 603.12 L2027.85 603.15 L2028.85 603.19 L2029.85 603.23 L2030.85 603.27 L2031.85 603.32 L2032.85 603.37 L2033.85 603.43 L2034.85 603.48 L2035.85 603.54 L2036.85 603.6 L2037.85 603.66 L2038.85 603.73 L2039.85 603.8 L2040.85 603.87 L2041.85 603.94 L2042.85 604.01 L2043.85 604.08 L2044.85 604.16 L2045.85 604.24 L2046.85 604.32 L2047.85 604.39 L2048.85 604.47 L2049.85 604.56 L2050.85 604.65 L2051.85 604.74 L2052.85 604.84 L2053.85 604.94 L2054.85 605.05 L2055.85 605.16 L2056.85 605.28 L2057.85 605.4 L2058.85 605.52 L2059.85 605.65 L2060.85 605.78 L2061.85 605.91 L2062.85 606.05 L2063.85 606.19 L2064.85 606.33 L2065.85 606.47 L2066.85 606.62 L2067.85 606.76 L2068.85 606.91 L2069.85 607.06 L2070.85 607.22 L2071.85 607.37 L2072.85 607.53 L2073.85 607.69 L2074.85 607.85 L2075.85 608.02 L2076.85 608.2 L2077.85 608.38 L2078.85 608.56 L2079.85 608.74 L2080.85 608.93 L2081.85 609.13 L2082.85 609.32 L2083.85 609.52 L2084.85 609.72 L2085.85 609.93 L2086.85 610.13 L2087.85 610.34 L2088.85 610.55 L2089.85 610.77 L2090.85 610.99 L2091.85 611.2 L2092.85 611.42 L2093.85 611.65 L2094.85 611.87 L2095.85 612.09 L2096.85 612.32 L2097.85 612.55 L2098.85 612.78 L2099.85 613.01 L2100.85 613.24 L2101.85 613.48 L2102.85 613.72 L2103.85 613.96 L2104.85 614.2 L2105.85 614.45 L2106.85 614.7 L2107.85 614.96 L2108.85 615.21 L2109.85 615.47 L2110.85 615.74 L2111.85 616 L2112.85 616.27 L2113.85 616.54 L2114.85 616.81 L2115.85 617.09 L2116.85 617.37 L2117.85 617.65 L2118.85 617.93 L2119.85 618.22 L2120.85 618.51 L2121.85 618.8 L2122.85 619.09 L2123.85 619.39 L2124.85 619.69 L2125.85 619.99 L2126.85 620.29 L2127.85 620.59 L2128.85 620.9 L2129.85 621.22 L2130.85 621.53 L2131.85 621.85 L2132.85 622.18 L2133.85 622.51 L2134.85 622.84 L2135.85 623.18 L2136.85 623.52 L2137.85 623.86 L2138.85 624.21 L2139.85 624.56 L2140.85 624.91 L2141.85 625.27 L2142.85 625.62 L2143.85 625.98 L2144.85 626.34 L2145.85 626.71 L2146.85 627.07 L2147.85 627.44 L2148.85 627.81 L2149.85 628.18 L2150.85 628.55 L2151.85 628.92 L2152.85 629.29 L2153.85 629.66 L2154.85 630.04 L2155.85 630.41 L2156.85 630.79 L2157.85 631.17 L2158.85 631.55 L2159.85 631.94 L2160.85 632.33 L2161.85 632.72 L2162.85 633.12 L2163.85 633.52 L2164.85 633.92 L2165.85 634.33 L2166.85 634.73 L2167.85 635.14 L2168.85 635.55 L2169.85 635.96 L2170.85 636.36 L2171.85 636.77 L2172.85 637.18 L2173.85 637.59 L2174.85 638 L2175.85 638.41 L2176.85 638.82 L2177.85 639.22 L2178.85 639.63 L2179.85 640.03 L2180.85 640.43 L2181.85 640.83 L2182.85 641.22 L2183.85 641.61 L2184.85 642 L2185.85 642.39 L2186.85 642.79 L2187.85 643.18 L2188.85 643.57 L2189.85 643.96 L2190.85 644.35 L2191.85 644.75 L2192.85 645.14 L2193.85 645.53 L2194.85 645.92 L2195.85 646.31 L2196.85 646.69 L2197.85 647.08 L2198.85 647.47 L2199.85 647.85 L2200.85 648.23 L2201.85 648.61 L2202.85 648.99 L2203.85 649.36 L2204.85 649.74 L2205.85 650.11 L2206.85 650.47 L2207.85 650.84 L2208.85 651.2 L2209.85 651.55 L2210.85 651.91 L2211.85 652.26 L2212.85 652.61 L2213.85 652.95 L2214.85 653.3 L2215.85 653.65 L2216.85 654 L2217.85 654.35 L2218.85 654.7 L2219.85 655.05 L2220.85 655.4 L2221.85 655.74 L2222.85 656.08 L2223.85 656.42 L2224.85 656.76 L2225.85 657.1 L2226.85 657.43 L2227.85 657.75 L2228.85 658.08 L2229.85 658.39 L2230.85 658.71 L2231.85 659.01 L2232.85 659.32 L2233.85 659.61 L2234.85 659.9 L2235.85 660.19 L2236.85 660.46 L2237.85 660.73 L2238.85 660.99 L2239.85 661.24 L2240.85 661.49 L2241.85 661.73 L2242.85 661.98 L2243.85 662.22 L2244.85 662.45 L2245.85 662.69 L2246.85 662.92 L2247.85 663.15 L2248.85 663.37 L2249.85 663.6 L2250.85 663.82 L2251.85 664.03 L2252.85 664.25 L2253.85 664.45 L2254.85 664.66 L2255.85 664.86 L2256.85 665.06 L2257.85 665.25 L2258.85 665.43 L2259.85 665.62 L2260.85 665.79 L2261.85 665.97 L2262.85 666.13 L2263.85 666.3 L2264.85 666.45 L2265.85 666.6 L2266.85 666.75 L2267.85 666.89 L2268.85 667.02 L2269.85 667.15 L2270.85 667.29 L2271.85 667.42 L2272.85 667.54 L2273.85 667.67 L2274.85 667.8 L2275.85 667.92 L2276.85 668.04 L2277.85 668.16 L2278.85 668.27 L2279.85 668.39 L2280.85 668.5 L2281.85 668.61 L2282.85 668.71 L2283.85 668.81 L2284.85 668.91 L2285.85 669.01 L2286.85 669.1 L2287.85 669.19 L2288.85 669.27 L2289.85 669.35 L2290.85 669.43 L2291.85 669.5 L2292.85 669.56 L2293.85 669.63 L2294.85 669.68 L2295.85 669.73 L2296.85 669.78 L2297.85 669.83 L2298.85 669.87 L2299.85 669.92 L2300.85 669.96 L2301.85 670.01 L2302.85 670.05 L2303.85 670.09 L2304.85 670.14 L2305.85 670.18 L2306.85 670.21 L2307.85 670.25 L2308.85 670.29 L2309.85 670.33 L2310.85 670.36 L2311.85 670.39 L2312.85 670.42 L2313.85 670.45 L2314.85 670.48 L2315.85 670.5 L2316.85 670.52 L2317.85 670.54 L2318.85 670.56 L2319.85 670.57 L2320.85 670.59 L2321.85 670.6 L2322.85 670.6 L2323.85 670.61 L2324.85 670.61 L2325.85 670.6 L2326.85 670.6 L2327.85 670.59 L2328.85 670.58 L2329.85 670.56 L2330.85 670.55 L2331.85 670.53 L2332.85 670.5 L2333.85 670.48 L2334.85 670.45 L2335.85 670.42 L2336.85 670.39 L2337.85 670.36 L2338.85 670.33 L2339.85 670.29 L2340.85 670.25 L2341.85 670.22 L2342.85 670.18 L2343.85 670.14 L2344.85 670.1 L2345.85 670.05 L2346.85 670.01 L2347.85 669.97 L2348.85 669.93 L2349.85 669.89 L2350.85 669.84 L2351.85 669.8 L2352.85 669.76 L2353.85 669.71 L2354.85 669.67 L2355.85 669.62 L2356.85 669.56 L2357.85 669.5 L2358.85 669.44 L2359.85 669.38 L2360.85 669.32 L2361.85 669.25 L2362.85 669.18 L2363.85 669.11 L2364.85 669.04 L2365.85 668.96 L2366.85 668.89 L2367.85 668.81 L2368.85 668.74 L2369.85 668.66 L2370.85 668.58 L2371.85 668.5 L2372.85 668.42 L2373.85 668.34 L2374.85 668.26 L2375.85 668.18 L2376.85 668.1 L2377.85 668.02 L2378.85 667.95 L2379.85 667.87 L2380.85 667.8 L2381.85 667.72 L2382.85 667.64 L2383.85 667.57 L2384.85 667.49 L2385.85 667.42 L2386.85 667.34 L2387.85 667.26 L2388.85 667.18 L2389.85 667.1 L2390.85 667.03 L2391.85 666.95 L2392.85 666.87 L2393.85 666.79 L2394.85 666.71 L2395.85 666.63 L2396.85 666.55 L2397.85 666.46 L2398.85 666.38 L2399.85 666.3 L2400.85 666.22 L2401.85 666.14 L2402.85 666.05 L2403.85 665.97 L2404.85 665.89 L2405.85 665.81 L2406.85 665.72 L2407.85 665.64 L2408.85 665.56 L2409.85 665.47 L2410.85 665.38 L2411.85 665.27 L2412.85 665.17 L2413.85 665.06 L2414.85 664.95 L2415.85 664.83 L2416.85 664.71 L2417.85 664.6 L2418.85 664.48 L2419.85 664.37 L2420.85 664.26 L2421.85 664.15 L2422.85 664.05 L2423.85 663.96 L2424.85 663.87 L2425.85 663.8 L2426.85 663.73 L2427.85 663.67 L2428.85 663.63 L2429.85 663.59 L2430.85 663.58 L2431.85 663.57 L2432.85 663.57 L2433.85 663.57 L2434.85 663.57 L2435.85 663.57 L2436.85 663.57 L2437.85 663.57 L2438.85 663.57 L2439.85 663.57 L2440.85 663.57 L2441.85 663.57 L2442.85 663.57 L2443.85 663.57 L2444.85 663.57 L2445.85 663.57 L2446.85 663.57 L2447.85 663.57 L2448.85 663.57 L2449.85 663.57 L2450.85 663.57 L2451.85 663.57 L2452.85 663.57 L2453.85 663.57 L2454.85 663.57 L2455.85 663.58 L2456.85 663.6 L2457.85 663.62 L2458.85 663.64 L2459.85 663.67 L2460.85 663.71 L2461.85 663.75 L2462.85 663.8 L2463.85 663.85 L2464.85 663.9 L2465.85 663.96 L2466.85 664.02 L2467.85 664.09 L2468.85 664.15 L2469.85 664.22 L2470.85 664.3 L2471.85 664.37 L2472.85 664.45 L2473.85 664.53 L2474.85 664.61 L2475.85 664.69 L2476.85 664.77 L2477.85 664.85 L2478.85 664.93 L2479.85 665.02 L2480.85 665.11 L2481.85 665.22 L2482.85 665.33 L2483.85 665.45 L2484.85 665.59 L2485.85 665.73 L2486.85 665.88 L2487.85 666.03 L2488.85 666.2 L2489.85 666.37 L2490.85 666.54 L2491.85 666.72 L2492.85 666.9 L2493.85 667.09 L2494.85 667.28 L2495.85 667.48 L2496.85 667.67 L2497.85 667.87 L2498.85 668.07 L2499.85 668.27 L2500.85 668.47 L2501.85 668.67 L2502.85 668.87 L2503.85 669.06 L2504.85 669.26 L2505.85 669.45 L2506.85 669.64 L2507.85 669.82 L2508.85 670.01 L2509.85 670.2 L2510.85 670.39 L2511.85 670.58 L2512.85 670.77 L2513.85 670.97 L2514.85 671.16 L2515.85 671.36 L2516.85 671.56 L2517.85 671.76 L2518.85 671.96 L2519.85 672.16 L2520.85 672.37 L2521.85 672.57 L2522.85 672.78 L2523.85 672.98 L2524.85 673.19 L2525.85 673.39 L2526.85 673.6 L2527.85 673.8 L2528.85 674.01 L2529.85 674.21 L2530.85 674.42 L2531.85 674.62 L2532.85 674.82 L2533.85 675.03 L2534.85 675.23 L2535.85 675.43 L2536.85 675.63 L2537.85 675.82 L2538.85 676.01 L2539.85 676.2 L2540.85 676.39 L2541.85 676.57 L2542.85 676.75 L2543.85 676.94 L2544.85 677.12 L2545.85 677.3 L2546.85 677.48 L2547.85 677.66 L2548.85 677.85 L2549.85 678.03 L2550.85 678.22 L2551.85 678.41 L2552.85 678.61 L2553.85 678.8 L2554.85 679 L2555.85 679.2 L2556.85 679.41 L2557.85 679.63 L2558.85 679.84 L2559.85 680.07 L2560.85 680.3 L2561.85 680.54 L2562.85 680.78 L2563.85 681.03 L2564.85 681.29 L2565.85 681.58 L2566.85 681.88 L2567.85 682.2 L2568.85 682.53 L2569.85 682.87 L2570.85 683.23 L2571.85 683.6 L2572.85 683.97 L2573.85 684.36 L2574.85 684.74 L2575.85 685.14 L2576.85 685.53 L2577.85 685.93 L2578.85 686.33 L2579.85 686.72 L2580.85 687.12 L2581.85 687.51 L2582.85 687.89 L2583.85 688.27 L2584.85 688.63 L2585.85 688.99 L2586.85 689.34 L2587.85 689.67 L2588.85 689.99 L2589.85 690.29 L2590.85 690.58 L2591.85 690.84 L2592.85 691.09 L2593.85 691.33 L2594.85 691.56 L2595.85 691.77 L2596.85 691.98 L2597.85 692.17 L2598.85 692.36 L2599.85 692.55 L2600.85 692.73 L2601.85 692.9 L2602.85 693.07 L2603.85 693.24 L2604.85 693.41 L2605.85 693.57 L2606.85 693.74 L2607.85 693.91 L2608.85 694.08 L2609.85 694.25 L2610.85 694.43 L2611.85 694.62 L2612.85 694.81 L2613.85 695.01 L2614.85 695.22 L2615.85 695.44 L2616.85 695.67 L2617.85 695.91 L2618.85 696.16 L2619.85 696.43 L2620.85 696.72 L2621.85 697.04 L2622.85 697.4 L2623.85 697.79 L2624.85 698.2 L2625.85 698.64 L2626.85 699.1 L2627.85 699.57 L2628.85 700.06 L2629.85 700.56 L2630.85 701.07 L2631.85 701.57 L2632.85 702.08 L2633.85 702.59 L2634.85 703.08 L2635.85 703.57 L2636.85 704.05 L2637.85 704.5 L2638.85 704.94 L2639.85 705.35 L2640.85 705.74 L2641.85 706.1 L2642.85 706.42 L2643.85 706.74 L2644.85 707.07 L2645.85 707.4 L2646.85 707.73 L2647.85 708.05 L2648.85 708.37 L2649.85 708.68 L2650.85 708.98 L2651.85 709.26 L2652.85 709.52 L2653.85 709.76 L2654.85 709.98 L2655.85 710.17 L2656.85 710.33 L2657.85 710.45 L2658.85 710.54 L2659.85 710.59 L2660.85 710.62 L2661.85 710.65 L2662.85 710.68 L2663.85 710.71 L2664.85 710.73 L2665.85 710.75 L2666.85 710.77 L2667.85 710.79 L2668.85 710.8 L2669.85 710.81 L2670.85 710.82 L2671.85 710.83 L2672.85 710.84 L2673.85 710.85 L2674.85 710.86 L2675.85 710.87 L2676.85 710.88 L2677.85 710.9 L2678.85 710.91 L2679.85 710.93 L2680.85 710.94 L2681.85 710.96 L2682.85 710.98 L2683.85 711.01 L2684.85 711.04 L2685.85 711.07 L2686.85 711.1 L2687.85 711.14 L2688.85 711.23 L2689.85 711.38 L2690.85 711.58 L2691.85 711.83 L2692.85 712.13 L2693.85 712.46 L2694.85 712.83 L2695.85 713.23 L2696.85 713.65 L2697.85 714.08 L2698.85 714.53 L2699.85 714.99 L2700.85 715.44 L2701.85 715.89 L2702.85 716.34 L2703.85 716.76 L2704.85 717.17 L2705.85 717.58 L2706.85 718 L2707.85 718.43 L2708.85 718.86 L2709.85 719.31 L2710.85 719.76 L2711.85 720.22 L2712.85 720.68 L2713.85 721.16 L2714.85 721.64 L2715.85 722.13 L2716.85 722.63 L2717.85 723.13 L2718.85 723.64 L2719.85 724.16 L2720.85 724.69 L2721.85 725.22 L2722.85 725.76 L2723.39 726.05" stroke="#009a00" stroke-width="2.2"/>
</g>
<g>
<path d="M130.9 1448.8 V1088.7 M468.9 1448.8 V1088.7 M128.9 1178.8 H805.3 M128.9 1270.6 H805.3 M128.9 1361.2 H805.3" stroke="#888888" stroke-width="2" stroke-dasharray="2.2 3.8" fill="none"/>
<path d="M131 1448.8 v-12.3 M198.9 1448.8 v-6.4 M267.1 1448.8 v-6.4 M335.2 1448.8 v-6.4 M401.3 1448.8 v-6.4 M469 1448.8 v-12.3 M536.9 1448.8 v-6.4 M605 1448.8 v-6.4 M672.9 1448.8 v-6.4 M741.3 1448.8 v-6.4 M106.9 1178.8 h21 M106.9 1270.6 h21 M106.9 1361.2 h21 M106.9 1105.76 h10.6 M106.9 1124.02 h10.6 M106.9 1142.28 h10.6 M106.9 1160.54 h10.6 M106.9 1197.06 h10.6 M106.9 1215.32 h10.6 M106.9 1233.58 h10.6 M106.9 1251.84 h10.6 M106.9 1288.36 h10.6 M106.9 1306.62 h10.6 M106.9 1324.88 h10.6 M106.9 1343.14 h10.6 M106.9 1379.66 h10.6 M106.9 1397.92 h10.6 M106.9 1416.18 h10.6 M106.9 1434.44 h10.6" stroke="#000" stroke-width="2" fill="none"/>
<rect x="106.9" y="1088.7" width="698.4" height="360.1" fill="none" stroke="#000" stroke-width="2.1"/>
</g>
<g filter="url(#tb)" font-family="'Liberation Sans', Arial, Helvetica, sans-serif" font-weight="bold" font-size="24.8" fill="#000">
<text x="54.09" y="1186.5" textLength="45.61" lengthAdjust="spacingAndGlyphs">0.05</text>
<text x="86.67" y="1278.3" textLength="13.03" lengthAdjust="spacingAndGlyphs">0</text>
<text x="46.28" y="1368.9" textLength="53.42" lengthAdjust="spacingAndGlyphs">-0.05</text>
<text x="109.75" y="1470.2" textLength="39.1" lengthAdjust="spacingAndGlyphs">18s</text>
<text x="441.83" y="1470.2" textLength="52.14" lengthAdjust="spacingAndGlyphs">18s5</text>
</g>
<text transform="translate(28.4 1089.9) rotate(-90)" text-anchor="end" font-family="'Liberation Sans', Arial, Helvetica, sans-serif" font-size="15.8" fill="#1a1a1a" stroke="#1a1a1a" stroke-width="0.25">mW</text>
<text filter="url(#tb)" x="160.5" y="1524.2" font-family="'Liberation Serif', 'Times New Roman', Times, serif" font-weight="bold" font-size="29.26" textLength="543" lengthAdjust="spacingAndGlyphs" fill="#000">1214317595.9654 : Jun 29 2018 14:26:17 UTC</text>
<rect x="216.4" y="1049.1" width="533" height="73.2" fill="#fff" stroke="#000" stroke-width="2.1"/>
<path d="M236 1066.5 H331.7" stroke="#6666ff" stroke-width="2"/>
<text filter="url(#tb)" x="349" y="1073.5" font-family="'Liberation Serif', 'Times New Roman', Times, serif" font-weight="bold" font-size="29.28" textLength="313" lengthAdjust="spacingAndGlyphs" fill="#000">V1:SPRB_B4_PD1_Audio</text>
<path d="M236 1104.8 H331.7" stroke="#ff6600" stroke-width="2"/>
<text filter="url(#tb)" x="349" y="1109.6" font-family="'Liberation Serif', 'Times New Roman', Times, serif" font-weight="bold" font-size="29.28" textLength="313" lengthAdjust="spacingAndGlyphs" fill="#000">V1:SPRB_B4_PD2_Audio</text>
<g clip-path="url(#c6)" fill="none" stroke-linejoin="round" stroke-linecap="butt">
<path d="M106.85 1312.82 L107.85 1311.72 L108.85 1310.59 L109.85 1309.45 L110.85 1308.28 L111.85 1307.1 L112.85 1305.89 L113.85 1304.66 L114.85 1303.41 L115.85 1302.15 L116.85 1300.86 L117.85 1299.55 L118.85 1298.23 L119.85 1296.89 L120.85 1295.53 L121.85 1294.15 L122.85 1292.75 L123.85 1291.32 L124.85 1289.88 L125.85 1288.41 L126.85 1286.92 L127.85 1285.41 L128.85 1283.87 L129.85 1282.31 L130.85 1280.72 L131.85 1279.1 L132.85 1277.46 L133.85 1275.79 L134.85 1274.07 L135.85 1272.3 L136.85 1270.49 L137.85 1268.64 L138.85 1266.75 L139.85 1264.84 L140.85 1262.9 L141.85 1260.95 L142.85 1258.98 L143.85 1257 L144.85 1255.02 L145.85 1253.05 L146.85 1251.08 L147.85 1249.12 L148.85 1247.17 L149.85 1245.19 L150.85 1243.21 L151.85 1241.22 L152.85 1239.22 L153.85 1237.21 L154.85 1235.2 L155.85 1233.19 L156.85 1231.17 L157.85 1229.15 L158.85 1227.14 L159.85 1225.13 L160.85 1223.12 L161.85 1221.11 L162.85 1219.09 L163.85 1217.04 L164.85 1214.96 L165.85 1212.87 L166.85 1210.78 L167.85 1208.68 L168.85 1206.61 L169.85 1204.55 L170.85 1202.52 L171.85 1200.53 L172.85 1198.59 L173.85 1196.7 L174.85 1194.88 L175.85 1193.13 L176.85 1191.43 L177.85 1189.76 L178.85 1188.12 L179.85 1186.51 L180.85 1184.92 L181.85 1183.37 L182.85 1181.85 L183.85 1180.37 L184.85 1178.91 L185.85 1177.49 L186.85 1176.1 L187.85 1174.74 L188.85 1173.42 L189.85 1172.13 L190.85 1170.88 L191.85 1169.65 L192.85 1168.46 L193.85 1167.29 L194.85 1166.15 L195.85 1165.03 L196.85 1163.93 L197.85 1162.86 L198.85 1161.8 L199.85 1160.76 L200.85 1159.73 L201.85 1158.71 L202.85 1157.71 L203.85 1156.72 L204.85 1155.72 L205.85 1154.71 L206.85 1153.7 L207.85 1152.7 L208.85 1151.7 L209.85 1150.71 L210.85 1149.74 L211.85 1148.8 L212.85 1147.9 L213.85 1147.03 L214.85 1146.2 L215.85 1145.43 L216.85 1144.71 L217.85 1144.06 L218.85 1143.45 L219.85 1142.84 L220.85 1142.25 L221.85 1141.66 L222.85 1141.1 L223.85 1140.55 L224.85 1140.03 L225.85 1139.54 L226.85 1139.09 L227.85 1138.68 L228.85 1138.31 L229.85 1137.99 L230.85 1137.73 L231.85 1137.52 L232.85 1137.36 L233.85 1137.21 L234.85 1137.06 L235.85 1136.92 L236.85 1136.79 L237.85 1136.68 L238.85 1136.58 L239.85 1136.49 L240.85 1136.43 L241.85 1136.38 L242.85 1136.36 L243.85 1136.36 L244.85 1136.44 L245.85 1136.58 L246.85 1136.78 L247.85 1137.04 L248.85 1137.35 L249.85 1137.7 L250.85 1138.09 L251.85 1138.51 L252.85 1138.96 L253.85 1139.42 L254.85 1139.9 L255.85 1140.38 L256.85 1140.86 L257.85 1141.35 L258.85 1141.88 L259.85 1142.48 L260.85 1143.13 L261.85 1143.83 L262.85 1144.58 L263.85 1145.37 L264.85 1146.19 L265.85 1147.06 L266.85 1147.95 L267.85 1148.87 L268.85 1149.82 L269.85 1150.78 L270.85 1151.76 L271.85 1152.75 L272.85 1153.78 L273.85 1154.86 L274.85 1155.99 L275.85 1157.16 L276.85 1158.37 L277.85 1159.63 L278.85 1160.93 L279.85 1162.28 L280.85 1163.66 L281.85 1165.08 L282.85 1166.54 L283.85 1168.04 L284.85 1169.57 L285.85 1171.14 L286.85 1172.79 L287.85 1174.53 L288.85 1176.36 L289.85 1178.25 L290.85 1180.21 L291.85 1182.22 L292.85 1184.28 L293.85 1186.38 L294.85 1188.51 L295.85 1190.66 L296.85 1192.82 L297.85 1194.98 L298.85 1197.14 L299.85 1199.29 L300.85 1201.47 L301.85 1203.7 L302.85 1205.97 L303.85 1208.28 L304.85 1210.62 L305.85 1212.97 L306.85 1215.33 L307.85 1217.7 L308.85 1220.06 L309.85 1222.41 L310.85 1224.74 L311.85 1227.03 L312.85 1229.29 L313.85 1231.51 L314.85 1233.68 L315.85 1235.83 L316.85 1237.95 L317.85 1240.05 L318.85 1242.13 L319.85 1244.21 L320.85 1246.27 L321.85 1248.33 L322.85 1250.4 L323.85 1252.47 L324.85 1254.55 L325.85 1256.64 L326.85 1258.76 L327.85 1260.9 L328.85 1263.05 L329.85 1265.21 L330.85 1267.38 L331.85 1269.55 L332.85 1271.74 L333.85 1273.93 L334.85 1276.12 L335.85 1278.33 L336.85 1280.54 L337.85 1282.76 L338.85 1284.98 L339.85 1287.21 L340.85 1289.45 L341.85 1291.7 L342.85 1293.96 L343.85 1296.25 L344.85 1298.56 L345.85 1300.88 L346.85 1303.21 L347.85 1305.55 L348.85 1307.89 L349.85 1310.23 L350.85 1312.56 L351.85 1314.87 L352.85 1317.17 L353.85 1319.44 L354.85 1321.69 L355.85 1323.91 L356.85 1326.1 L357.85 1328.28 L358.85 1330.45 L359.85 1332.61 L360.85 1334.75 L361.85 1336.88 L362.85 1339 L363.85 1341.1 L364.85 1343.18 L365.85 1345.25 L366.85 1347.3 L367.85 1349.33 L368.85 1351.34 L369.85 1353.33 L370.85 1355.33 L371.85 1357.37 L372.85 1359.43 L373.85 1361.5 L374.85 1363.54 L375.85 1365.55 L376.85 1367.49 L377.85 1369.34 L378.85 1371.09 L379.85 1372.71 L380.85 1374.19 L381.85 1375.51 L382.85 1376.76 L383.85 1377.95 L384.85 1379.09 L385.85 1380.17 L386.85 1381.21 L387.85 1382.21 L388.85 1383.18 L389.85 1384.11 L390.85 1385.01 L391.85 1385.88 L392.85 1386.74 L393.85 1387.58 L394.85 1388.41 L395.85 1389.24 L396.85 1390.05 L397.85 1390.84 L398.85 1391.62 L399.85 1392.39 L400.85 1393.14 L401.85 1393.86 L402.85 1394.57 L403.85 1395.26 L404.85 1395.93 L405.85 1396.57 L406.85 1397.19 L407.85 1397.79 L408.85 1398.36 L409.85 1398.9 L410.85 1399.44 L411.85 1399.98 L412.85 1400.52 L413.85 1401.04 L414.85 1401.55 L415.85 1402.04 L416.85 1402.51 L417.85 1402.96 L418.85 1403.38 L419.85 1403.77 L420.85 1404.12 L421.85 1404.43 L422.85 1404.71 L423.85 1404.94 L424.85 1405.15 L425.85 1405.37 L426.85 1405.58 L427.85 1405.78 L428.85 1405.96 L429.85 1406.13 L430.85 1406.27 L431.85 1406.39 L432.85 1406.47 L433.85 1406.53 L434.85 1406.54 L435.85 1406.49 L436.85 1406.35 L437.85 1406.14 L438.85 1405.86 L439.85 1405.54 L440.85 1405.16 L441.85 1404.75 L442.85 1404.32 L443.85 1403.87 L444.85 1403.4 L445.85 1402.95 L446.85 1402.45 L447.85 1401.83 L448.85 1401.13 L449.85 1400.35 L450.85 1399.52 L451.85 1398.67 L452.85 1397.8 L453.85 1396.95 L454.85 1396.13 L455.85 1395.37 L456.85 1394.69 L457.85 1394.08 L458.85 1393.47 L459.85 1392.87 L460.85 1392.28 L461.85 1391.71 L462.85 1391.16 L463.85 1390.64 L464.85 1390.16 L465.85 1389.72 L466.85 1389.33 L467.85 1388.99 L468.85 1388.72 L469.85 1388.47 L470.85 1388.23 L471.85 1387.99 L472.85 1387.78 L473.85 1387.58 L474.85 1387.39 L475.85 1387.23 L476.85 1387.09 L477.85 1386.98 L478.85 1386.89 L479.85 1386.84 L480.85 1386.8 L481.85 1386.77 L482.85 1386.75 L483.85 1386.73 L484.85 1386.72 L485.85 1386.7 L486.85 1386.69 L487.85 1386.67 L488.85 1386.64 L489.85 1386.61 L490.85 1386.57 L491.85 1386.45 L492.85 1386.17 L493.85 1385.75 L494.85 1385.2 L495.85 1384.55 L496.85 1383.83 L497.85 1383.06 L498.85 1382.26 L499.85 1381.46 L500.85 1380.52 L501.85 1379.43 L502.85 1378.21 L503.85 1376.87 L504.85 1375.43 L505.85 1373.89 L506.85 1372.28 L507.85 1370.61 L508.85 1368.83 L509.85 1366.86 L510.85 1364.72 L511.85 1362.43 L512.85 1360.02 L513.85 1357.49 L514.85 1354.88 L515.85 1352.18 L516.85 1349.42 L517.85 1346.45 L518.85 1343.3 L519.85 1339.99 L520.85 1336.57 L521.85 1333.08 L522.85 1329.54 L523.85 1325.99 L524.85 1322.48 L525.85 1318.9 L526.85 1315.2 L527.85 1311.43 L528.85 1307.62 L529.85 1303.83 L530.85 1300.1 L531.85 1296.48 L532.85 1293.01 L533.85 1289.67 L534.85 1286.27 L535.85 1282.86 L536.85 1279.5 L537.85 1276.27 L538.85 1273.24 L539.85 1270.49 L540.85 1268.07 L541.85 1266.07 L542.85 1264.35 L543.85 1262.8 L544.85 1261.39 L545.85 1260.09 L546.85 1258.87 L547.85 1257.71 L548.85 1256.57 L549.85 1255.44 L550.85 1254.31 L551.85 1253.26 L552.85 1252.26 L553.85 1251.31 L554.85 1250.39 L555.85 1249.48 L556.85 1248.56 L557.85 1247.62 L558.85 1246.64 L559.85 1245.6 L560.85 1244.49 L561.85 1243.3 L562.85 1242.09 L563.85 1240.84 L564.85 1239.56 L565.85 1238.22 L566.85 1236.83 L567.85 1235.36 L568.85 1233.81 L569.85 1232.16 L570.85 1230.41 L571.85 1228.54 L572.85 1226.54 L573.85 1224.15 L574.85 1221.36 L575.85 1218.26 L576.85 1214.98 L577.85 1211.63 L578.85 1208.32 L579.85 1205.16 L580.85 1202.27 L581.85 1199.63 L582.85 1196.98 L583.85 1194.36 L584.85 1191.81 L585.85 1189.37 L586.85 1187.07 L587.85 1184.96 L588.85 1183.08 L589.85 1181.44 L590.85 1179.83 L591.85 1178.24 L592.85 1176.75 L593.85 1175.45 L594.85 1174.41 L595.85 1173.73 L596.85 1173.46 L597.85 1173.33 L598.85 1173.21 L599.85 1173.11 L600.85 1173.04 L601.85 1172.98 L602.85 1172.95 L603.85 1172.95 L604.85 1173.21 L605.85 1173.76 L606.85 1174.56 L607.85 1175.54 L608.85 1176.66 L609.85 1177.87 L610.85 1179.1 L611.85 1180.32 L612.85 1181.59 L613.85 1183.15 L614.85 1184.91 L615.85 1186.79 L616.85 1188.7 L617.85 1190.56 L618.85 1192.29 L619.85 1193.8 L620.85 1195.05 L621.85 1196.27 L622.85 1197.5 L623.85 1198.69 L624.85 1199.8 L625.85 1200.75 L626.85 1201.51 L627.85 1202.01 L628.85 1202.21 L629.85 1202.14 L630.85 1201.89 L631.85 1201.5 L632.85 1200.98 L633.85 1200.34 L634.85 1199.6 L635.85 1198.78 L636.85 1197.91 L637.85 1196.91 L638.85 1195.39 L639.85 1193.37 L640.85 1190.93 L641.85 1188.19 L642.85 1185.24 L643.85 1182.2 L644.85 1179.16 L645.85 1176.22 L646.85 1173.19 L647.85 1169.89 L648.85 1166.41 L649.85 1162.84 L650.85 1159.25 L651.85 1155.75 L652.85 1152.42 L653.85 1149.34 L654.85 1146.5 L655.85 1143.55 L656.85 1140.61 L657.85 1137.8 L658.85 1135.29 L659.85 1133.22 L660.85 1131.73 L661.85 1130.85 L662.85 1130.1 L663.85 1129.46 L664.85 1128.95 L665.85 1128.61 L666.85 1128.48 L667.85 1128.64 L668.85 1129.17 L669.85 1130.01 L670.85 1131.09 L671.85 1132.38 L672.85 1133.81 L673.85 1135.34 L674.85 1137.3 L675.85 1140.17 L676.85 1143.75 L677.85 1147.85 L678.85 1152.29 L679.85 1156.86 L680.85 1161.39 L681.85 1165.68 L682.85 1169.64 L683.85 1173.86 L684.85 1178.33 L685.85 1182.86 L686.85 1187.28 L687.85 1191.4 L688.85 1195.06 L689.85 1198.07 L690.85 1200.25 L691.85 1201.94 L692.85 1203.56 L693.85 1205.06 L694.85 1206.42 L695.85 1207.58 L696.85 1208.51 L697.85 1209.16 L698.85 1209.49 L699.85 1209.46 L700.85 1209 L701.85 1208.17 L702.85 1207.02 L703.85 1205.62 L704.85 1204.02 L705.85 1202.28 L706.85 1200.46 L707.85 1198.61 L708.85 1196.23 L709.85 1193.11 L710.85 1189.49 L711.85 1185.58 L712.85 1181.6 L713.85 1177.77 L714.85 1174.32 L715.85 1171.46 L716.85 1169.17 L717.85 1166.85 L718.85 1164.59 L719.85 1162.53 L720.85 1160.81 L721.85 1159.56 L722.85 1158.92 L723.85 1158.97 L724.85 1159.52 L725.85 1160.48 L726.85 1161.78 L727.85 1163.36 L728.85 1165.15 L729.85 1167.08 L730.85 1169.27 L731.85 1172.36 L732.85 1176.31 L733.85 1181 L734.85 1186.3 L735.85 1192.09 L736.85 1198.24 L737.85 1204.62 L738.85 1211.14 L739.85 1218.68 L740.85 1227.5 L741.85 1237.23 L742.85 1247.5 L743.85 1257.94 L744.85 1268.19 L745.85 1277.87 L746.85 1286.62 L747.85 1294.45 L748.85 1302.15 L749.85 1309.69 L750.85 1316.98 L751.85 1323.92 L752.85 1330.42 L753.85 1336.39 L754.85 1341.74 L755.85 1346.4 L756.85 1350.85 L757.85 1355.18 L758.85 1359.21 L759.85 1362.8 L760.85 1365.78 L761.85 1368.01 L762.85 1369.36 L763.85 1370.34 L764.85 1371.16 L765.85 1371.72 L766.85 1371.92 L767.85 1371.33 L768.85 1369.73 L769.85 1367.37 L770.85 1364.48 L771.85 1361.28 L772.85 1357.89 L773.85 1353.44 L774.85 1347.87 L775.85 1341.42 L776.85 1334.33 L777.85 1326.84 L778.85 1319.18 L779.85 1311.54 L780.85 1303.23 L781.85 1294.23 L782.85 1284.77 L783.85 1275.06 L784.85 1265.33 L785.85 1255.81 L786.85 1246.64 L787.85 1237.08 L788.85 1227.16 L789.85 1217.28 L790.85 1207.85 L791.85 1199.25 L792.85 1191.9 L793.85 1186.11 L794.85 1180.82 L795.85 1175.72 L796.85 1171.04 L797.85 1166.99 L798.85 1163.78 L799.85 1161.63 L800.85 1160.72 L801.85 1160.25 L802.85 1159.88 L803.85 1159.6 L804.85 1159.46 L805.39 1159.43" stroke="#6666ff" stroke-width="2.35"/>
<path d="M106.85 1322.67 L107.85 1321.38 L108.85 1320.06 L109.85 1318.72 L110.85 1317.34 L111.85 1315.94 L112.85 1314.52 L113.85 1313.06 L114.85 1311.59 L115.85 1310.09 L116.85 1308.56 L117.85 1307.01 L118.85 1305.44 L119.85 1303.84 L120.85 1302.21 L121.85 1300.56 L122.85 1298.87 L123.85 1297.16 L124.85 1295.41 L125.85 1293.64 L126.85 1291.84 L127.85 1290.01 L128.85 1288.16 L129.85 1286.28 L130.85 1284.38 L131.85 1282.45 L132.85 1280.5 L133.85 1278.52 L134.85 1276.5 L135.85 1274.42 L136.85 1272.29 L137.85 1270.12 L138.85 1267.92 L139.85 1265.69 L140.85 1263.44 L141.85 1261.18 L142.85 1258.91 L143.85 1256.63 L144.85 1254.37 L145.85 1252.11 L146.85 1249.88 L147.85 1247.67 L148.85 1245.47 L149.85 1243.28 L150.85 1241.1 L151.85 1238.91 L152.85 1236.73 L153.85 1234.54 L154.85 1232.36 L155.85 1230.17 L156.85 1227.97 L157.85 1225.77 L158.85 1223.56 L159.85 1221.34 L160.85 1219.11 L161.85 1216.86 L162.85 1214.57 L163.85 1212.22 L164.85 1209.83 L165.85 1207.41 L166.85 1204.97 L167.85 1202.54 L168.85 1200.11 L169.85 1197.71 L170.85 1195.36 L171.85 1193.05 L172.85 1190.82 L173.85 1188.67 L174.85 1186.62 L175.85 1184.68 L176.85 1182.82 L177.85 1181 L178.85 1179.23 L179.85 1177.51 L180.85 1175.83 L181.85 1174.19 L182.85 1172.58 L183.85 1171.02 L184.85 1169.48 L185.85 1167.98 L186.85 1166.52 L187.85 1165.08 L188.85 1163.67 L189.85 1162.28 L190.85 1160.93 L191.85 1159.6 L192.85 1158.31 L193.85 1157.04 L194.85 1155.8 L195.85 1154.58 L196.85 1153.38 L197.85 1152.21 L198.85 1151.05 L199.85 1149.91 L200.85 1148.78 L201.85 1147.67 L202.85 1146.56 L203.85 1145.47 L204.85 1144.37 L205.85 1143.26 L206.85 1142.13 L207.85 1141.01 L208.85 1139.9 L209.85 1138.8 L210.85 1137.72 L211.85 1136.67 L212.85 1135.66 L213.85 1134.69 L214.85 1133.77 L215.85 1132.92 L216.85 1132.12 L217.85 1131.4 L218.85 1130.74 L219.85 1130.08 L220.85 1129.43 L221.85 1128.81 L222.85 1128.2 L223.85 1127.61 L224.85 1127.05 L225.85 1126.53 L226.85 1126.04 L227.85 1125.6 L228.85 1125.19 L229.85 1124.84 L230.85 1124.54 L231.85 1124.3 L232.85 1124.11 L233.85 1123.92 L234.85 1123.73 L235.85 1123.56 L236.85 1123.4 L237.85 1123.26 L238.85 1123.13 L239.85 1123.02 L240.85 1122.94 L241.85 1122.88 L242.85 1122.85 L243.85 1122.85 L244.85 1122.92 L245.85 1123.04 L246.85 1123.21 L247.85 1123.44 L248.85 1123.7 L249.85 1124.01 L250.85 1124.35 L251.85 1124.72 L252.85 1125.11 L253.85 1125.52 L254.85 1125.95 L255.85 1126.38 L256.85 1126.82 L257.85 1127.26 L258.85 1127.75 L259.85 1128.3 L260.85 1128.91 L261.85 1129.58 L262.85 1130.29 L263.85 1131.06 L264.85 1131.87 L265.85 1132.73 L266.85 1133.64 L267.85 1134.58 L268.85 1135.56 L269.85 1136.58 L270.85 1137.63 L271.85 1138.72 L272.85 1139.93 L273.85 1141.26 L274.85 1142.71 L275.85 1144.26 L276.85 1145.9 L277.85 1147.62 L278.85 1149.4 L279.85 1151.25 L280.85 1153.13 L281.85 1155.05 L282.85 1156.98 L283.85 1158.93 L284.85 1160.87 L285.85 1162.79 L286.85 1164.76 L287.85 1166.77 L288.85 1168.84 L289.85 1170.96 L290.85 1173.12 L291.85 1175.31 L292.85 1177.54 L293.85 1179.79 L294.85 1182.07 L295.85 1184.38 L296.85 1186.69 L297.85 1189.02 L298.85 1191.36 L299.85 1193.7 L300.85 1196.08 L301.85 1198.51 L302.85 1200.99 L303.85 1203.5 L304.85 1206.03 L305.85 1208.58 L306.85 1211.15 L307.85 1213.71 L308.85 1216.28 L309.85 1218.82 L310.85 1221.35 L311.85 1223.85 L312.85 1226.3 L313.85 1228.72 L314.85 1231.09 L315.85 1233.44 L316.85 1235.76 L317.85 1238.06 L318.85 1240.35 L319.85 1242.62 L320.85 1244.88 L321.85 1247.15 L322.85 1249.41 L323.85 1251.68 L324.85 1253.96 L325.85 1256.26 L326.85 1258.57 L327.85 1260.91 L328.85 1263.26 L329.85 1265.62 L330.85 1267.99 L331.85 1270.37 L332.85 1272.75 L333.85 1275.14 L334.85 1277.54 L335.85 1279.94 L336.85 1282.35 L337.85 1284.77 L338.85 1287.2 L339.85 1289.63 L340.85 1292.07 L341.85 1294.51 L342.85 1296.97 L343.85 1299.46 L344.85 1301.97 L345.85 1304.49 L346.85 1307.02 L347.85 1309.56 L348.85 1312.1 L349.85 1314.64 L350.85 1317.17 L351.85 1319.68 L352.85 1322.18 L353.85 1324.66 L354.85 1327.1 L355.85 1329.52 L356.85 1331.91 L357.85 1334.3 L358.85 1336.68 L359.85 1339.05 L360.85 1341.41 L361.85 1343.76 L362.85 1346.09 L363.85 1348.4 L364.85 1350.69 L365.85 1352.95 L366.85 1355.19 L367.85 1357.41 L368.85 1359.6 L369.85 1361.75 L370.85 1363.9 L371.85 1366.09 L372.85 1368.29 L373.85 1370.49 L374.85 1372.66 L375.85 1374.78 L376.85 1376.84 L377.85 1378.81 L378.85 1380.67 L379.85 1382.4 L380.85 1383.99 L381.85 1385.43 L382.85 1386.79 L383.85 1388.08 L384.85 1389.33 L385.85 1390.51 L386.85 1391.65 L387.85 1392.75 L388.85 1393.81 L389.85 1394.83 L390.85 1395.83 L391.85 1396.8 L392.85 1397.75 L393.85 1398.69 L394.85 1399.62 L395.85 1400.55 L396.85 1401.47 L397.85 1402.38 L398.85 1403.28 L399.85 1404.16 L400.85 1405.03 L401.85 1405.87 L402.85 1406.69 L403.85 1407.49 L404.85 1408.26 L405.85 1409 L406.85 1409.7 L407.85 1410.37 L408.85 1411 L409.85 1411.59 L410.85 1412.17 L411.85 1412.75 L412.85 1413.32 L413.85 1413.88 L414.85 1414.42 L415.85 1414.95 L416.85 1415.44 L417.85 1415.91 L418.85 1416.35 L419.85 1416.74 L420.85 1417.1 L421.85 1417.41 L422.85 1417.66 L423.85 1417.87 L424.85 1418.07 L425.85 1418.26 L426.85 1418.44 L427.85 1418.59 L428.85 1418.73 L429.85 1418.83 L430.85 1418.9 L431.85 1418.92 L432.85 1418.88 L433.85 1418.76 L434.85 1418.55 L435.85 1418.28 L436.85 1417.95 L437.85 1417.56 L438.85 1417.13 L439.85 1416.67 L440.85 1416.18 L441.85 1415.67 L442.85 1415.15 L443.85 1414.59 L444.85 1413.87 L445.85 1413 L446.85 1412.01 L447.85 1410.91 L448.85 1409.74 L449.85 1408.51 L450.85 1407.25 L451.85 1405.99 L452.85 1404.74 L453.85 1403.53 L454.85 1402.39 L455.85 1401.34 L456.85 1400.4 L457.85 1399.57 L458.85 1398.76 L459.85 1397.95 L460.85 1397.16 L461.85 1396.39 L462.85 1395.65 L463.85 1394.95 L464.85 1394.3 L465.85 1393.71 L466.85 1393.18 L467.85 1392.73 L468.85 1392.35 L469.85 1392 L470.85 1391.69 L471.85 1391.4 L472.85 1391.13 L473.85 1390.88 L474.85 1390.65 L475.85 1390.43 L476.85 1390.22 L477.85 1390.02 L478.85 1389.83 L479.85 1389.64 L480.85 1389.47 L481.85 1389.32 L482.85 1389.2 L483.85 1389.08 L484.85 1388.97 L485.85 1388.86 L486.85 1388.73 L487.85 1388.59 L488.85 1388.43 L489.85 1388.24 L490.85 1388.01 L491.85 1387.7 L492.85 1387.24 L493.85 1386.65 L494.85 1385.94 L495.85 1385.14 L496.85 1384.27 L497.85 1383.34 L498.85 1382.38 L499.85 1381.38 L500.85 1380.27 L501.85 1379.01 L502.85 1377.63 L503.85 1376.13 L504.85 1374.53 L505.85 1372.83 L506.85 1371.06 L507.85 1369.22 L508.85 1367.26 L509.85 1365.14 L510.85 1362.85 L511.85 1360.42 L512.85 1357.85 L513.85 1355.17 L514.85 1352.37 L515.85 1349.48 L516.85 1346.48 L517.85 1343.21 L518.85 1339.7 L519.85 1336 L520.85 1332.19 L521.85 1328.3 L522.85 1324.41 L523.85 1320.57 L524.85 1316.84 L525.85 1313.12 L526.85 1309.33 L527.85 1305.51 L528.85 1301.7 L529.85 1297.93 L530.85 1294.26 L531.85 1290.72 L532.85 1287.34 L533.85 1284.12 L534.85 1280.88 L535.85 1277.66 L536.85 1274.52 L537.85 1271.5 L538.85 1268.68 L539.85 1266.09 L540.85 1263.8 L541.85 1261.86 L542.85 1260.16 L543.85 1258.62 L544.85 1257.21 L545.85 1255.9 L546.85 1254.67 L547.85 1253.5 L548.85 1252.36 L549.85 1251.22 L550.85 1250.09 L551.85 1249.04 L552.85 1248.06 L553.85 1247.12 L554.85 1246.21 L555.85 1245.31 L556.85 1244.4 L557.85 1243.46 L558.85 1242.47 L559.85 1241.42 L560.85 1240.29 L561.85 1239.06 L562.85 1237.79 L563.85 1236.47 L564.85 1235.09 L565.85 1233.65 L566.85 1232.13 L567.85 1230.53 L568.85 1228.83 L569.85 1227.03 L570.85 1225.11 L571.85 1223.06 L572.85 1220.87 L573.85 1218.23 L574.85 1215.12 L575.85 1211.66 L576.85 1207.99 L577.85 1204.25 L578.85 1200.56 L579.85 1197.06 L580.85 1193.89 L581.85 1191.01 L582.85 1188.13 L583.85 1185.3 L584.85 1182.54 L585.85 1179.92 L586.85 1177.46 L587.85 1175.23 L588.85 1173.26 L589.85 1171.58 L590.85 1169.98 L591.85 1168.45 L592.85 1167.03 L593.85 1165.77 L594.85 1164.74 L595.85 1163.99 L596.85 1163.56 L597.85 1163.24 L598.85 1162.95 L599.85 1162.7 L600.85 1162.5 L601.85 1162.35 L602.85 1162.27 L603.85 1162.26 L604.85 1162.54 L605.85 1163.14 L606.85 1164.01 L607.85 1165.1 L608.85 1166.34 L609.85 1167.68 L610.85 1169.06 L611.85 1170.43 L612.85 1171.91 L613.85 1173.77 L614.85 1175.89 L615.85 1178.17 L616.85 1180.5 L617.85 1182.76 L618.85 1184.85 L619.85 1186.64 L620.85 1188.07 L621.85 1189.45 L622.85 1190.83 L623.85 1192.15 L624.85 1193.37 L625.85 1194.42 L626.85 1195.25 L627.85 1195.8 L628.85 1196.02 L629.85 1195.96 L630.85 1195.75 L631.85 1195.41 L632.85 1194.95 L633.85 1194.39 L634.85 1193.74 L635.85 1193.01 L636.85 1192.23 L637.85 1191.33 L638.85 1189.88 L639.85 1187.91 L640.85 1185.51 L641.85 1182.78 L642.85 1179.82 L643.85 1176.74 L644.85 1173.63 L645.85 1170.59 L646.85 1167.37 L647.85 1163.77 L648.85 1159.92 L649.85 1155.93 L650.85 1151.92 L651.85 1148.01 L652.85 1144.32 L653.85 1140.98 L654.85 1137.96 L655.85 1134.88 L656.85 1131.82 L657.85 1128.93 L658.85 1126.35 L659.85 1124.24 L660.85 1122.72 L661.85 1121.84 L662.85 1121.1 L663.85 1120.45 L664.85 1119.94 L665.85 1119.6 L666.85 1119.47 L667.85 1119.69 L668.85 1120.38 L669.85 1121.46 L670.85 1122.87 L671.85 1124.52 L672.85 1126.34 L673.85 1128.26 L674.85 1130.63 L675.85 1133.94 L676.85 1138.01 L677.85 1142.63 L678.85 1147.6 L679.85 1152.71 L680.85 1157.77 L681.85 1162.58 L682.85 1167.05 L683.85 1171.82 L684.85 1176.86 L685.85 1181.97 L686.85 1186.96 L687.85 1191.62 L688.85 1195.76 L689.85 1199.17 L690.85 1201.66 L691.85 1203.59 L692.85 1205.46 L693.85 1207.19 L694.85 1208.75 L695.85 1210.09 L696.85 1211.16 L697.85 1211.92 L698.85 1212.3 L699.85 1212.25 L700.85 1211.67 L701.85 1210.61 L702.85 1209.15 L703.85 1207.37 L704.85 1205.34 L705.85 1203.15 L706.85 1200.87 L707.85 1198.56 L708.85 1195.61 L709.85 1191.79 L710.85 1187.37 L711.85 1182.63 L712.85 1177.84 L713.85 1173.28 L714.85 1169.21 L715.85 1165.92 L716.85 1163.38 L717.85 1160.87 L718.85 1158.44 L719.85 1156.25 L720.85 1154.43 L721.85 1153.12 L722.85 1152.45 L723.85 1152.53 L724.85 1153.23 L725.85 1154.45 L726.85 1156.1 L727.85 1158.08 L728.85 1160.31 L729.85 1162.69 L730.85 1165.32 L731.85 1168.89 L732.85 1173.36 L733.85 1178.58 L734.85 1184.42 L735.85 1190.74 L736.85 1197.4 L737.85 1204.26 L738.85 1211.2 L739.85 1218.99 L740.85 1227.85 L741.85 1237.49 L742.85 1247.59 L743.85 1257.85 L744.85 1267.97 L745.85 1277.63 L746.85 1286.54 L747.85 1294.71 L748.85 1302.83 L749.85 1310.86 L750.85 1318.67 L751.85 1326.16 L752.85 1333.22 L753.85 1339.74 L754.85 1345.61 L755.85 1350.74 L756.85 1355.63 L757.85 1360.34 L758.85 1364.75 L759.85 1368.71 L760.85 1372.08 L761.85 1374.71 L762.85 1376.5 L763.85 1377.95 L764.85 1379.19 L765.85 1380.05 L766.85 1380.37 L767.85 1379.63 L768.85 1377.65 L769.85 1374.74 L770.85 1371.2 L771.85 1367.31 L772.85 1363.27 L773.85 1358.08 L774.85 1351.69 L775.85 1344.38 L776.85 1336.42 L777.85 1328.09 L778.85 1319.65 L779.85 1311.31 L780.85 1302.49 L781.85 1293.11 L782.85 1283.34 L783.85 1273.35 L784.85 1263.3 L785.85 1253.36 L786.85 1243.62 L787.85 1233.21 L788.85 1222.25 L789.85 1211.28 L790.85 1200.82 L791.85 1191.39 L792.85 1183.54 L793.85 1177.69 L794.85 1172.5 L795.85 1167.55 L796.85 1163.05 L797.85 1159.21 L798.85 1156.25 L799.85 1154.37 L800.85 1153.75 L801.85 1153.56 L802.85 1153.41 L803.85 1153.31 L804.85 1153.25 L805.39 1153.24" stroke="#ff6600" stroke-width="2.35"/>
</g>
<g>
<path d="M1089.1 1448.8 V1088.7 M1427.1 1448.8 V1088.7 M1086.8 1126.7 H1763.4 M1086.8 1200.7 H1763.4 M1086.8 1273.1 H1763.4 M1086.8 1346.8 H1763.4 M1086.8 1418.9 H1763.4" stroke="#888888" stroke-width="2" stroke-dasharray="2.2 3.8" fill="none"/>
<path d="M1088.9 1448.8 v-12.3 M1156.8 1448.8 v-6.4 M1225 1448.8 v-6.4 M1293.1 1448.8 v-6.4 M1359.2 1448.8 v-6.4 M1426.9 1448.8 v-12.3 M1494.8 1448.8 v-6.4 M1562.9 1448.8 v-6.4 M1630.8 1448.8 v-6.4 M1699.2 1448.8 v-6.4 M1064.8 1126.7 h21 M1064.8 1200.7 h21 M1064.8 1273.1 h21 M1064.8 1346.8 h21 M1064.8 1418.9 h21 M1064.8 1097.48 h10.6 M1064.8 1112.09 h10.6 M1064.8 1141.31 h10.6 M1064.8 1155.92 h10.6 M1064.8 1170.53 h10.6 M1064.8 1185.14 h10.6 M1064.8 1214.36 h10.6 M1064.8 1228.97 h10.6 M1064.8 1243.58 h10.6 M1064.8 1258.19 h10.6 M1064.8 1287.41 h10.6 M1064.8 1302.02 h10.6 M1064.8 1316.63 h10.6 M1064.8 1331.24 h10.6 M1064.8 1360.46 h10.6 M1064.8 1375.07 h10.6 M1064.8 1389.68 h10.6 M1064.8 1404.29 h10.6 M1064.8 1433.51 h10.6" stroke="#000" stroke-width="2" fill="none"/>
<rect x="1064.8" y="1088.7" width="698.6" height="360.1" fill="none" stroke="#000" stroke-width="2.1"/>
</g>
<g filter="url(#tb)" font-family="'Liberation Sans', Arial, Helvetica, sans-serif" font-weight="bold" font-size="24.8" fill="#000">
<text x="1044.57" y="1134.4" textLength="13.03" lengthAdjust="spacingAndGlyphs">2</text>
<text x="1025.02" y="1208.4" textLength="32.58" lengthAdjust="spacingAndGlyphs">1.5</text>
<text x="1044.57" y="1280.8" textLength="13.03" lengthAdjust="spacingAndGlyphs">1</text>
<text x="1025.02" y="1354.5" textLength="32.58" lengthAdjust="spacingAndGlyphs">0.5</text>
<text x="1044.57" y="1426.6" textLength="13.03" lengthAdjust="spacingAndGlyphs">0</text>
<text x="1067.95" y="1470.2" textLength="39.1" lengthAdjust="spacingAndGlyphs">18s</text>
<text x="1400.03" y="1470.2" textLength="52.14" lengthAdjust="spacingAndGlyphs">18s5</text>
</g>
<text transform="translate(986.3 1089.9) rotate(-90)" text-anchor="end" font-family="'Liberation Sans', Arial, Helvetica, sans-serif" font-size="15.8" fill="#1a1a1a" stroke="#1a1a1a" stroke-width="0.25">mW</text>
<text filter="url(#tb)" x="1118.4" y="1524.2" font-family="'Liberation Serif', 'Times New Roman', Times, serif" font-weight="bold" font-size="29.26" textLength="543" lengthAdjust="spacingAndGlyphs" fill="#000">1214317595.9654 : Jun 29 2018 14:26:17 UTC</text>
<rect x="1176.6" y="1049.1" width="600.8" height="83" fill="#fff" stroke="#000" stroke-width="2.1"/>
<path d="M1198 1068.8 H1303.6" stroke="#6666ff" stroke-width="2"/>
<text filter="url(#tb)" x="1327.7" y="1077.5" font-family="'Liberation Serif', 'Times New Roman', Times, serif" font-weight="bold" font-size="33.22" textLength="332.2" lengthAdjust="spacingAndGlyphs" fill="#000">V1:SDB2_B1p_PD2_DC</text>
<path d="M1198 1110.5 H1303.6" stroke="#ff6600" stroke-width="2"/>
<text filter="url(#tb)" x="1327.7" y="1119.2" font-family="'Liberation Serif', 'Times New Roman', Times, serif" font-weight="bold" font-size="33.22" textLength="258.4" lengthAdjust="spacingAndGlyphs" fill="#000">V1:SDB2_B1p_DC</text>
<g clip-path="url(#c7)" fill="none" stroke-linejoin="round" stroke-linecap="butt">
<path d="M1064.85 1243.3 L1065.85 1243.2 L1066.85 1243.09 L1067.85 1242.96 L1068.85 1242.82 L1069.85 1242.67 L1070.85 1242.51 L1071.85 1242.34 L1072.85 1242.15 L1073.85 1241.96 L1074.85 1241.76 L1075.85 1241.55 L1076.85 1241.33 L1077.85 1241.11 L1078.85 1240.87 L1079.85 1240.63 L1080.85 1240.38 L1081.85 1240.13 L1082.85 1239.87 L1083.85 1239.61 L1084.85 1239.34 L1085.85 1239.06 L1086.85 1238.78 L1087.85 1238.5 L1088.85 1238.22 L1089.85 1237.92 L1090.85 1237.6 L1091.85 1237.26 L1092.85 1236.9 L1093.85 1236.52 L1094.85 1236.13 L1095.85 1235.73 L1096.85 1235.31 L1097.85 1234.87 L1098.85 1234.43 L1099.85 1233.97 L1100.85 1233.51 L1101.85 1233.04 L1102.85 1232.56 L1103.85 1232.07 L1104.85 1231.58 L1105.85 1231.09 L1106.85 1230.59 L1107.85 1230.09 L1108.85 1229.6 L1109.85 1229.1 L1110.85 1228.6 L1111.85 1228.11 L1112.85 1227.61 L1113.85 1227.11 L1114.85 1226.59 L1115.85 1226.08 L1116.85 1225.55 L1117.85 1225.02 L1118.85 1224.48 L1119.85 1223.94 L1120.85 1223.39 L1121.85 1222.84 L1122.85 1222.27 L1123.85 1221.71 L1124.85 1221.13 L1125.85 1220.55 L1126.85 1219.97 L1127.85 1219.37 L1128.85 1218.77 L1129.85 1218.17 L1130.85 1217.56 L1131.85 1216.94 L1132.85 1216.32 L1133.85 1215.69 L1134.85 1215.05 L1135.85 1214.39 L1136.85 1213.71 L1137.85 1213.02 L1138.85 1212.31 L1139.85 1211.6 L1140.85 1210.87 L1141.85 1210.14 L1142.85 1209.4 L1143.85 1208.65 L1144.85 1207.91 L1145.85 1207.16 L1146.85 1206.42 L1147.85 1205.68 L1148.85 1204.94 L1149.85 1204.22 L1150.85 1203.5 L1151.85 1202.79 L1152.85 1202.1 L1153.85 1201.42 L1154.85 1200.75 L1155.85 1200.09 L1156.85 1199.43 L1157.85 1198.78 L1158.85 1198.14 L1159.85 1197.5 L1160.85 1196.87 L1161.85 1196.23 L1162.85 1195.6 L1163.85 1194.97 L1164.85 1194.35 L1165.85 1193.72 L1166.85 1193.09 L1167.85 1192.45 L1168.85 1191.82 L1169.85 1191.17 L1170.85 1190.53 L1171.85 1189.88 L1172.85 1189.22 L1173.85 1188.55 L1174.85 1187.87 L1175.85 1187.17 L1176.85 1186.46 L1177.85 1185.74 L1178.85 1185.02 L1179.85 1184.28 L1180.85 1183.55 L1181.85 1182.81 L1182.85 1182.07 L1183.85 1181.33 L1184.85 1180.6 L1185.85 1179.87 L1186.85 1179.16 L1187.85 1178.45 L1188.85 1177.76 L1189.85 1177.08 L1190.85 1176.42 L1191.85 1175.77 L1192.85 1175.15 L1193.85 1174.56 L1194.85 1173.98 L1195.85 1173.44 L1196.85 1172.91 L1197.85 1172.39 L1198.85 1171.88 L1199.85 1171.38 L1200.85 1170.88 L1201.85 1170.4 L1202.85 1169.92 L1203.85 1169.46 L1204.85 1169 L1205.85 1168.55 L1206.85 1168.11 L1207.85 1167.68 L1208.85 1167.25 L1209.85 1166.83 L1210.85 1166.43 L1211.85 1166.03 L1212.85 1165.63 L1213.85 1165.25 L1214.85 1164.87 L1215.85 1164.5 L1216.85 1164.14 L1217.85 1163.79 L1218.85 1163.44 L1219.85 1163.1 L1220.85 1162.75 L1221.85 1162.41 L1222.85 1162.07 L1223.85 1161.74 L1224.85 1161.41 L1225.85 1161.08 L1226.85 1160.76 L1227.85 1160.45 L1228.85 1160.14 L1229.85 1159.84 L1230.85 1159.55 L1231.85 1159.26 L1232.85 1158.99 L1233.85 1158.72 L1234.85 1158.46 L1235.85 1158.22 L1236.85 1157.98 L1237.85 1157.76 L1238.85 1157.55 L1239.85 1157.35 L1240.85 1157.16 L1241.85 1156.98 L1242.85 1156.8 L1243.85 1156.61 L1244.85 1156.43 L1245.85 1156.25 L1246.85 1156.07 L1247.85 1155.9 L1248.85 1155.73 L1249.85 1155.58 L1250.85 1155.44 L1251.85 1155.31 L1252.85 1155.2 L1253.85 1155.1 L1254.85 1155.03 L1255.85 1154.97 L1256.85 1154.94 L1257.85 1154.93 L1258.85 1154.93 L1259.85 1154.93 L1260.85 1154.93 L1261.85 1154.93 L1262.85 1154.93 L1263.85 1154.93 L1264.85 1154.93 L1265.85 1154.93 L1266.85 1154.93 L1267.85 1154.93 L1268.85 1154.93 L1269.85 1154.93 L1270.85 1154.93 L1271.85 1154.93 L1272.85 1154.93 L1273.85 1154.93 L1274.85 1154.93 L1275.85 1154.93 L1276.85 1154.93 L1277.85 1154.93 L1278.85 1154.93 L1279.85 1154.93 L1280.85 1154.93 L1281.85 1154.93 L1282.85 1154.93 L1283.85 1154.93 L1284.85 1154.93 L1285.85 1154.93 L1286.85 1154.93 L1287.85 1154.93 L1288.85 1154.93 L1289.85 1154.93 L1290.85 1154.93 L1291.85 1154.93 L1292.85 1154.93 L1293.85 1154.93 L1294.85 1154.95 L1295.85 1155.04 L1296.85 1155.2 L1297.85 1155.42 L1298.85 1155.7 L1299.85 1156.02 L1300.85 1156.38 L1301.85 1156.77 L1302.85 1157.18 L1303.85 1157.61 L1304.85 1158.04 L1305.85 1158.46 L1306.85 1158.87 L1307.85 1159.27 L1308.85 1159.64 L1309.85 1160.02 L1310.85 1160.41 L1311.85 1160.81 L1312.85 1161.22 L1313.85 1161.64 L1314.85 1162.07 L1315.85 1162.5 L1316.85 1162.95 L1317.85 1163.39 L1318.85 1163.85 L1319.85 1164.3 L1320.85 1164.76 L1321.85 1165.22 L1322.85 1165.68 L1323.85 1166.14 L1324.85 1166.61 L1325.85 1167.06 L1326.85 1167.52 L1327.85 1167.97 L1328.85 1168.42 L1329.85 1168.86 L1330.85 1169.3 L1331.85 1169.74 L1332.85 1170.18 L1333.85 1170.64 L1334.85 1171.1 L1335.85 1171.56 L1336.85 1172.03 L1337.85 1172.5 L1338.85 1172.96 L1339.85 1173.43 L1340.85 1173.88 L1341.85 1174.33 L1342.85 1174.78 L1343.85 1175.21 L1344.85 1175.63 L1345.85 1176.04 L1346.85 1176.44 L1347.85 1176.81 L1348.85 1177.17 L1349.85 1177.51 L1350.85 1177.83 L1351.85 1178.14 L1352.85 1178.45 L1353.85 1178.75 L1354.85 1179.05 L1355.85 1179.34 L1356.85 1179.62 L1357.85 1179.9 L1358.85 1180.17 L1359.85 1180.42 L1360.85 1180.67 L1361.85 1180.9 L1362.85 1181.12 L1363.85 1181.33 L1364.85 1181.53 L1365.85 1181.7 L1366.85 1181.87 L1367.85 1182.01 L1368.85 1182.15 L1369.85 1182.28 L1370.85 1182.41 L1371.85 1182.52 L1372.85 1182.64 L1373.85 1182.75 L1374.85 1182.85 L1375.85 1182.95 L1376.85 1183.05 L1377.85 1183.14 L1378.85 1183.23 L1379.85 1183.32 L1380.85 1183.4 L1381.85 1183.49 L1382.85 1183.57 L1383.85 1183.65 L1384.85 1183.73 L1385.85 1183.82 L1386.85 1183.9 L1387.85 1183.98 L1388.85 1184.05 L1389.85 1184.12 L1390.85 1184.19 L1391.85 1184.25 L1392.85 1184.3 L1393.85 1184.36 L1394.85 1184.41 L1395.85 1184.47 L1396.85 1184.52 L1397.85 1184.58 L1398.85 1184.64 L1399.85 1184.7 L1400.85 1184.77 L1401.85 1184.85 L1402.85 1184.93 L1403.85 1185.01 L1404.85 1185.11 L1405.85 1185.22 L1406.85 1185.33 L1407.85 1185.48 L1408.85 1185.68 L1409.85 1185.92 L1410.85 1186.2 L1411.85 1186.52 L1412.85 1186.88 L1413.85 1187.26 L1414.85 1187.67 L1415.85 1188.11 L1416.85 1188.56 L1417.85 1189.03 L1418.85 1189.51 L1419.85 1190 L1420.85 1190.49 L1421.85 1190.99 L1422.85 1191.48 L1423.85 1191.97 L1424.85 1192.45 L1425.85 1192.91 L1426.85 1193.36 L1427.85 1193.82 L1428.85 1194.3 L1429.85 1194.8 L1430.85 1195.31 L1431.85 1195.83 L1432.85 1196.35 L1433.85 1196.89 L1434.85 1197.43 L1435.85 1197.97 L1436.85 1198.51 L1437.85 1199.04 L1438.85 1199.57 L1439.85 1200.09 L1440.85 1200.6 L1441.85 1201.1 L1442.85 1201.58 L1443.85 1202.05 L1444.85 1202.49 L1445.85 1202.91 L1446.85 1203.32 L1447.85 1203.75 L1448.85 1204.19 L1449.85 1204.63 L1450.85 1205.08 L1451.85 1205.51 L1452.85 1205.94 L1453.85 1206.34 L1454.85 1206.7 L1455.85 1207.03 L1456.85 1207.32 L1457.85 1207.55 L1458.85 1207.72 L1459.85 1207.82 L1460.85 1207.86 L1461.85 1207.89 L1462.85 1207.92 L1463.85 1207.95 L1464.85 1207.97 L1465.85 1208 L1466.85 1208.02 L1467.85 1208.04 L1468.85 1208.05 L1469.85 1208.07 L1470.85 1208.08 L1471.85 1208.09 L1472.85 1208.1 L1473.85 1208.11 L1474.85 1208.12 L1475.85 1208.12 L1476.85 1208.12 L1477.85 1208.1 L1478.85 1208.01 L1479.85 1207.84 L1480.85 1207.6 L1481.85 1207.3 L1482.85 1206.95 L1483.85 1206.56 L1484.85 1206.14 L1485.85 1205.68 L1486.85 1205.2 L1487.85 1204.71 L1488.85 1204.22 L1489.85 1203.73 L1490.85 1203.24 L1491.85 1202.76 L1492.85 1202.24 L1493.85 1201.67 L1494.85 1201.06 L1495.85 1200.41 L1496.85 1199.73 L1497.85 1199.03 L1498.85 1198.3 L1499.85 1197.54 L1500.85 1196.77 L1501.85 1195.99 L1502.85 1195.2 L1503.85 1194.41 L1504.85 1193.61 L1505.85 1192.82 L1506.85 1192.04 L1507.85 1191.26 L1508.85 1190.5 L1509.85 1189.76 L1510.85 1189.05 L1511.85 1188.34 L1512.85 1187.62 L1513.85 1186.88 L1514.85 1186.14 L1515.85 1185.39 L1516.85 1184.63 L1517.85 1183.87 L1518.85 1183.11 L1519.85 1182.35 L1520.85 1181.6 L1521.85 1180.86 L1522.85 1180.12 L1523.85 1179.39 L1524.85 1178.68 L1525.85 1177.99 L1526.85 1177.31 L1527.85 1176.66 L1528.85 1176.03 L1529.85 1175.43 L1530.85 1174.85 L1531.85 1174.31 L1532.85 1173.8 L1533.85 1173.32 L1534.85 1172.83 L1535.85 1172.34 L1536.85 1171.83 L1537.85 1171.33 L1538.85 1170.84 L1539.85 1170.35 L1540.85 1169.88 L1541.85 1169.44 L1542.85 1169.02 L1543.85 1168.63 L1544.85 1168.28 L1545.85 1167.98 L1546.85 1167.73 L1547.85 1167.53 L1548.85 1167.39 L1549.85 1167.32 L1550.85 1167.31 L1551.85 1167.31 L1552.85 1167.31 L1553.85 1167.31 L1554.85 1167.31 L1555.85 1167.31 L1556.85 1167.31 L1557.85 1167.31 L1558.85 1167.31 L1559.85 1167.31 L1560.85 1167.31 L1561.85 1167.31 L1562.85 1167.31 L1563.85 1167.31 L1564.85 1167.32 L1565.85 1167.39 L1566.85 1167.53 L1567.85 1167.73 L1568.85 1167.98 L1569.85 1168.26 L1570.85 1168.56 L1571.85 1168.89 L1572.85 1169.22 L1573.85 1169.54 L1574.85 1169.85 L1575.85 1170.14 L1576.85 1170.39 L1577.85 1170.59 L1578.85 1170.74 L1579.85 1170.88 L1580.85 1171.02 L1581.85 1171.16 L1582.85 1171.29 L1583.85 1171.42 L1584.85 1171.53 L1585.85 1171.63 L1586.85 1171.71 L1587.85 1171.77 L1588.85 1171.81 L1589.85 1171.82 L1590.85 1171.79 L1591.85 1171.73 L1592.85 1171.63 L1593.85 1171.5 L1594.85 1171.34 L1595.85 1171.15 L1596.85 1170.93 L1597.85 1170.68 L1598.85 1170.42 L1599.85 1170.14 L1600.85 1169.84 L1601.85 1169.52 L1602.85 1169.19 L1603.85 1168.85 L1604.85 1168.51 L1605.85 1168.15 L1606.85 1167.8 L1607.85 1167.38 L1608.85 1166.88 L1609.85 1166.32 L1610.85 1165.69 L1611.85 1165 L1612.85 1164.26 L1613.85 1163.48 L1614.85 1162.66 L1615.85 1161.82 L1616.85 1160.96 L1617.85 1160.08 L1618.85 1159.2 L1619.85 1158.32 L1620.85 1157.44 L1621.85 1156.59 L1622.85 1155.75 L1623.85 1154.94 L1624.85 1154.13 L1625.85 1153.31 L1626.85 1152.47 L1627.85 1151.62 L1628.85 1150.76 L1629.85 1149.9 L1630.85 1149.03 L1631.85 1148.15 L1632.85 1147.27 L1633.85 1146.39 L1634.85 1145.51 L1635.85 1144.63 L1636.85 1143.75 L1637.85 1142.88 L1638.85 1142.01 L1639.85 1141.15 L1640.85 1140.3 L1641.85 1139.46 L1642.85 1138.63 L1643.85 1137.8 L1644.85 1136.96 L1645.85 1136.1 L1646.85 1135.22 L1647.85 1134.34 L1648.85 1133.46 L1649.85 1132.58 L1650.85 1131.71 L1651.85 1130.85 L1652.85 1130.02 L1653.85 1129.21 L1654.85 1128.44 L1655.85 1127.7 L1656.85 1127 L1657.85 1126.35 L1658.85 1125.76 L1659.85 1125.22 L1660.85 1124.73 L1661.85 1124.23 L1662.85 1123.73 L1663.85 1123.23 L1664.85 1122.74 L1665.85 1122.27 L1666.85 1121.83 L1667.85 1121.42 L1668.85 1121.05 L1669.85 1120.72 L1670.85 1120.45 L1671.85 1120.24 L1672.85 1120.1 L1673.85 1120.04 L1674.85 1120.04 L1675.85 1120.11 L1676.85 1120.24 L1677.85 1120.41 L1678.85 1120.63 L1679.85 1120.89 L1680.85 1121.18 L1681.85 1121.51 L1682.85 1121.86 L1683.85 1122.23 L1684.85 1122.61 L1685.85 1123.03 L1686.85 1123.58 L1687.85 1124.29 L1688.85 1125.13 L1689.85 1126.08 L1690.85 1127.13 L1691.85 1128.25 L1692.85 1129.42 L1693.85 1130.64 L1694.85 1131.86 L1695.85 1133.09 L1696.85 1134.29 L1697.85 1135.56 L1698.85 1136.93 L1699.85 1138.4 L1700.85 1139.93 L1701.85 1141.51 L1702.85 1143.13 L1703.85 1144.77 L1704.85 1146.41 L1705.85 1148.03 L1706.85 1149.62 L1707.85 1151.16 L1708.85 1152.64 L1709.85 1154.03 L1710.85 1155.32 L1711.85 1156.58 L1712.85 1157.88 L1713.85 1159.19 L1714.85 1160.5 L1715.85 1161.8 L1716.85 1163.06 L1717.85 1164.28 L1718.85 1165.43 L1719.85 1166.5 L1720.85 1167.48 L1721.85 1168.35 L1722.85 1169.09 L1723.85 1169.69 L1724.85 1170.13 L1725.85 1170.49 L1726.85 1170.83 L1727.85 1171.16 L1728.85 1171.47 L1729.85 1171.75 L1730.85 1172 L1731.85 1172.21 L1732.85 1172.39 L1733.85 1172.53 L1734.85 1172.62 L1735.85 1172.66 L1736.85 1172.64 L1737.85 1172.57 L1738.85 1172.44 L1739.85 1172.26 L1740.85 1172.04 L1741.85 1171.79 L1742.85 1171.51 L1743.85 1171.21 L1744.85 1170.9 L1745.85 1170.58 L1746.85 1170.26 L1747.85 1169.95 L1748.85 1169.65 L1749.85 1169.37 L1750.85 1169.11 L1751.85 1168.84 L1752.85 1168.57 L1753.85 1168.3 L1754.85 1168.03 L1755.85 1167.75 L1756.85 1167.46 L1757.85 1167.18 L1758.85 1166.89 L1759.85 1166.6 L1760.85 1166.3 L1761.85 1166.01 L1763.11 1165.62 L1763.11 1449.32" stroke="#ff6600" stroke-width="2.35"/>
</g>
<g>
<path d="M2049.1 1448.8 V1088.7 M2387.1 1448.8 V1088.7 M2046.9 1125 H2723.4 M2046.9 1254.8 H2723.4 M2046.9 1382.6 H2723.4" stroke="#888888" stroke-width="2" stroke-dasharray="2.2 3.8" fill="none"/>
<path d="M2049 1448.8 v-12.3 M2116.9 1448.8 v-6.4 M2185.1 1448.8 v-6.4 M2253.2 1448.8 v-6.4 M2319.3 1448.8 v-6.4 M2387 1448.8 v-12.3 M2454.9 1448.8 v-6.4 M2523 1448.8 v-6.4 M2590.9 1448.8 v-6.4 M2659.3 1448.8 v-6.4 M2024.9 1125 h21 M2024.9 1254.8 h21 M2024.9 1382.6 h21 M2024.9 1099.24 h10.6 M2024.9 1150.76 h10.6 M2024.9 1176.52 h10.6 M2024.9 1202.28 h10.6 M2024.9 1228.04 h10.6 M2024.9 1279.56 h10.6 M2024.9 1305.32 h10.6 M2024.9 1331.08 h10.6 M2024.9 1356.84 h10.6 M2024.9 1408.36 h10.6 M2024.9 1434.12 h10.6" stroke="#000" stroke-width="2" fill="none"/>
<rect x="2024.9" y="1088.7" width="698.5" height="360.1" fill="none" stroke="#000" stroke-width="2.1"/>
</g>
<g filter="url(#tb)" font-family="'Liberation Sans', Arial, Helvetica, sans-serif" font-weight="bold" font-size="24.8" fill="#000">
<text x="1972.09" y="1132.7" textLength="45.61" lengthAdjust="spacingAndGlyphs">0.05</text>
<text x="2004.67" y="1262.5" textLength="13.03" lengthAdjust="spacingAndGlyphs">0</text>
<text x="1964.28" y="1390.3" textLength="53.42" lengthAdjust="spacingAndGlyphs">-0.05</text>
<text x="2027.95" y="1470.2" textLength="39.1" lengthAdjust="spacingAndGlyphs">18s</text>
<text x="2360.03" y="1470.2" textLength="52.14" lengthAdjust="spacingAndGlyphs">18s5</text>
</g>
<text transform="translate(1943.8 1089.9) rotate(-90)" text-anchor="end" font-family="'Liberation Sans', Arial, Helvetica, sans-serif" font-size="14.2" fill="#3a3a3a" stroke="#3a3a3a" stroke-width="0.25">au</text>
<text filter="url(#tb)" x="2078.5" y="1524.2" font-family="'Liberation Serif', 'Times New Roman', Times, serif" font-weight="bold" font-size="29.26" textLength="543" lengthAdjust="spacingAndGlyphs" fill="#000">1214317595.9654 : Jun 29 2018 14:26:17 UTC</text>
<text filter="url(#tb)" x="2208.9" y="1067.4" font-family="'Liberation Sans', Arial, Helvetica, sans-serif" font-size="28.8" textLength="283.6" lengthAdjust="spacingAndGlyphs" fill="#000">V1:LSC_PRCL__TIME</text>
<g clip-path="url(#c8)" fill="none" stroke-linejoin="round" stroke-linecap="butt">
<path d="M2024.85 1254.15 L2024.85 1259.16 L2026.85 1261.58 L2026.85 1254.76 L2028.85 1256.12 L2028.85 1260.49 L2030.85 1260.52 L2030.85 1255.34 L2032.85 1255.48 L2032.85 1261.34 L2034.85 1263.42 L2034.85 1257.44 L2036.85 1257.83 L2036.85 1262.15 L2038.85 1261.25 L2038.85 1256.96 L2040.85 1258.25 L2040.85 1262.77 L2042.85 1262.43 L2042.85 1257.92 L2044.85 1256.19 L2044.85 1262.85 L2046.85 1263.42 L2046.85 1257.92 L2048.85 1259.57 L2048.85 1262.83 L2050.85 1262.87 L2050.85 1259.36 L2052.85 1259.26 L2052.85 1262.69 L2054.85 1262.7 L2054.85 1259.18 L2056.85 1259.04 L2056.85 1263.56 L2058.85 1263.28 L2058.85 1257.99 L2060.85 1258.84 L2060.85 1262.98 L2062.85 1262.03 L2062.85 1258.67 L2064.85 1257.6 L2064.85 1262.32 L2066.85 1262.21 L2066.85 1257.27 L2068.85 1256.79 L2068.85 1262.42 L2070.85 1261.29 L2070.85 1257.64 L2072.85 1256.35 L2072.85 1260.96 L2074.85 1259.82 L2074.85 1256.43 L2076.85 1254.73 L2076.85 1260.3 L2078.85 1259.54 L2078.85 1254.8 L2080.85 1254.43 L2080.85 1258.12 L2082.85 1256.77 L2082.85 1253.6 L2084.85 1251.57 L2084.85 1256.61 L2086.85 1256.4 L2086.85 1249.98 L2088.85 1247.58 L2088.85 1253.83 L2090.85 1253.56 L2090.85 1248.38 L2092.85 1247.92 L2092.85 1252.37 L2094.85 1250.88 L2094.85 1247.06 L2096.85 1245.74 L2096.85 1252.43 L2098.85 1250.39 L2098.85 1245.46 L2100.85 1244.26 L2100.85 1249.2 L2102.85 1248.68 L2102.85 1243.65 L2104.85 1242.69 L2104.85 1248.84 L2106.85 1247.36 L2106.85 1243.48 L2108.85 1243.29 L2108.85 1247.81 L2110.85 1247.83 L2110.85 1243.15 L2112.85 1243.05 L2112.85 1247.45 L2114.85 1247.03 L2114.85 1243.8 L2116.85 1244.4 L2116.85 1247.2 L2118.85 1248.62 L2118.85 1243.96 L2120.85 1244.1 L2120.85 1248.15 L2122.85 1250.27 L2122.85 1245.12 L2124.85 1243.29 L2124.85 1250.81 L2126.85 1250.37 L2126.85 1245.85 L2128.85 1246.4 L2128.85 1253.7 L2130.85 1252.5 L2130.85 1248.05 L2132.85 1249.39 L2132.85 1254 L2134.85 1255.11 L2134.85 1249.98 L2136.85 1251.32 L2136.85 1256.37 L2138.85 1257.12 L2138.85 1252.21 L2140.85 1253.7 L2140.85 1257.81 L2142.85 1260.13 L2142.85 1255.17 L2144.85 1255.82 L2144.85 1260.39 L2146.85 1262.31 L2146.85 1258.09 L2148.85 1260.43 L2148.85 1263.7 L2150.85 1264.94 L2150.85 1260.7 L2152.85 1263.34 L2152.85 1266.83 L2154.85 1270.22 L2154.85 1264.55 L2156.85 1266.21 L2156.85 1269.51 L2158.85 1272.37 L2158.85 1266.66 L2160.85 1268.61 L2160.85 1272.86 L2162.85 1274.3 L2162.85 1269.04 L2164.85 1271.46 L2164.85 1274.37 L2166.85 1276.45 L2166.85 1272.03 L2168.85 1272.8 L2168.85 1276.67 L2170.85 1278.03 L2170.85 1274.18 L2172.85 1274.95 L2172.85 1277.88 L2174.85 1279.81 L2174.85 1275 L2176.85 1274.92 L2176.85 1280.38 L2178.85 1280.89 L2178.85 1275.65 L2180.85 1275.92 L2180.85 1280.64 L2182.85 1280.49 L2182.85 1276.02 L2184.85 1276.3 L2184.85 1280.4 L2186.85 1282.21 L2186.85 1276.68 L2188.85 1277.02 L2188.85 1281.59 L2190.85 1280.48 L2190.85 1276.89 L2192.85 1275.87 L2192.85 1279.94 L2194.85 1279.92 L2194.85 1274.54 L2196.85 1274.82 L2196.85 1277.98 L2198.85 1278.58 L2198.85 1274.21 L2200.85 1271.95 L2200.85 1277.04 L2202.85 1275.64 L2202.85 1272.35 L2204.85 1269.83 L2204.85 1274.5 L2206.85 1273.66 L2206.85 1269.35 L2208.85 1266.64 L2208.85 1271.92 L2210.85 1268.91 L2210.85 1265.49 L2212.85 1263.37 L2212.85 1266.76 L2214.85 1265.87 L2214.85 1261.91 L2216.85 1259.69 L2216.85 1263.17 L2218.85 1262.28 L2218.85 1258.09 L2220.85 1254.65 L2220.85 1259.9 L2222.85 1257.76 L2222.85 1252.93 L2224.85 1249.98 L2224.85 1255.62 L2226.85 1252.46 L2226.85 1249.02 L2228.85 1247.2 L2228.85 1251.29 L2230.85 1250.59 L2230.85 1246.56 L2232.85 1244.03 L2232.85 1249.7 L2234.85 1247.51 L2234.85 1242.96 L2236.85 1242.35 L2236.85 1247.17 L2238.85 1246.17 L2238.85 1239.87 L2240.85 1240.64 L2240.85 1245.79 L2242.85 1244.67 L2242.85 1241.06 L2244.85 1241.08 L2244.85 1245.21 L2246.85 1245.46 L2246.85 1240.29 L2248.85 1240.37 L2248.85 1246.59 L2250.85 1246.1 L2250.85 1241.28 L2252.85 1241.35 L2252.85 1245.45 L2254.85 1246.18 L2254.85 1242.57 L2256.85 1242.47 L2256.85 1246.32 L2258.85 1247.02 L2258.85 1243.51 L2260.85 1244.66 L2260.85 1248.53 L2262.85 1251.87 L2262.85 1246.52 L2264.85 1248.59 L2264.85 1253.58 L2266.85 1255.93 L2266.85 1251.97 L2268.85 1254.21 L2268.85 1257.66 L2270.85 1259.91 L2270.85 1255.68 L2272.85 1258.82 L2272.85 1262.67 L2274.85 1266.06 L2274.85 1261.6 L2276.85 1265.12 L2276.85 1268.65 L2278.85 1271.64 L2278.85 1267.03 L2280.85 1270.25 L2280.85 1274.69 L2282.85 1277.54 L2282.85 1273.36 L2284.85 1275.43 L2284.85 1280.24 L2286.85 1283.35 L2286.85 1279.08 L2288.85 1282.09 L2288.85 1286.76 L2290.85 1288.96 L2290.85 1284.81 L2292.85 1286.89 L2292.85 1291.96 L2294.85 1293.22 L2294.85 1289.04 L2296.85 1291.64 L2296.85 1294.98 L2298.85 1299.76 L2298.85 1292.83 L2300.85 1294.81 L2300.85 1299.67 L2302.85 1302.11 L2302.85 1296.96 L2304.85 1298.88 L2304.85 1303.36 L2306.85 1304.68 L2306.85 1299.64 L2308.85 1300.18 L2308.85 1305.09 L2310.85 1305.28 L2310.85 1300.26 L2312.85 1301.41 L2312.85 1305.48 L2314.85 1305.36 L2314.85 1302.14 L2316.85 1299.03 L2316.85 1305.33 L2318.85 1305.62 L2318.85 1301.54 L2320.85 1299.83 L2320.85 1304.51 L2322.85 1303.35 L2322.85 1298.7 L2324.85 1297.15 L2324.85 1302.02 L2326.85 1302.51 L2326.85 1295.91 L2328.85 1293.5 L2328.85 1298.25 L2330.85 1296.06 L2330.85 1291.48 L2332.85 1287.13 L2332.85 1292.38 L2334.85 1290.15 L2334.85 1285.33 L2336.85 1282.79 L2336.85 1286.2 L2338.85 1283.76 L2338.85 1279.29 L2340.85 1275.79 L2340.85 1280.22 L2342.85 1276.48 L2342.85 1273.01 L2344.85 1268.82 L2344.85 1275.07 L2346.85 1269.52 L2346.85 1265.04 L2348.85 1262.66 L2348.85 1266.56 L2350.85 1262.47 L2350.85 1258.73 L2352.85 1254.82 L2352.85 1258.31 L2354.85 1254.8 L2354.85 1250.46 L2356.85 1246.97 L2356.85 1251.52 L2358.85 1247.64 L2358.85 1242.45 L2360.85 1239.52 L2360.85 1244 L2362.85 1240.25 L2362.85 1236.16 L2364.85 1233.42 L2364.85 1238.04 L2366.85 1234.43 L2366.85 1230.15 L2368.85 1227.72 L2368.85 1231.82 L2370.85 1231.16 L2370.85 1226.15 L2372.85 1225.91 L2372.85 1228.96 L2374.85 1228.09 L2374.85 1224.85 L2376.85 1223.54 L2376.85 1228.21 L2378.85 1227.19 L2378.85 1223.98 L2380.85 1223.44 L2380.85 1228.55 L2382.85 1230.72 L2382.85 1225.05 L2384.85 1228.09 L2384.85 1231.88 L2386.85 1233.34 L2386.85 1229.53 L2388.85 1232.23 L2388.85 1235.81 L2390.85 1239.41 L2390.85 1234.66 L2392.85 1238.05 L2392.85 1243.67 L2394.85 1246.7 L2394.85 1241.73 L2396.85 1246.72 L2396.85 1251.37 L2398.85 1255.82 L2398.85 1251.53 L2400.85 1256.59 L2400.85 1260.29 L2402.85 1265.18 L2402.85 1261.27 L2404.85 1266.41 L2404.85 1271.31 L2406.85 1276.1 L2406.85 1272.93 L2408.85 1277.94 L2408.85 1281.27 L2410.85 1287 L2410.85 1283.27 L2412.85 1289.53 L2412.85 1293.81 L2414.85 1298.78 L2414.85 1294.31 L2416.85 1301.45 L2416.85 1305.04 L2418.85 1309.26 L2418.85 1304.54 L2420.85 1310.84 L2420.85 1314.62 L2422.85 1319.62 L2422.85 1315.1 L2424.85 1317.4 L2424.85 1323.61 L2426.85 1327.33 L2426.85 1323.55 L2428.85 1326.54 L2428.85 1330.52 L2430.85 1332.98 L2430.85 1329.93 L2432.85 1332.03 L2432.85 1336.32 L2434.85 1338.43 L2434.85 1334.99 L2436.85 1337.35 L2436.85 1340.9 L2438.85 1342.5 L2438.85 1339.45 L2440.85 1339.35 L2440.85 1342.85 L2442.85 1343.95 L2442.85 1339.21 L2444.85 1339.8 L2444.85 1342.99 L2446.85 1342.67 L2446.85 1339.14 L2448.85 1335.95 L2448.85 1340.22 L2450.85 1336.19 L2450.85 1332.38 L2452.85 1329.4 L2452.85 1332.9 L2454.85 1330.37 L2454.85 1324.6 L2456.85 1320.83 L2456.85 1323.52 L2458.85 1319.99 L2458.85 1315.23 L2460.85 1309.15 L2460.85 1312.69 L2462.85 1306.28 L2462.85 1303.83 L2464.85 1297.68 L2464.85 1300.36 L2466.85 1294.23 L2466.85 1290.33 L2468.85 1283.96 L2468.85 1286.99 L2470.85 1278.61 L2470.85 1276.06 L2472.85 1267.85 L2472.85 1271.14 L2474.85 1263.27 L2474.85 1260.26 L2476.85 1252.25 L2476.85 1255.32 L2478.85 1247.89 L2478.85 1244.86 L2480.85 1236.94 L2480.85 1239.41 L2482.85 1231.32 L2482.85 1228.56 L2484.85 1221.84 L2484.85 1224.4 L2486.85 1217.27 L2486.85 1214.66 L2488.85 1208.06 L2488.85 1210.8 L2490.85 1205.06 L2490.85 1202.68 L2492.85 1196.96 L2492.85 1199.94 L2494.85 1194.61 L2494.85 1192.19 L2496.85 1188.96 L2496.85 1191.63 L2498.85 1188.88 L2498.85 1186.9 L2500.85 1184.92 L2500.85 1187.06 L2502.85 1186.36 L2502.85 1183.42 L2504.85 1182.96 L2504.85 1185.05 L2506.85 1186.08 L2506.85 1184.07 L2508.85 1185.7 L2508.85 1187.77 L2510.85 1190.47 L2510.85 1188.2 L2512.85 1190.8 L2512.85 1193.54 L2514.85 1197.86 L2514.85 1195.33 L2516.85 1199.86 L2516.85 1203.58 L2518.85 1210.35 L2518.85 1208.09 L2520.85 1215.05 L2520.85 1216.81 L2522.85 1224.53 L2522.85 1221.87 L2524.85 1230.89 L2524.85 1233.36 L2526.85 1242.74 L2526.85 1240.81 L2528.85 1250.35 L2528.85 1253 L2530.85 1263.34 L2530.85 1261.05 L2532.85 1270.63 L2532.85 1272.71 L2534.85 1283.08 L2534.85 1281.03 L2536.85 1291.05 L2536.85 1293.01 L2538.85 1303.91 L2538.85 1301.37 L2540.85 1312.12 L2540.85 1313.71 L2542.85 1323.28 L2542.85 1321.82 L2544.85 1330.91 L2544.85 1332.3 L2546.85 1341.84 L2546.85 1339.46 L2548.85 1348.62 L2548.85 1350.86 L2550.85 1359.28 L2550.85 1357.11 L2552.85 1365.1 L2552.85 1366.9 L2554.85 1373.08 L2554.85 1370.97 L2556.85 1376.18 L2556.85 1377.59 L2558.85 1382.96 L2558.85 1380.77 L2560.85 1383.55 L2560.85 1385.95 L2562.85 1388.73 L2562.85 1386.92 L2564.85 1388.52 L2564.85 1390.66 L2566.85 1391.56 L2566.85 1389.88 L2568.85 1390.56 L2568.85 1391.97 L2570.85 1392.66 L2570.85 1390.84 L2572.85 1389.78 L2572.85 1391.76 L2574.85 1389.93 L2574.85 1387.86 L2576.85 1385.62 L2576.85 1387.26 L2578.85 1383.51 L2578.85 1382.18 L2580.85 1376.49 L2580.85 1378.68 L2582.85 1371.26 L2582.85 1369.91 L2584.85 1362.07 L2584.85 1363.17 L2586.85 1355.19 L2586.85 1353.46 L2588.85 1343.18 L2588.85 1345.11 L2590.85 1333.3 L2590.85 1331.98 L2592.85 1319.66 L2592.85 1321.5 L2594.85 1308.98 L2594.85 1306.9 L2596.85 1294.64 L2596.85 1296 L2598.85 1283.31 L2598.85 1281.71 L2600.85 1268.07 L2600.85 1270.3 L2602.85 1255.42 L2602.85 1254 L2604.85 1239.83 L2604.85 1240.96 L2606.85 1225.85 L2606.85 1224.24 L2608.85 1209.13 L2608.85 1210.28 L2610.85 1196.5 L2610.85 1194.66 L2612.85 1182.16 L2612.85 1183.61 L2614.85 1171.39 L2614.85 1170.39 L2616.85 1158.78 L2616.85 1160.3 L2618.85 1150.82 L2618.85 1149.35 L2620.85 1142.04 L2620.85 1143.56 L2622.85 1136.91 L2622.85 1135.8 L2624.85 1129.79 L2624.85 1131.48 L2626.85 1127.33 L2626.85 1125.9 L2628.85 1123.34 L2628.85 1124.88 L2630.85 1123.7 L2630.85 1122.17 L2632.85 1120.99 L2632.85 1123.11 L2634.85 1122.03 L2634.85 1120.82 L2636.85 1122.08 L2636.85 1123.56 L2638.85 1125.59 L2638.85 1124.25 L2640.85 1127.04 L2640.85 1128.46 L2642.85 1133.32 L2642.85 1131.96 L2644.85 1139.43 L2644.85 1140.91 L2646.85 1150.45 L2646.85 1149.01 L2648.85 1158.92 L2648.85 1160.54 L2650.85 1172.11 L2650.85 1170.93 L2652.85 1184.3 L2652.85 1185.69 L2654.85 1200.16 L2654.85 1198.92 L2656.85 1213.63 L2656.85 1214.73 L2658.85 1229.93 L2658.85 1228.55 L2660.85 1244.76 L2660.85 1245.9 L2662.85 1262.62 L2662.85 1261.02 L2664.85 1277.69 L2664.85 1278.91 L2666.85 1294.82 L2666.85 1293.52 L2668.85 1310.34 L2668.85 1311.58 L2670.85 1327.8 L2670.85 1326.26 L2672.85 1342.13 L2672.85 1342.98 L2674.85 1358.03 L2674.85 1356.83 L2676.85 1372.47 L2676.85 1373.75 L2678.85 1387.96 L2678.85 1386.1 L2680.85 1396.4 L2680.85 1397.36 L2682.85 1405.46 L2682.85 1404.1 L2684.85 1410.12 L2684.85 1411.24 L2686.85 1413.88 L2686.85 1412.04 L2688.85 1413.9 L2688.85 1415.17 L2690.85 1415.56 L2690.85 1414.77 L2692.85 1415.41 L2692.85 1416.39 L2694.85 1416.69 L2694.85 1415.72 L2696.85 1415.88 L2696.85 1417.22 L2698.85 1417.36 L2698.85 1416.22 L2700.85 1416.06 L2700.85 1417.46 L2702.85 1417.58 L2702.85 1416.47 L2704.85 1416.68 L2704.85 1417.92 L2706.85 1417.98 L2706.85 1416.97 L2708.85 1416.86 L2708.85 1418.08 L2710.85 1418.12 L2710.85 1417.06 L2712.85 1416.68 L2712.85 1417.89 L2714.85 1417.22 L2714.85 1415.9 L2716.85 1415.65 L2716.85 1416.65 L2718.85 1415.87 L2718.85 1414.64 L2720.85 1413.56 L2720.85 1414.76 L2722.85 1413.64 L2722.85 1412.42 L2723.39 1412.73" stroke="#6666ff" stroke-width="2.5"/>
</g>
<path d="M2579.3 39.01 Q2579.55 36.22 2581.58 36.22 Q2583.74 36.22 2583.74 39.01 L2583.1 70.68 L2582.98 96.03 Q2583.36 118.83 2585.89 134.04 L2601.09 131.25 L2569.67 183.46 L2546.86 126.44 L2561.81 132.14 Q2570.68 108.7 2573.22 90.96 L2577.02 64.35 Z" fill="#00e000" filter="url(#sh)"/>
</svg>
</body></html>
